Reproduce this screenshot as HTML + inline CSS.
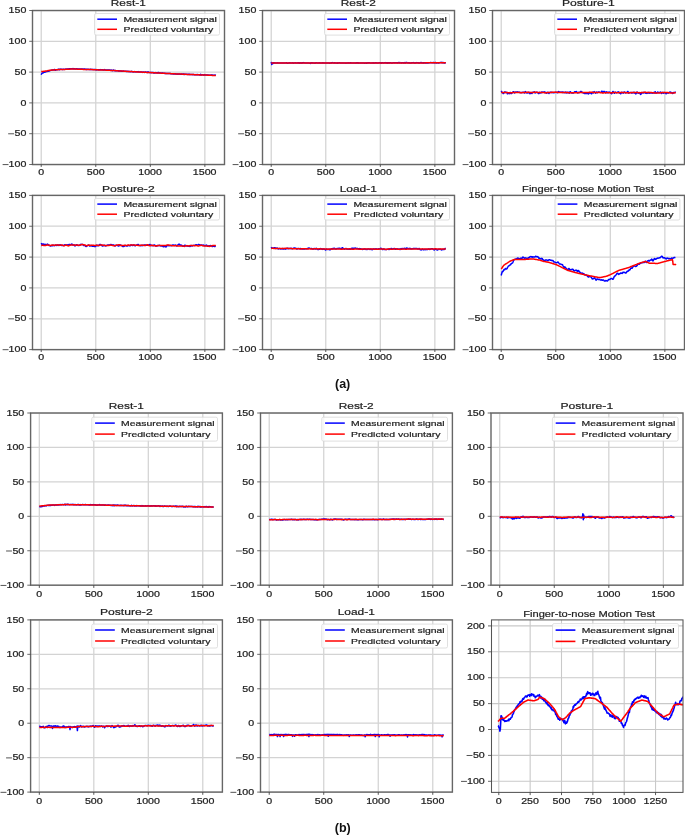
<!DOCTYPE html>
<html><head><meta charset="utf-8"><style>
html,body{margin:0;padding:0;background:#fff;}
svg{display:block;}
text{font-family:"Liberation Sans",sans-serif;}
svg{will-change:transform;}
</style></head><body>
<svg width="685" height="835" viewBox="0 0 685 835">
<rect width="685" height="835" fill="#fff"/>
<line x1="41.23" y1="10.50" x2="41.23" y2="164.50" stroke="#d3d3d3" stroke-width="1.25"/>
<line x1="95.77" y1="10.50" x2="95.77" y2="164.50" stroke="#d3d3d3" stroke-width="1.25"/>
<line x1="150.32" y1="10.50" x2="150.32" y2="164.50" stroke="#d3d3d3" stroke-width="1.25"/>
<line x1="204.86" y1="10.50" x2="204.86" y2="164.50" stroke="#d3d3d3" stroke-width="1.25"/>
<line x1="32.50" y1="164.50" x2="224.50" y2="164.50" stroke="#d3d3d3" stroke-width="1.25"/>
<line x1="32.50" y1="133.70" x2="224.50" y2="133.70" stroke="#d3d3d3" stroke-width="1.25"/>
<line x1="32.50" y1="102.90" x2="224.50" y2="102.90" stroke="#d3d3d3" stroke-width="1.25"/>
<line x1="32.50" y1="72.10" x2="224.50" y2="72.10" stroke="#d3d3d3" stroke-width="1.25"/>
<line x1="32.50" y1="41.30" x2="224.50" y2="41.30" stroke="#d3d3d3" stroke-width="1.25"/>
<line x1="32.50" y1="10.50" x2="224.50" y2="10.50" stroke="#d3d3d3" stroke-width="1.25"/>
<clipPath id="c1"><rect x="32.50" y="10.50" width="192.00" height="154.00"/></clipPath>
<polyline points="41.2,74.8 41.8,73.5 42.4,72.9 43.0,73.0 43.6,72.4 44.1,72.3 44.7,72.3 45.3,71.9 45.9,71.8 46.5,71.6 47.1,71.5 47.6,71.2 48.2,71.3 48.8,71.0 49.4,70.9 50.0,70.5 50.6,70.4 51.2,70.3 51.7,70.2 52.3,70.0 52.9,69.9 53.5,69.9 54.1,69.6 54.7,69.6 55.2,70.2 55.8,70.0 56.4,69.7 57.0,69.7 57.6,69.6 58.2,69.6 58.7,69.2 59.3,69.7 59.9,69.5 60.5,69.1 61.1,69.3 61.7,69.3 62.2,69.4 62.8,69.6 63.4,69.2 64.0,69.2 64.6,69.4 65.2,69.3 65.7,69.1 66.3,69.2 66.9,69.1 67.5,69.0 68.1,69.0 68.7,69.0 69.2,68.8 69.8,68.8 70.4,68.8 71.0,68.9 71.6,68.7 72.2,68.8 72.8,68.6 73.3,68.9 73.9,68.6 74.5,68.8 75.1,69.0 75.7,68.9 76.3,68.8 76.8,68.8 77.4,69.0 78.0,69.1 78.6,68.9 79.2,69.0 79.8,69.0 80.3,68.9 80.9,69.3 81.5,69.0 82.1,68.9 82.7,69.2 83.3,69.3 83.8,69.0 84.4,69.1 85.0,69.1 85.6,69.3 86.2,69.5 86.8,69.3 87.3,69.4 87.9,69.2 88.5,69.3 89.1,69.6 89.7,69.6 90.3,69.3 90.8,69.3 91.4,69.6 92.0,69.5 92.6,69.4 93.2,69.5 93.8,69.4 94.3,69.5 94.9,69.6 95.5,69.7 96.1,69.5 96.7,70.0 97.3,69.7 97.9,69.7 98.4,69.9 99.0,69.7 99.6,69.9 100.2,69.6 100.8,69.8 101.4,69.7 101.9,69.7 102.5,69.8 103.1,70.0 103.7,70.1 104.3,69.6 104.9,70.0 105.4,70.1 106.0,70.0 106.6,70.0 107.2,69.9 107.8,70.0 108.4,70.0 108.9,70.2 109.5,70.0 110.1,70.3 110.7,70.1 111.3,70.0 111.9,70.5 112.4,70.7 113.0,70.3 113.6,70.0 114.2,70.6 114.8,70.7 115.4,70.5 115.9,70.8 116.5,70.7 117.1,70.8 117.7,70.7 118.3,70.9 118.9,70.8 119.5,70.9 120.0,71.1 120.6,71.0 121.2,71.2 121.8,71.1 122.4,71.3 123.0,71.3 123.5,71.0 124.1,71.2 124.7,71.3 125.3,71.2 125.9,71.4 126.5,71.4 127.0,71.3 127.6,71.3 128.2,71.6 128.8,71.3 129.4,71.6 130.0,71.7 130.5,71.7 131.1,71.6 131.7,71.3 132.3,71.8 132.9,71.6 133.5,72.0 134.0,71.7 134.6,71.6 135.2,71.8 135.8,71.9 136.4,71.8 137.0,71.7 137.5,71.8 138.1,71.6 138.7,71.9 139.3,72.0 139.9,72.0 140.5,72.0 141.1,72.0 141.6,72.1 142.2,72.1 142.8,72.4 143.4,72.0 144.0,72.3 144.6,72.4 145.1,72.1 145.7,72.0 146.3,72.2 146.9,72.3 147.5,72.5 148.1,71.9 148.6,72.3 149.2,72.6 149.8,72.6 150.4,72.5 151.0,72.7 151.6,72.5 152.1,72.6 152.7,72.4 153.3,72.5 153.9,73.1 154.5,72.7 155.1,73.0 155.6,72.6 156.2,72.8 156.8,72.8 157.4,73.0 158.0,72.6 158.6,72.6 159.1,73.1 159.7,72.9 160.3,73.1 160.9,73.1 161.5,73.3 162.1,72.8 162.7,73.3 163.2,73.2 163.8,73.2 164.4,73.4 165.0,73.3 165.6,73.4 166.2,73.4 166.7,73.6 167.3,73.5 167.9,73.5 168.5,73.5 169.1,73.5 169.7,73.6 170.2,73.5 170.8,73.7 171.4,73.7 172.0,73.8 172.6,73.8 173.2,74.0 173.7,73.7 174.3,74.0 174.9,74.0 175.5,73.8 176.1,73.9 176.7,74.0 177.2,74.3 177.8,73.9 178.4,74.0 179.0,74.3 179.6,73.9 180.2,74.2 180.7,74.3 181.3,74.1 181.9,74.2 182.5,74.1 183.1,74.4 183.7,73.9 184.2,74.3 184.8,74.5 185.4,74.2 186.0,74.3 186.6,74.2 187.2,74.4 187.8,74.3 188.3,74.3 188.9,74.5 189.5,74.3 190.1,74.5 190.7,74.6 191.3,74.4 191.8,74.4 192.4,74.5 193.0,74.7 193.6,74.4 194.2,74.8 194.8,74.7 195.3,74.6 195.9,74.8 196.5,74.6 197.1,74.7 197.7,74.5 198.3,74.8 198.8,74.8 199.4,74.7 200.0,75.1 200.6,74.3 201.2,74.9 201.8,74.9 202.3,74.7 202.9,74.9 203.5,75.2 204.1,74.8 204.7,74.8 205.3,75.0 205.8,75.0 206.4,74.9 207.0,75.1 207.6,75.0 208.2,75.0 208.8,75.2 209.4,75.3 209.9,75.1 210.5,75.3 211.1,75.0 211.7,75.1 212.3,75.1 212.9,75.2 213.4,75.2 214.0,75.4 214.6,75.2 215.2,75.0 215.8,75.4" fill="none" stroke="#0000ff" stroke-width="1.50" stroke-linejoin="round" stroke-linecap="butt" clip-path="url(#c1)"/>
<polyline points="41.2,71.6 42.1,71.5 43.0,71.4 43.9,71.3 44.7,71.2 45.6,71.0 46.5,70.9 47.4,70.8 48.2,70.6 49.1,70.5 50.0,70.3 50.9,70.2 51.8,70.1 52.6,70.0 53.5,69.9 54.4,69.9 55.3,69.8 56.1,69.8 57.0,69.7 57.9,69.7 58.8,69.6 59.6,69.6 60.5,69.6 61.4,69.5 62.3,69.5 63.2,69.5 64.0,69.4 64.9,69.4 65.8,69.3 66.7,69.3 67.5,69.3 68.4,69.2 69.3,69.2 70.2,69.1 71.0,69.1 71.9,69.1 72.8,69.1 73.7,69.1 74.6,69.1 75.4,69.1 76.3,69.1 77.2,69.2 78.1,69.2 78.9,69.2 79.8,69.2 80.7,69.3 81.6,69.3 82.5,69.3 83.3,69.4 84.2,69.4 85.1,69.4 86.0,69.4 86.8,69.5 87.7,69.5 88.6,69.5 89.5,69.6 90.3,69.6 91.2,69.6 92.1,69.6 93.0,69.7 93.9,69.7 94.7,69.7 95.6,69.8 96.5,69.8 97.4,69.8 98.2,69.9 99.1,69.9 100.0,69.9 100.9,70.0 101.7,70.0 102.6,70.0 103.5,70.1 104.4,70.1 105.3,70.1 106.1,70.2 107.0,70.2 107.9,70.2 108.8,70.3 109.6,70.3 110.5,70.4 111.4,70.4 112.3,70.5 113.2,70.5 114.0,70.6 114.9,70.6 115.8,70.7 116.7,70.8 117.5,70.8 118.4,70.9 119.3,70.9 120.2,71.0 121.0,71.0 121.9,71.1 122.8,71.1 123.7,71.2 124.6,71.2 125.4,71.3 126.3,71.3 127.2,71.4 128.1,71.4 128.9,71.5 129.8,71.5 130.7,71.6 131.6,71.6 132.4,71.7 133.3,71.7 134.2,71.8 135.1,71.8 136.0,71.8 136.8,71.9 137.7,71.9 138.6,72.0 139.5,72.0 140.3,72.1 141.2,72.1 142.1,72.2 143.0,72.2 143.8,72.3 144.7,72.3 145.6,72.3 146.5,72.4 147.4,72.4 148.2,72.5 149.1,72.5 150.0,72.6 150.9,72.6 151.7,72.7 152.6,72.7 153.5,72.8 154.4,72.8 155.3,72.8 156.1,72.9 157.0,72.9 157.9,73.0 158.8,73.0 159.6,73.1 160.5,73.1 161.4,73.2 162.3,73.2 163.1,73.3 164.0,73.3 164.9,73.3 165.8,73.4 166.7,73.4 167.5,73.5 168.4,73.5 169.3,73.6 170.2,73.6 171.0,73.7 171.9,73.7 172.8,73.8 173.7,73.8 174.5,73.8 175.4,73.9 176.3,73.9 177.2,74.0 178.1,74.0 178.9,74.0 179.8,74.1 180.7,74.1 181.6,74.1 182.4,74.2 183.3,74.2 184.2,74.2 185.1,74.3 186.0,74.3 186.8,74.4 187.7,74.4 188.6,74.4 189.5,74.5 190.3,74.5 191.2,74.5 192.1,74.6 193.0,74.6 193.8,74.6 194.7,74.7 195.6,74.7 196.5,74.7 197.4,74.8 198.2,74.8 199.1,74.8 200.0,74.9 200.9,74.9 201.7,74.9 202.6,75.0 203.5,75.0 204.4,75.0 205.2,75.1 206.1,75.1 207.0,75.1 207.9,75.2 208.8,75.2 209.6,75.2 210.5,75.3 211.4,75.3 212.3,75.4 213.1,75.4 214.0,75.4 214.9,75.4 215.8,75.4" fill="none" stroke="#ff0000" stroke-width="1.50" stroke-linejoin="round" stroke-linecap="butt" clip-path="url(#c1)"/>
<rect x="94.50" y="13.50" width="125.00" height="21.60" rx="1.6" fill="#fff" fill-opacity="0.8" stroke="#d8d8d8" stroke-width="0.8"/>
<line x1="97.30" y1="19.20" x2="117.00" y2="19.20" stroke="#0000ff" stroke-width="1.50"/>
<line x1="97.30" y1="29.30" x2="117.00" y2="29.30" stroke="#ff0000" stroke-width="1.50"/>
<text transform="translate(123.47 21.70) scale(1.4826 1)" font-size="7.00" font-weight="normal" fill="#222" stroke="#222" stroke-width="0.20">Measurement signal</text>
<text transform="translate(123.46 31.70) scale(1.4993 1)" font-size="7.00" font-weight="normal" fill="#222" stroke="#222" stroke-width="0.20">Predicted voluntary</text>
<rect x="32.50" y="10.50" width="192.00" height="154.00" fill="none" stroke="#666" stroke-width="1.40"/>
<line x1="41.23" y1="164.50" x2="41.23" y2="166.90" stroke="#444" stroke-width="0.90"/>
<text transform="translate(38.27 174.60) scale(1.3000 1)" font-size="8.20" font-weight="normal" fill="#222" stroke="#222" stroke-width="0.20">0</text>
<line x1="95.77" y1="164.50" x2="95.77" y2="166.90" stroke="#444" stroke-width="0.90"/>
<text transform="translate(86.87 174.60) scale(1.3000 1)" font-size="8.20" font-weight="normal" fill="#222" stroke="#222" stroke-width="0.20">500</text>
<line x1="150.32" y1="164.50" x2="150.32" y2="166.90" stroke="#444" stroke-width="0.90"/>
<text transform="translate(138.25 174.60) scale(1.3000 1)" font-size="8.20" font-weight="normal" fill="#222" stroke="#222" stroke-width="0.20">1000</text>
<line x1="204.86" y1="164.50" x2="204.86" y2="166.90" stroke="#444" stroke-width="0.90"/>
<text transform="translate(192.79 174.60) scale(1.3000 1)" font-size="8.20" font-weight="normal" fill="#222" stroke="#222" stroke-width="0.20">1500</text>
<line x1="29.20" y1="164.50" x2="32.50" y2="164.50" stroke="#444" stroke-width="0.80"/>
<text transform="translate(8.62 167.15) scale(1.3000 1)" font-size="8.20" font-weight="normal" fill="#222" stroke="#222" stroke-width="0.20">100</text>
<rect x="2.62" y="164.08" width="5.90" height="1.00" fill="#555"/>
<line x1="29.20" y1="133.70" x2="32.50" y2="133.70" stroke="#444" stroke-width="0.80"/>
<text transform="translate(14.54 136.35) scale(1.3000 1)" font-size="8.20" font-weight="normal" fill="#222" stroke="#222" stroke-width="0.20">50</text>
<rect x="8.17" y="133.28" width="5.90" height="1.00" fill="#555"/>
<line x1="29.20" y1="102.90" x2="32.50" y2="102.90" stroke="#444" stroke-width="0.80"/>
<text transform="translate(20.46 105.55) scale(1.3000 1)" font-size="8.20" font-weight="normal" fill="#222" stroke="#222" stroke-width="0.20">0</text>
<line x1="29.20" y1="72.10" x2="32.50" y2="72.10" stroke="#444" stroke-width="0.80"/>
<text transform="translate(14.54 74.75) scale(1.3000 1)" font-size="8.20" font-weight="normal" fill="#222" stroke="#222" stroke-width="0.20">50</text>
<line x1="29.20" y1="41.30" x2="32.50" y2="41.30" stroke="#444" stroke-width="0.80"/>
<text transform="translate(8.62 43.95) scale(1.3000 1)" font-size="8.20" font-weight="normal" fill="#222" stroke="#222" stroke-width="0.20">100</text>
<line x1="29.20" y1="10.50" x2="32.50" y2="10.50" stroke="#444" stroke-width="0.80"/>
<text transform="translate(8.62 13.15) scale(1.3000 1)" font-size="8.20" font-weight="normal" fill="#222" stroke="#222" stroke-width="0.20">150</text>
<text transform="translate(110.80 5.80) scale(1.2774 1)" font-size="9.30" font-weight="normal" fill="#222" stroke="#222" stroke-width="0.20">Rest-1</text>
<line x1="271.23" y1="10.50" x2="271.23" y2="164.50" stroke="#d3d3d3" stroke-width="1.25"/>
<line x1="325.77" y1="10.50" x2="325.77" y2="164.50" stroke="#d3d3d3" stroke-width="1.25"/>
<line x1="380.32" y1="10.50" x2="380.32" y2="164.50" stroke="#d3d3d3" stroke-width="1.25"/>
<line x1="434.86" y1="10.50" x2="434.86" y2="164.50" stroke="#d3d3d3" stroke-width="1.25"/>
<line x1="262.50" y1="164.50" x2="454.50" y2="164.50" stroke="#d3d3d3" stroke-width="1.25"/>
<line x1="262.50" y1="133.70" x2="454.50" y2="133.70" stroke="#d3d3d3" stroke-width="1.25"/>
<line x1="262.50" y1="102.90" x2="454.50" y2="102.90" stroke="#d3d3d3" stroke-width="1.25"/>
<line x1="262.50" y1="72.10" x2="454.50" y2="72.10" stroke="#d3d3d3" stroke-width="1.25"/>
<line x1="262.50" y1="41.30" x2="454.50" y2="41.30" stroke="#d3d3d3" stroke-width="1.25"/>
<line x1="262.50" y1="10.50" x2="454.50" y2="10.50" stroke="#d3d3d3" stroke-width="1.25"/>
<clipPath id="c2"><rect x="262.50" y="10.50" width="192.00" height="154.00"/></clipPath>
<polyline points="271.2,61.9 271.8,64.6 272.4,63.0 273.0,63.4 273.6,62.7 274.1,62.8 274.7,63.0 275.3,62.9 275.9,62.9 276.5,63.1 277.1,62.8 277.6,63.0 278.2,63.0 278.8,63.1 279.4,62.9 280.0,63.0 280.6,62.9 281.2,63.1 281.7,63.0 282.3,63.1 282.9,62.9 283.5,63.0 284.1,62.9 284.7,62.9 285.2,63.1 285.8,62.9 286.4,62.7 287.0,63.2 287.6,63.2 288.2,63.2 288.7,62.9 289.3,63.0 289.9,62.8 290.5,62.9 291.1,63.0 291.7,62.9 292.2,63.0 292.8,62.8 293.4,63.2 294.0,63.0 294.6,62.9 295.2,62.7 295.7,63.1 296.3,63.1 296.9,63.1 297.5,62.8 298.1,63.0 298.7,62.8 299.2,63.3 299.8,62.8 300.4,62.8 301.0,63.2 301.6,63.0 302.2,62.8 302.8,63.0 303.3,62.8 303.9,62.6 304.5,62.9 305.1,63.0 305.7,63.1 306.3,62.9 306.8,63.0 307.4,63.0 308.0,63.0 308.6,62.9 309.2,63.1 309.8,63.2 310.3,63.4 310.9,62.8 311.5,63.0 312.1,62.8 312.7,63.0 313.3,63.1 313.8,62.9 314.4,63.0 315.0,63.2 315.6,63.1 316.2,62.7 316.8,62.9 317.3,62.9 317.9,63.0 318.5,63.1 319.1,62.8 319.7,63.0 320.3,63.1 320.8,63.0 321.4,63.1 322.0,63.0 322.6,62.8 323.2,63.1 323.8,62.8 324.3,63.1 324.9,63.0 325.5,63.1 326.1,63.0 326.7,63.0 327.3,63.1 327.9,63.1 328.4,63.1 329.0,63.1 329.6,63.2 330.2,63.0 330.8,62.9 331.4,62.8 331.9,62.9 332.5,62.6 333.1,62.9 333.7,63.1 334.3,62.7 334.9,63.1 335.4,62.8 336.0,63.1 336.6,62.9 337.2,63.3 337.8,62.8 338.4,63.0 338.9,63.1 339.5,62.7 340.1,62.9 340.7,63.0 341.3,63.1 341.9,63.0 342.4,63.0 343.0,62.9 343.6,62.9 344.2,63.1 344.8,63.1 345.4,63.1 345.9,63.2 346.5,63.1 347.1,63.0 347.7,62.9 348.3,62.8 348.9,63.1 349.5,62.9 350.0,63.1 350.6,62.7 351.2,63.0 351.8,62.9 352.4,63.1 353.0,63.1 353.5,63.0 354.1,63.0 354.7,62.9 355.3,63.2 355.9,62.9 356.5,63.1 357.0,62.7 357.6,63.0 358.2,62.8 358.8,63.2 359.4,62.9 360.0,63.1 360.5,63.1 361.1,63.0 361.7,63.0 362.3,62.9 362.9,62.9 363.5,62.9 364.0,63.0 364.6,63.2 365.2,63.1 365.8,63.0 366.4,63.3 367.0,62.8 367.5,63.0 368.1,63.0 368.7,62.8 369.3,62.8 369.9,62.9 370.5,63.1 371.1,62.9 371.6,62.9 372.2,63.1 372.8,62.8 373.4,62.8 374.0,63.2 374.6,62.9 375.1,63.1 375.7,62.7 376.3,62.8 376.9,63.1 377.5,63.0 378.1,62.9 378.6,62.9 379.2,62.7 379.8,62.8 380.4,62.9 381.0,62.8 381.6,63.2 382.1,62.8 382.7,62.8 383.3,62.9 383.9,63.0 384.5,62.8 385.1,62.6 385.6,62.8 386.2,63.1 386.8,62.7 387.4,63.2 388.0,62.8 388.6,63.0 389.1,62.7 389.7,63.0 390.3,62.7 390.9,62.8 391.5,63.1 392.1,63.2 392.7,62.9 393.2,62.7 393.8,62.8 394.4,62.8 395.0,62.9 395.6,62.7 396.2,62.8 396.7,62.8 397.3,63.0 397.9,62.7 398.5,62.6 399.1,63.0 399.7,62.5 400.2,62.7 400.8,62.9 401.4,63.1 402.0,62.7 402.6,62.7 403.2,62.9 403.7,63.1 404.3,62.6 404.9,62.9 405.5,62.9 406.1,62.4 406.7,62.5 407.2,62.7 407.8,62.9 408.4,62.7 409.0,63.1 409.6,62.8 410.2,62.9 410.7,63.0 411.3,63.0 411.9,62.7 412.5,62.8 413.1,62.8 413.7,62.6 414.2,62.9 414.8,63.0 415.4,63.0 416.0,62.8 416.6,62.6 417.2,62.8 417.8,62.7 418.3,62.9 418.9,62.8 419.5,62.9 420.1,62.9 420.7,62.5 421.3,62.6 421.8,62.9 422.4,62.9 423.0,62.7 423.6,63.0 424.2,62.7 424.8,62.9 425.3,62.8 425.9,62.9 426.5,62.8 427.1,62.9 427.7,63.0 428.3,62.9 428.8,62.8 429.4,62.8 430.0,62.7 430.6,62.5 431.2,62.6 431.8,62.8 432.3,62.6 432.9,62.8 433.5,62.5 434.1,62.6 434.7,62.9 435.3,62.6 435.8,62.6 436.4,63.1 437.0,62.8 437.6,62.8 438.2,63.0 438.8,62.9 439.4,62.8 439.9,62.6 440.5,62.6 441.1,62.3 441.7,62.7 442.3,62.5 442.9,62.7 443.4,62.6 444.0,62.9 444.6,63.0 445.2,62.8 445.8,62.6" fill="none" stroke="#0000ff" stroke-width="1.50" stroke-linejoin="round" stroke-linecap="butt" clip-path="url(#c2)"/>
<polyline points="271.2,63.1 273.0,63.1 274.8,63.1 276.5,63.1 278.3,63.1 280.0,63.1 281.8,63.1 283.6,63.1 285.3,63.1 287.1,63.1 288.9,63.1 290.6,63.1 292.4,63.1 294.1,63.1 295.9,63.1 297.7,63.1 299.4,63.1 301.2,63.1 303.0,63.1 304.7,63.1 306.5,63.1 308.3,63.1 310.0,63.1 311.8,63.1 313.5,63.1 315.3,63.1 317.1,63.1 318.8,63.1 320.6,63.1 322.4,63.1 324.1,63.1 325.9,63.1 327.6,63.1 329.4,63.1 331.2,63.1 332.9,63.1 334.7,63.1 336.5,63.1 338.2,63.1 340.0,63.1 341.8,63.1 343.5,63.1 345.3,63.1 347.0,63.1 348.8,63.1 350.6,63.1 352.3,63.1 354.1,63.1 355.9,63.1 357.6,63.1 359.4,63.1 361.1,63.1 362.9,63.1 364.7,63.1 366.4,63.1 368.2,63.1 370.0,63.1 371.7,63.1 373.5,63.0 375.2,63.0 377.0,63.0 378.8,63.0 380.5,63.0 382.3,63.0 384.1,63.0 385.8,63.0 387.6,63.0 389.4,63.0 391.1,63.0 392.9,63.0 394.6,63.0 396.4,63.0 398.2,63.0 399.9,63.0 401.7,62.9 403.5,62.9 405.2,62.9 407.0,62.9 408.7,62.9 410.5,62.9 412.3,62.9 414.0,62.9 415.8,62.9 417.6,62.9 419.3,62.9 421.1,62.9 422.9,62.9 424.6,62.9 426.4,62.8 428.1,62.8 429.9,62.8 431.7,62.8 433.4,62.8 435.2,62.8 437.0,62.8 438.7,62.8 440.5,62.8 442.2,62.8 444.0,62.7 445.8,62.7" fill="none" stroke="#ff0000" stroke-width="1.50" stroke-linejoin="round" stroke-linecap="butt" clip-path="url(#c2)"/>
<rect x="324.50" y="13.50" width="125.00" height="21.60" rx="1.6" fill="#fff" fill-opacity="0.8" stroke="#d8d8d8" stroke-width="0.8"/>
<line x1="327.30" y1="19.20" x2="347.00" y2="19.20" stroke="#0000ff" stroke-width="1.50"/>
<line x1="327.30" y1="29.30" x2="347.00" y2="29.30" stroke="#ff0000" stroke-width="1.50"/>
<text transform="translate(353.47 21.70) scale(1.4826 1)" font-size="7.00" font-weight="normal" fill="#222" stroke="#222" stroke-width="0.20">Measurement signal</text>
<text transform="translate(353.46 31.70) scale(1.4993 1)" font-size="7.00" font-weight="normal" fill="#222" stroke="#222" stroke-width="0.20">Predicted voluntary</text>
<rect x="262.50" y="10.50" width="192.00" height="154.00" fill="none" stroke="#666" stroke-width="1.40"/>
<line x1="271.23" y1="164.50" x2="271.23" y2="166.90" stroke="#444" stroke-width="0.90"/>
<text transform="translate(268.27 174.60) scale(1.3000 1)" font-size="8.20" font-weight="normal" fill="#222" stroke="#222" stroke-width="0.20">0</text>
<line x1="325.77" y1="164.50" x2="325.77" y2="166.90" stroke="#444" stroke-width="0.90"/>
<text transform="translate(316.87 174.60) scale(1.3000 1)" font-size="8.20" font-weight="normal" fill="#222" stroke="#222" stroke-width="0.20">500</text>
<line x1="380.32" y1="164.50" x2="380.32" y2="166.90" stroke="#444" stroke-width="0.90"/>
<text transform="translate(368.25 174.60) scale(1.3000 1)" font-size="8.20" font-weight="normal" fill="#222" stroke="#222" stroke-width="0.20">1000</text>
<line x1="434.86" y1="164.50" x2="434.86" y2="166.90" stroke="#444" stroke-width="0.90"/>
<text transform="translate(422.79 174.60) scale(1.3000 1)" font-size="8.20" font-weight="normal" fill="#222" stroke="#222" stroke-width="0.20">1500</text>
<line x1="259.20" y1="164.50" x2="262.50" y2="164.50" stroke="#444" stroke-width="0.80"/>
<text transform="translate(238.62 167.15) scale(1.3000 1)" font-size="8.20" font-weight="normal" fill="#222" stroke="#222" stroke-width="0.20">100</text>
<rect x="232.62" y="164.08" width="5.90" height="1.00" fill="#555"/>
<line x1="259.20" y1="133.70" x2="262.50" y2="133.70" stroke="#444" stroke-width="0.80"/>
<text transform="translate(244.54 136.35) scale(1.3000 1)" font-size="8.20" font-weight="normal" fill="#222" stroke="#222" stroke-width="0.20">50</text>
<rect x="238.17" y="133.28" width="5.90" height="1.00" fill="#555"/>
<line x1="259.20" y1="102.90" x2="262.50" y2="102.90" stroke="#444" stroke-width="0.80"/>
<text transform="translate(250.46 105.55) scale(1.3000 1)" font-size="8.20" font-weight="normal" fill="#222" stroke="#222" stroke-width="0.20">0</text>
<line x1="259.20" y1="72.10" x2="262.50" y2="72.10" stroke="#444" stroke-width="0.80"/>
<text transform="translate(244.54 74.75) scale(1.3000 1)" font-size="8.20" font-weight="normal" fill="#222" stroke="#222" stroke-width="0.20">50</text>
<line x1="259.20" y1="41.30" x2="262.50" y2="41.30" stroke="#444" stroke-width="0.80"/>
<text transform="translate(238.62 43.95) scale(1.3000 1)" font-size="8.20" font-weight="normal" fill="#222" stroke="#222" stroke-width="0.20">100</text>
<line x1="259.20" y1="10.50" x2="262.50" y2="10.50" stroke="#444" stroke-width="0.80"/>
<text transform="translate(238.62 13.15) scale(1.3000 1)" font-size="8.20" font-weight="normal" fill="#222" stroke="#222" stroke-width="0.20">150</text>
<text transform="translate(340.75 5.80) scale(1.2812 1)" font-size="9.30" font-weight="normal" fill="#222" stroke="#222" stroke-width="0.20">Rest-2</text>
<line x1="501.23" y1="10.50" x2="501.23" y2="164.50" stroke="#d3d3d3" stroke-width="1.25"/>
<line x1="555.77" y1="10.50" x2="555.77" y2="164.50" stroke="#d3d3d3" stroke-width="1.25"/>
<line x1="610.32" y1="10.50" x2="610.32" y2="164.50" stroke="#d3d3d3" stroke-width="1.25"/>
<line x1="664.86" y1="10.50" x2="664.86" y2="164.50" stroke="#d3d3d3" stroke-width="1.25"/>
<line x1="492.50" y1="164.50" x2="684.50" y2="164.50" stroke="#d3d3d3" stroke-width="1.25"/>
<line x1="492.50" y1="133.70" x2="684.50" y2="133.70" stroke="#d3d3d3" stroke-width="1.25"/>
<line x1="492.50" y1="102.90" x2="684.50" y2="102.90" stroke="#d3d3d3" stroke-width="1.25"/>
<line x1="492.50" y1="72.10" x2="684.50" y2="72.10" stroke="#d3d3d3" stroke-width="1.25"/>
<line x1="492.50" y1="41.30" x2="684.50" y2="41.30" stroke="#d3d3d3" stroke-width="1.25"/>
<line x1="492.50" y1="10.50" x2="684.50" y2="10.50" stroke="#d3d3d3" stroke-width="1.25"/>
<clipPath id="c3"><rect x="492.50" y="10.50" width="192.00" height="154.00"/></clipPath>
<polyline points="501.2,90.9 501.6,91.5 502.0,92.4 502.4,92.7 502.8,92.9 503.2,93.5 503.6,93.4 503.9,92.9 504.3,92.6 504.7,91.9 505.1,91.8 505.5,92.4 505.9,92.6 506.3,92.6 506.7,92.3 507.1,92.8 507.4,93.8 507.8,93.8 508.2,93.4 508.6,92.9 509.0,93.0 509.4,93.7 509.8,93.1 510.2,92.3 510.6,93.0 510.9,93.5 511.3,93.5 511.7,93.4 512.1,92.9 512.5,92.5 512.9,92.3 513.3,91.8 513.7,91.8 514.1,92.3 514.4,92.8 514.8,92.9 515.2,92.3 515.6,92.0 516.0,92.1 516.4,92.3 516.8,92.1 517.2,91.8 517.6,92.0 517.9,92.2 518.3,92.3 518.7,92.2 519.1,92.1 519.5,92.4 519.9,92.7 520.3,92.7 520.7,92.6 521.1,92.5 521.4,92.7 521.8,92.5 522.2,92.3 522.6,92.6 523.0,92.6 523.4,92.3 523.8,92.3 524.2,92.7 524.6,93.0 524.9,92.5 525.3,91.6 525.7,91.9 526.1,92.3 526.5,92.6 526.9,93.0 527.3,93.1 527.7,92.6 528.1,92.7 528.4,92.8 528.8,92.2 529.2,92.4 529.6,93.2 530.0,93.7 530.4,93.4 530.8,92.6 531.2,92.6 531.5,93.2 531.9,93.5 532.3,92.9 532.7,92.3 533.1,92.3 533.5,92.3 533.9,92.0 534.3,91.8 534.7,92.2 535.0,92.9 535.4,92.9 535.8,92.4 536.2,92.4 536.6,92.3 537.0,92.2 537.4,92.3 537.8,92.6 538.2,93.1 538.5,93.5 538.9,93.5 539.3,93.0 539.7,92.3 540.1,92.4 540.5,92.9 540.9,93.1 541.3,92.6 541.7,91.9 542.0,91.9 542.4,92.3 542.8,92.4 543.2,92.3 543.6,92.2 544.0,92.0 544.4,91.8 544.8,92.1 545.2,92.8 545.5,92.8 545.9,92.4 546.3,92.8 546.7,93.1 547.1,92.7 547.5,92.5 547.9,92.3 548.3,92.4 548.7,93.1 549.0,93.4 549.4,92.9 549.8,92.4 550.2,92.3 550.6,92.4 551.0,92.2 551.4,92.3 551.8,92.6 552.2,92.7 552.5,92.5 552.9,92.5 553.3,92.6 553.7,92.8 554.1,92.7 554.5,92.6 554.9,92.5 555.3,92.3 555.7,92.3 556.0,92.3 556.4,92.4 556.8,92.6 557.2,92.6 557.6,92.7 558.0,92.2 558.4,91.6 558.8,91.7 559.1,92.0 559.5,92.0 559.9,92.1 560.3,92.3 560.7,92.2 561.1,92.1 561.5,92.2 561.9,92.4 562.3,92.4 562.6,92.1 563.0,92.0 563.4,92.6 563.8,92.6 564.2,92.3 564.6,92.6 565.0,92.8 565.4,92.5 565.8,92.0 566.1,92.1 566.5,92.8 566.9,92.9 567.3,92.5 567.7,92.3 568.1,92.2 568.5,92.4 568.9,92.8 569.3,93.1 569.6,92.6 570.0,91.8 570.4,91.7 570.8,92.3 571.2,92.9 571.6,92.8 572.0,92.6 572.4,93.1 572.8,93.1 573.1,92.9 573.5,93.0 573.9,92.6 574.3,92.1 574.7,91.7 575.1,91.8 575.5,92.0 575.9,91.7 576.3,91.6 576.6,91.9 577.0,92.1 577.4,92.6 577.8,92.9 578.2,92.5 578.6,92.3 579.0,92.6 579.4,92.6 579.8,92.3 580.1,92.2 580.5,91.9 580.9,91.4 581.3,91.7 581.7,92.3 582.1,92.4 582.5,92.3 582.9,92.6 583.3,93.1 583.6,93.1 584.0,93.1 584.4,93.4 584.8,93.5 585.2,93.5 585.6,93.5 586.0,93.5 586.4,93.5 586.8,93.5 587.1,93.3 587.5,93.2 587.9,93.4 588.3,94.0 588.7,93.7 589.1,92.6 589.5,92.5 589.9,93.0 590.2,92.9 590.6,92.9 591.0,93.3 591.4,93.8 591.8,93.6 592.2,92.7 592.6,92.2 593.0,92.4 593.4,92.9 593.7,92.3 594.1,91.6 594.5,92.0 594.9,92.3 595.3,92.8 595.7,93.1 596.1,92.5 596.5,92.1 596.9,92.5 597.2,92.8 597.6,92.6 598.0,92.1 598.4,91.9 598.8,92.0 599.2,92.1 599.6,92.2 600.0,92.5 600.4,92.5 600.7,92.3 601.1,92.1 601.5,91.7 601.9,91.1 602.3,91.7 602.7,92.4 603.1,92.2 603.5,91.7 603.9,91.4 604.2,91.5 604.6,91.6 605.0,91.8 605.4,92.5 605.8,92.9 606.2,92.1 606.6,91.8 607.0,92.1 607.4,92.3 607.7,92.8 608.1,92.8 608.5,92.3 608.9,92.0 609.3,92.2 609.7,92.3 610.1,92.3 610.5,92.9 610.9,93.2 611.2,93.3 611.6,93.7 612.0,93.3 612.4,92.4 612.8,91.5 613.2,91.6 613.6,92.1 614.0,92.8 614.4,93.3 614.7,92.6 615.1,92.1 615.5,92.4 615.9,92.5 616.3,92.8 616.7,92.7 617.1,92.4 617.5,92.3 617.9,92.0 618.2,91.8 618.6,92.0 619.0,92.5 619.4,92.9 619.8,93.1 620.2,93.4 620.6,93.8 621.0,93.5 621.3,92.7 621.7,92.2 622.1,92.5 622.5,92.7 622.9,93.0 623.3,93.2 623.7,92.6 624.1,92.0 624.5,92.0 624.8,92.3 625.2,92.8 625.6,92.9 626.0,92.4 626.4,92.4 626.8,92.7 627.2,92.3 627.6,91.5 628.0,91.4 628.3,92.4 628.7,93.2 629.1,93.0 629.5,92.7 629.9,92.6 630.3,92.5 630.7,92.6 631.1,92.6 631.5,92.7 631.8,93.1 632.2,92.8 632.6,92.5 633.0,92.8 633.4,92.8 633.8,92.2 634.2,92.3 634.6,93.1 635.0,93.0 635.3,93.3 635.7,93.9 636.1,93.6 636.5,92.9 636.9,92.0 637.3,92.2 637.7,93.0 638.1,93.1 638.5,93.2 638.8,93.0 639.2,92.6 639.6,92.7 640.0,93.4 640.4,94.3 640.8,94.4 641.2,93.8 641.6,92.9 642.0,92.5 642.3,92.6 642.7,92.9 643.1,93.0 643.5,92.5 643.9,92.4 644.3,92.8 644.7,92.6 645.1,92.4 645.5,93.1 645.8,93.2 646.2,92.9 646.6,93.1 647.0,93.4 647.4,93.2 647.8,92.8 648.2,92.4 648.6,92.5 648.9,93.3 649.3,93.2 649.7,92.5 650.1,92.7 650.5,93.1 650.9,93.0 651.3,92.9 651.7,92.9 652.1,92.9 652.4,92.9 652.8,93.2 653.2,93.1 653.6,92.4 654.0,92.4 654.4,92.9 654.8,92.2 655.2,91.7 655.6,92.6 655.9,93.1 656.3,92.9 656.7,93.1 657.1,92.6 657.5,92.1 657.9,92.2 658.3,92.5 658.7,92.6 659.1,92.6 659.4,92.6 659.8,92.7 660.2,92.5 660.6,92.0 661.0,92.7 661.4,93.5 661.8,93.1 662.2,92.4 662.6,92.4 662.9,92.9 663.3,93.2 663.7,92.8 664.1,92.4 664.5,92.6 664.9,92.9 665.3,92.8 665.7,93.3 666.1,93.8 666.4,93.5 666.8,93.1 667.2,93.0 667.6,92.8 668.0,92.9 668.4,93.0 668.8,92.9 669.2,92.5 669.6,92.2 669.9,92.0 670.3,92.1 670.7,92.4 671.1,92.4 671.5,92.7 671.9,92.8 672.3,93.0 672.7,93.4 673.1,93.1 673.4,92.6 673.8,92.4 674.2,92.6 674.6,92.7 675.0,92.4 675.4,92.2 675.8,92.3" fill="none" stroke="#0000ff" stroke-width="1.50" stroke-linejoin="round" stroke-linecap="butt" clip-path="url(#c3)"/>
<polyline points="501.2,92.6 501.6,92.6 502.0,92.6 502.4,92.5 502.8,92.5 503.2,92.5 503.6,92.4 503.9,92.4 504.3,92.4 504.7,92.4 505.1,92.4 505.5,92.4 505.9,92.5 506.3,92.5 506.7,92.6 507.1,92.6 507.4,92.6 507.8,92.7 508.2,92.7 508.6,92.7 509.0,92.7 509.4,92.7 509.8,92.7 510.2,92.7 510.6,92.7 510.9,92.7 511.3,92.7 511.7,92.7 512.1,92.7 512.5,92.6 512.9,92.6 513.3,92.6 513.7,92.6 514.1,92.6 514.4,92.5 514.8,92.5 515.2,92.5 515.6,92.5 516.0,92.4 516.4,92.4 516.8,92.4 517.2,92.4 517.6,92.4 517.9,92.4 518.3,92.5 518.7,92.5 519.1,92.5 519.5,92.6 519.9,92.6 520.3,92.6 520.7,92.7 521.1,92.7 521.4,92.7 521.8,92.7 522.2,92.6 522.6,92.6 523.0,92.6 523.4,92.6 523.8,92.5 524.2,92.5 524.6,92.5 524.9,92.5 525.3,92.4 525.7,92.4 526.1,92.4 526.5,92.4 526.9,92.3 527.3,92.3 527.7,92.3 528.1,92.3 528.4,92.3 528.8,92.4 529.2,92.4 529.6,92.5 530.0,92.5 530.4,92.6 530.8,92.6 531.2,92.6 531.5,92.6 531.9,92.6 532.3,92.6 532.7,92.5 533.1,92.5 533.5,92.4 533.9,92.4 534.3,92.3 534.7,92.3 535.0,92.3 535.4,92.3 535.8,92.3 536.2,92.3 536.6,92.3 537.0,92.4 537.4,92.4 537.8,92.4 538.2,92.5 538.5,92.5 538.9,92.5 539.3,92.5 539.7,92.5 540.1,92.5 540.5,92.5 540.9,92.5 541.3,92.6 541.7,92.6 542.0,92.6 542.4,92.6 542.8,92.6 543.2,92.6 543.6,92.6 544.0,92.6 544.4,92.7 544.8,92.7 545.2,92.7 545.5,92.7 545.9,92.7 546.3,92.7 546.7,92.7 547.1,92.7 547.5,92.6 547.9,92.6 548.3,92.6 548.7,92.5 549.0,92.5 549.4,92.5 549.8,92.4 550.2,92.4 550.6,92.4 551.0,92.4 551.4,92.4 551.8,92.3 552.2,92.3 552.5,92.3 552.9,92.3 553.3,92.3 553.7,92.2 554.1,92.2 554.5,92.2 554.9,92.2 555.3,92.2 555.7,92.2 556.0,92.3 556.4,92.3 556.8,92.3 557.2,92.3 557.6,92.3 558.0,92.4 558.4,92.4 558.8,92.5 559.1,92.5 559.5,92.5 559.9,92.6 560.3,92.6 560.7,92.6 561.1,92.6 561.5,92.6 561.9,92.6 562.3,92.5 562.6,92.5 563.0,92.5 563.4,92.5 563.8,92.5 564.2,92.5 564.6,92.5 565.0,92.6 565.4,92.6 565.8,92.6 566.1,92.6 566.5,92.6 566.9,92.6 567.3,92.6 567.7,92.6 568.1,92.7 568.5,92.7 568.9,92.7 569.3,92.7 569.6,92.8 570.0,92.8 570.4,92.8 570.8,92.8 571.2,92.8 571.6,92.8 572.0,92.8 572.4,92.8 572.8,92.8 573.1,92.8 573.5,92.8 573.9,92.8 574.3,92.8 574.7,92.8 575.1,92.8 575.5,92.8 575.9,92.8 576.3,92.8 576.6,92.8 577.0,92.8 577.4,92.7 577.8,92.7 578.2,92.7 578.6,92.7 579.0,92.7 579.4,92.6 579.8,92.6 580.1,92.6 580.5,92.6 580.9,92.5 581.3,92.5 581.7,92.5 582.1,92.4 582.5,92.4 582.9,92.4 583.3,92.4 583.6,92.4 584.0,92.4 584.4,92.4 584.8,92.4 585.2,92.4 585.6,92.5 586.0,92.5 586.4,92.5 586.8,92.5 587.1,92.5 587.5,92.5 587.9,92.5 588.3,92.4 588.7,92.4 589.1,92.4 589.5,92.3 589.9,92.3 590.2,92.3 590.6,92.3 591.0,92.3 591.4,92.3 591.8,92.3 592.2,92.3 592.6,92.4 593.0,92.4 593.4,92.4 593.7,92.4 594.1,92.4 594.5,92.5 594.9,92.5 595.3,92.5 595.7,92.5 596.1,92.5 596.5,92.6 596.9,92.6 597.2,92.6 597.6,92.6 598.0,92.6 598.4,92.6 598.8,92.6 599.2,92.6 599.6,92.6 600.0,92.6 600.4,92.6 600.7,92.7 601.1,92.7 601.5,92.8 601.9,92.8 602.3,92.9 602.7,92.9 603.1,92.9 603.5,92.9 603.9,92.9 604.2,92.8 604.6,92.8 605.0,92.8 605.4,92.7 605.8,92.7 606.2,92.7 606.6,92.7 607.0,92.6 607.4,92.6 607.7,92.6 608.1,92.7 608.5,92.7 608.9,92.7 609.3,92.8 609.7,92.8 610.1,92.8 610.5,92.8 610.9,92.9 611.2,92.8 611.6,92.8 612.0,92.8 612.4,92.7 612.8,92.7 613.2,92.6 613.6,92.6 614.0,92.6 614.4,92.6 614.7,92.6 615.1,92.6 615.5,92.6 615.9,92.6 616.3,92.7 616.7,92.7 617.1,92.7 617.5,92.7 617.9,92.7 618.2,92.7 618.6,92.7 619.0,92.7 619.4,92.6 619.8,92.6 620.2,92.6 620.6,92.5 621.0,92.5 621.3,92.5 621.7,92.5 622.1,92.5 622.5,92.5 622.9,92.5 623.3,92.5 623.7,92.5 624.1,92.5 624.5,92.6 624.8,92.6 625.2,92.6 625.6,92.7 626.0,92.7 626.4,92.8 626.8,92.8 627.2,92.8 627.6,92.8 628.0,92.9 628.3,92.9 628.7,92.8 629.1,92.8 629.5,92.8 629.9,92.7 630.3,92.7 630.7,92.7 631.1,92.6 631.5,92.6 631.8,92.6 632.2,92.6 632.6,92.5 633.0,92.5 633.4,92.5 633.8,92.5 634.2,92.5 634.6,92.5 635.0,92.5 635.3,92.5 635.7,92.5 636.1,92.5 636.5,92.5 636.9,92.6 637.3,92.6 637.7,92.6 638.1,92.6 638.5,92.7 638.8,92.7 639.2,92.7 639.6,92.7 640.0,92.7 640.4,92.7 640.8,92.7 641.2,92.6 641.6,92.6 642.0,92.5 642.3,92.5 642.7,92.4 643.1,92.4 643.5,92.4 643.9,92.3 644.3,92.3 644.7,92.3 645.1,92.3 645.5,92.3 645.8,92.4 646.2,92.4 646.6,92.4 647.0,92.4 647.4,92.5 647.8,92.5 648.2,92.5 648.6,92.5 648.9,92.5 649.3,92.5 649.7,92.5 650.1,92.5 650.5,92.5 650.9,92.5 651.3,92.6 651.7,92.6 652.1,92.6 652.4,92.7 652.8,92.7 653.2,92.7 653.6,92.8 654.0,92.8 654.4,92.9 654.8,92.9 655.2,92.9 655.6,92.9 655.9,92.9 656.3,92.9 656.7,92.9 657.1,92.9 657.5,92.9 657.9,92.9 658.3,92.9 658.7,92.9 659.1,92.9 659.4,92.9 659.8,92.8 660.2,92.8 660.6,92.7 661.0,92.7 661.4,92.7 661.8,92.6 662.2,92.6 662.6,92.6 662.9,92.6 663.3,92.5 663.7,92.5 664.1,92.5 664.5,92.5 664.9,92.5 665.3,92.5 665.7,92.5 666.1,92.5 666.4,92.5 666.8,92.5 667.2,92.6 667.6,92.6 668.0,92.6 668.4,92.7 668.8,92.7 669.2,92.8 669.6,92.8 669.9,92.8 670.3,92.9 670.7,92.9 671.1,92.9 671.5,92.9 671.9,92.9 672.3,92.9 672.7,92.9 673.1,92.9 673.4,92.9 673.8,92.9 674.2,92.8 674.6,92.8 675.0,92.7 675.4,92.7 675.8,92.6" fill="none" stroke="#ff0000" stroke-width="1.50" stroke-linejoin="round" stroke-linecap="butt" clip-path="url(#c3)"/>
<rect x="554.50" y="13.50" width="125.00" height="21.60" rx="1.6" fill="#fff" fill-opacity="0.8" stroke="#d8d8d8" stroke-width="0.8"/>
<line x1="557.30" y1="19.20" x2="577.00" y2="19.20" stroke="#0000ff" stroke-width="1.50"/>
<line x1="557.30" y1="29.30" x2="577.00" y2="29.30" stroke="#ff0000" stroke-width="1.50"/>
<text transform="translate(583.47 21.70) scale(1.4826 1)" font-size="7.00" font-weight="normal" fill="#222" stroke="#222" stroke-width="0.20">Measurement signal</text>
<text transform="translate(583.46 31.70) scale(1.4993 1)" font-size="7.00" font-weight="normal" fill="#222" stroke="#222" stroke-width="0.20">Predicted voluntary</text>
<rect x="492.50" y="10.50" width="192.00" height="154.00" fill="none" stroke="#666" stroke-width="1.40"/>
<line x1="501.23" y1="164.50" x2="501.23" y2="166.90" stroke="#444" stroke-width="0.90"/>
<text transform="translate(498.27 174.60) scale(1.3000 1)" font-size="8.20" font-weight="normal" fill="#222" stroke="#222" stroke-width="0.20">0</text>
<line x1="555.77" y1="164.50" x2="555.77" y2="166.90" stroke="#444" stroke-width="0.90"/>
<text transform="translate(546.87 174.60) scale(1.3000 1)" font-size="8.20" font-weight="normal" fill="#222" stroke="#222" stroke-width="0.20">500</text>
<line x1="610.32" y1="164.50" x2="610.32" y2="166.90" stroke="#444" stroke-width="0.90"/>
<text transform="translate(598.25 174.60) scale(1.3000 1)" font-size="8.20" font-weight="normal" fill="#222" stroke="#222" stroke-width="0.20">1000</text>
<line x1="664.86" y1="164.50" x2="664.86" y2="166.90" stroke="#444" stroke-width="0.90"/>
<text transform="translate(652.79 174.60) scale(1.3000 1)" font-size="8.20" font-weight="normal" fill="#222" stroke="#222" stroke-width="0.20">1500</text>
<line x1="489.20" y1="164.50" x2="492.50" y2="164.50" stroke="#444" stroke-width="0.80"/>
<text transform="translate(468.62 167.15) scale(1.3000 1)" font-size="8.20" font-weight="normal" fill="#222" stroke="#222" stroke-width="0.20">100</text>
<rect x="462.62" y="164.08" width="5.90" height="1.00" fill="#555"/>
<line x1="489.20" y1="133.70" x2="492.50" y2="133.70" stroke="#444" stroke-width="0.80"/>
<text transform="translate(474.54 136.35) scale(1.3000 1)" font-size="8.20" font-weight="normal" fill="#222" stroke="#222" stroke-width="0.20">50</text>
<rect x="468.17" y="133.28" width="5.90" height="1.00" fill="#555"/>
<line x1="489.20" y1="102.90" x2="492.50" y2="102.90" stroke="#444" stroke-width="0.80"/>
<text transform="translate(480.46 105.55) scale(1.3000 1)" font-size="8.20" font-weight="normal" fill="#222" stroke="#222" stroke-width="0.20">0</text>
<line x1="489.20" y1="72.10" x2="492.50" y2="72.10" stroke="#444" stroke-width="0.80"/>
<text transform="translate(474.54 74.75) scale(1.3000 1)" font-size="8.20" font-weight="normal" fill="#222" stroke="#222" stroke-width="0.20">50</text>
<line x1="489.20" y1="41.30" x2="492.50" y2="41.30" stroke="#444" stroke-width="0.80"/>
<text transform="translate(468.62 43.95) scale(1.3000 1)" font-size="8.20" font-weight="normal" fill="#222" stroke="#222" stroke-width="0.20">100</text>
<line x1="489.20" y1="10.50" x2="492.50" y2="10.50" stroke="#444" stroke-width="0.80"/>
<text transform="translate(468.62 13.15) scale(1.3000 1)" font-size="8.20" font-weight="normal" fill="#222" stroke="#222" stroke-width="0.20">150</text>
<text transform="translate(561.88 5.80) scale(1.3102 1)" font-size="9.30" font-weight="normal" fill="#222" stroke="#222" stroke-width="0.20">Posture-1</text>
<line x1="41.23" y1="195.40" x2="41.23" y2="349.60" stroke="#d3d3d3" stroke-width="1.25"/>
<line x1="95.77" y1="195.40" x2="95.77" y2="349.60" stroke="#d3d3d3" stroke-width="1.25"/>
<line x1="150.32" y1="195.40" x2="150.32" y2="349.60" stroke="#d3d3d3" stroke-width="1.25"/>
<line x1="204.86" y1="195.40" x2="204.86" y2="349.60" stroke="#d3d3d3" stroke-width="1.25"/>
<line x1="32.50" y1="349.60" x2="224.50" y2="349.60" stroke="#d3d3d3" stroke-width="1.25"/>
<line x1="32.50" y1="318.76" x2="224.50" y2="318.76" stroke="#d3d3d3" stroke-width="1.25"/>
<line x1="32.50" y1="287.92" x2="224.50" y2="287.92" stroke="#d3d3d3" stroke-width="1.25"/>
<line x1="32.50" y1="257.08" x2="224.50" y2="257.08" stroke="#d3d3d3" stroke-width="1.25"/>
<line x1="32.50" y1="226.24" x2="224.50" y2="226.24" stroke="#d3d3d3" stroke-width="1.25"/>
<line x1="32.50" y1="195.40" x2="224.50" y2="195.40" stroke="#d3d3d3" stroke-width="1.25"/>
<clipPath id="c4"><rect x="32.50" y="195.40" width="192.00" height="154.20"/></clipPath>
<polyline points="41.2,243.2 41.6,243.8 42.0,244.7 42.4,244.4 42.8,244.1 43.2,244.0 43.6,244.2 43.9,244.6 44.3,244.6 44.7,244.4 45.1,244.3 45.5,244.5 45.9,244.7 46.3,244.8 46.7,244.5 47.1,244.3 47.4,244.1 47.8,244.3 48.2,244.6 48.6,245.1 49.0,245.4 49.4,245.5 49.8,245.6 50.2,245.9 50.6,246.0 50.9,245.9 51.3,245.6 51.7,245.6 52.1,245.8 52.5,245.7 52.9,245.4 53.3,245.2 53.7,245.4 54.1,245.7 54.4,245.7 54.8,245.5 55.2,245.3 55.6,245.0 56.0,245.0 56.4,245.3 56.8,245.5 57.2,245.3 57.6,244.9 57.9,244.9 58.3,245.2 58.7,245.5 59.1,245.5 59.5,245.2 59.9,244.8 60.3,244.8 60.7,245.1 61.1,245.3 61.4,245.4 61.8,245.4 62.2,245.4 62.6,245.5 63.0,245.5 63.4,245.5 63.8,245.4 64.2,245.1 64.6,244.9 64.9,244.8 65.3,244.8 65.7,245.0 66.1,245.2 66.5,245.1 66.9,244.9 67.3,244.8 67.7,245.0 68.1,245.0 68.4,244.8 68.8,244.6 69.2,244.4 69.6,244.5 70.0,244.7 70.4,244.8 70.8,244.7 71.2,244.5 71.5,244.2 71.9,244.1 72.3,244.3 72.7,244.8 73.1,245.0 73.5,244.9 73.9,244.9 74.3,245.2 74.7,245.8 75.0,245.9 75.4,245.5 75.8,245.1 76.2,244.9 76.6,244.8 77.0,244.9 77.4,245.2 77.8,245.4 78.2,245.4 78.5,245.5 78.9,245.6 79.3,245.4 79.7,245.1 80.1,244.8 80.5,244.5 80.9,244.3 81.3,244.4 81.7,244.5 82.0,244.4 82.4,244.4 82.8,244.5 83.2,245.0 83.6,245.4 84.0,245.5 84.4,245.4 84.8,245.4 85.2,245.7 85.5,246.2 85.9,246.5 86.3,246.4 86.7,246.1 87.1,245.7 87.5,245.5 87.9,245.4 88.3,245.3 88.7,245.1 89.0,245.3 89.4,245.7 89.8,246.1 90.2,245.9 90.6,245.5 91.0,245.4 91.4,245.6 91.8,246.0 92.2,246.3 92.5,246.3 92.9,246.2 93.3,246.1 93.7,246.2 94.1,246.5 94.5,246.5 94.9,246.6 95.3,246.6 95.7,246.3 96.0,245.7 96.4,245.2 96.8,245.2 97.2,245.6 97.6,245.7 98.0,245.6 98.4,245.7 98.8,245.5 99.1,245.1 99.5,244.6 99.9,244.4 100.3,244.5 100.7,244.7 101.1,245.0 101.5,245.3 101.9,245.7 102.3,246.0 102.6,246.1 103.0,246.0 103.4,245.7 103.8,245.4 104.2,245.2 104.6,245.3 105.0,245.6 105.4,245.8 105.8,245.9 106.1,245.8 106.5,245.6 106.9,245.4 107.3,245.3 107.7,245.1 108.1,245.0 108.5,244.9 108.9,244.9 109.3,244.9 109.6,245.0 110.0,244.9 110.4,244.7 110.8,244.5 111.2,244.6 111.6,244.8 112.0,244.9 112.4,245.1 112.8,245.0 113.1,244.9 113.5,244.9 113.9,245.1 114.3,245.5 114.7,245.8 115.1,245.9 115.5,245.8 115.9,245.4 116.3,245.2 116.6,245.2 117.0,245.3 117.4,245.5 117.8,245.7 118.2,245.9 118.6,245.9 119.0,245.8 119.4,245.6 119.8,245.2 120.1,244.9 120.5,245.0 120.9,245.3 121.3,245.4 121.7,245.5 122.1,245.9 122.5,246.4 122.9,246.6 123.3,246.5 123.6,246.4 124.0,246.4 124.4,246.2 124.8,245.9 125.2,245.5 125.6,245.4 126.0,245.6 126.4,245.8 126.8,246.0 127.1,246.0 127.5,245.9 127.9,245.6 128.3,245.4 128.7,245.5 129.1,245.6 129.5,245.7 129.9,245.8 130.2,245.8 130.6,245.4 131.0,245.0 131.4,244.9 131.8,245.2 132.2,245.5 132.6,245.6 133.0,245.3 133.4,245.0 133.7,244.9 134.1,245.1 134.5,245.5 134.9,245.7 135.3,245.8 135.7,245.5 136.1,245.2 136.5,245.1 136.9,245.1 137.2,245.0 137.6,244.6 138.0,244.4 138.4,244.7 138.8,245.1 139.2,245.3 139.6,245.5 140.0,245.5 140.4,245.6 140.7,245.7 141.1,245.7 141.5,245.4 141.9,245.2 142.3,245.5 142.7,245.7 143.1,245.5 143.5,245.3 143.9,245.2 144.2,245.1 144.6,244.9 145.0,244.9 145.4,245.0 145.8,245.2 146.2,245.3 146.6,245.2 147.0,245.2 147.4,245.3 147.7,245.2 148.1,245.0 148.5,245.0 148.9,245.1 149.3,244.9 149.7,244.5 150.1,244.6 150.5,245.1 150.9,245.5 151.2,245.5 151.6,245.3 152.0,245.3 152.4,245.5 152.8,245.7 153.2,245.7 153.6,245.5 154.0,245.1 154.4,244.9 154.7,245.1 155.1,245.5 155.5,245.8 155.9,246.1 156.3,246.1 156.7,245.9 157.1,245.6 157.5,245.6 157.9,245.7 158.2,245.6 158.6,245.5 159.0,245.4 159.4,245.3 159.8,245.4 160.2,245.6 160.6,245.9 161.0,246.1 161.3,246.0 161.7,245.9 162.1,245.9 162.5,246.2 162.9,246.5 163.3,246.7 163.7,246.7 164.1,246.6 164.5,246.5 164.8,246.4 165.2,246.5 165.6,246.8 166.0,246.9 166.4,246.5 166.8,246.0 167.2,245.6 167.6,245.5 168.0,245.5 168.3,245.6 168.7,245.7 169.1,245.8 169.5,245.7 169.9,245.5 170.3,245.4 170.7,245.5 171.1,245.7 171.5,245.7 171.8,245.5 172.2,245.3 172.6,245.0 173.0,244.9 173.4,245.0 173.8,245.3 174.2,245.4 174.6,245.3 175.0,245.1 175.3,245.0 175.7,245.3 176.1,245.7 176.5,246.0 176.9,245.9 177.3,245.4 177.7,245.0 178.1,244.8 178.5,244.6 178.8,244.2 179.2,244.1 179.6,244.6 180.0,245.1 180.4,245.2 180.8,245.0 181.2,245.1 181.6,245.3 182.0,245.5 182.3,245.8 182.7,246.1 183.1,246.3 183.5,246.2 183.9,246.0 184.3,245.6 184.7,245.3 185.1,245.2 185.5,245.5 185.8,245.9 186.2,246.1 186.6,245.9 187.0,245.6 187.4,245.8 187.8,246.1 188.2,246.3 188.6,246.1 188.9,246.0 189.3,246.2 189.7,246.4 190.1,246.4 190.5,246.1 190.9,245.7 191.3,245.5 191.7,245.7 192.1,245.9 192.4,245.9 192.8,245.7 193.2,245.5 193.6,245.4 194.0,245.5 194.4,245.6 194.8,245.4 195.2,245.2 195.6,245.0 195.9,244.8 196.3,244.7 196.7,245.0 197.1,245.3 197.5,245.1 197.9,244.8 198.3,244.6 198.7,244.6 199.1,244.6 199.4,244.7 199.8,245.0 200.2,245.2 200.6,245.2 201.0,245.0 201.4,245.1 201.8,245.4 202.2,245.6 202.6,245.3 202.9,245.0 203.3,245.1 203.7,245.3 204.1,245.4 204.5,245.4 204.9,245.5 205.3,245.6 205.7,245.5 206.1,245.3 206.4,245.1 206.8,245.3 207.2,245.8 207.6,246.2 208.0,246.2 208.4,246.0 208.8,245.8 209.2,245.9 209.6,245.9 209.9,245.8 210.3,245.7 210.7,245.6 211.1,245.7 211.5,245.9 211.9,246.3 212.3,246.5 212.7,246.4 213.1,246.1 213.4,246.0 213.8,246.1 214.2,246.3 214.6,246.5 215.0,246.4 215.4,246.3 215.8,246.3" fill="none" stroke="#0000ff" stroke-width="1.50" stroke-linejoin="round" stroke-linecap="butt" clip-path="url(#c4)"/>
<polyline points="41.2,245.4 41.6,245.4 42.0,245.3 42.4,245.3 42.8,245.3 43.2,245.3 43.6,245.4 43.9,245.5 44.3,245.5 44.7,245.6 45.1,245.5 45.5,245.5 45.9,245.4 46.3,245.2 46.7,245.1 47.1,245.0 47.4,245.1 47.8,245.1 48.2,245.2 48.6,245.2 49.0,245.2 49.4,245.3 49.8,245.3 50.2,245.4 50.6,245.4 50.9,245.4 51.3,245.3 51.7,245.2 52.1,245.1 52.5,245.1 52.9,245.1 53.3,245.2 53.7,245.3 54.1,245.3 54.4,245.3 54.8,245.3 55.2,245.2 55.6,245.1 56.0,245.1 56.4,245.0 56.8,244.9 57.2,244.9 57.6,244.9 57.9,244.9 58.3,245.0 58.7,245.1 59.1,245.2 59.5,245.2 59.9,245.3 60.3,245.2 60.7,245.2 61.1,245.1 61.4,245.1 61.8,245.1 62.2,245.1 62.6,245.2 63.0,245.4 63.4,245.6 63.8,245.8 64.2,245.8 64.6,245.7 64.9,245.5 65.3,245.2 65.7,245.1 66.1,245.0 66.5,245.1 66.9,245.3 67.3,245.5 67.7,245.7 68.1,245.8 68.4,245.9 68.8,245.8 69.2,245.6 69.6,245.4 70.0,245.2 70.4,245.1 70.8,245.0 71.2,245.0 71.5,245.0 71.9,245.0 72.3,245.0 72.7,245.0 73.1,245.0 73.5,245.0 73.9,245.0 74.3,245.0 74.7,245.1 75.0,245.2 75.4,245.2 75.8,245.2 76.2,245.2 76.6,245.1 77.0,245.1 77.4,245.1 77.8,245.1 78.2,245.2 78.5,245.2 78.9,245.3 79.3,245.3 79.7,245.3 80.1,245.2 80.5,245.0 80.9,244.8 81.3,244.7 81.7,244.6 82.0,244.5 82.4,244.6 82.8,244.6 83.2,244.7 83.6,244.8 84.0,244.8 84.4,244.9 84.8,245.0 85.2,245.1 85.5,245.3 85.9,245.5 86.3,245.7 86.7,245.7 87.1,245.7 87.5,245.5 87.9,245.3 88.3,245.2 88.7,245.1 89.0,245.1 89.4,245.2 89.8,245.3 90.2,245.4 90.6,245.4 91.0,245.3 91.4,245.3 91.8,245.2 92.2,245.2 92.5,245.3 92.9,245.3 93.3,245.3 93.7,245.3 94.1,245.4 94.5,245.4 94.9,245.4 95.3,245.4 95.7,245.4 96.0,245.3 96.4,245.2 96.8,245.2 97.2,245.2 97.6,245.3 98.0,245.4 98.4,245.4 98.8,245.5 99.1,245.4 99.5,245.3 99.9,245.2 100.3,245.1 100.7,245.0 101.1,244.9 101.5,244.9 101.9,244.9 102.3,245.0 102.6,245.1 103.0,245.2 103.4,245.2 103.8,245.3 104.2,245.4 104.6,245.4 105.0,245.4 105.4,245.4 105.8,245.4 106.1,245.4 106.5,245.4 106.9,245.4 107.3,245.5 107.7,245.6 108.1,245.6 108.5,245.6 108.9,245.5 109.3,245.4 109.6,245.3 110.0,245.2 110.4,245.1 110.8,245.1 111.2,245.2 111.6,245.2 112.0,245.3 112.4,245.4 112.8,245.5 113.1,245.6 113.5,245.7 113.9,245.8 114.3,245.8 114.7,245.7 115.1,245.6 115.5,245.5 115.9,245.3 116.3,245.2 116.6,245.1 117.0,245.1 117.4,245.0 117.8,245.0 118.2,244.9 118.6,244.8 119.0,244.8 119.4,244.8 119.8,244.9 120.1,245.1 120.5,245.4 120.9,245.5 121.3,245.6 121.7,245.6 122.1,245.5 122.5,245.5 122.9,245.5 123.3,245.5 123.6,245.5 124.0,245.4 124.4,245.3 124.8,245.3 125.2,245.3 125.6,245.4 126.0,245.5 126.4,245.5 126.8,245.5 127.1,245.4 127.5,245.2 127.9,245.1 128.3,245.1 128.7,245.1 129.1,245.2 129.5,245.2 129.9,245.2 130.2,245.1 130.6,245.0 131.0,245.0 131.4,244.9 131.8,244.9 132.2,245.0 132.6,245.0 133.0,245.1 133.4,245.1 133.7,245.1 134.1,245.1 134.5,245.1 134.9,245.2 135.3,245.3 135.7,245.3 136.1,245.3 136.5,245.2 136.9,245.2 137.2,245.2 137.6,245.3 138.0,245.4 138.4,245.5 138.8,245.6 139.2,245.6 139.6,245.5 140.0,245.4 140.4,245.3 140.7,245.3 141.1,245.3 141.5,245.3 141.9,245.3 142.3,245.3 142.7,245.2 143.1,245.2 143.5,245.2 143.9,245.3 144.2,245.4 144.6,245.5 145.0,245.6 145.4,245.6 145.8,245.4 146.2,245.2 146.6,245.0 147.0,244.8 147.4,244.7 147.7,244.8 148.1,245.0 148.5,245.3 148.9,245.5 149.3,245.6 149.7,245.7 150.1,245.7 150.5,245.6 150.9,245.5 151.2,245.4 151.6,245.3 152.0,245.3 152.4,245.4 152.8,245.4 153.2,245.6 153.6,245.6 154.0,245.7 154.4,245.7 154.7,245.8 155.1,245.8 155.5,245.8 155.9,245.9 156.3,245.9 156.7,245.8 157.1,245.8 157.5,245.7 157.9,245.6 158.2,245.5 158.6,245.4 159.0,245.4 159.4,245.4 159.8,245.5 160.2,245.5 160.6,245.5 161.0,245.5 161.3,245.5 161.7,245.5 162.1,245.5 162.5,245.5 162.9,245.6 163.3,245.6 163.7,245.6 164.1,245.6 164.5,245.6 164.8,245.6 165.2,245.5 165.6,245.4 166.0,245.4 166.4,245.3 166.8,245.2 167.2,245.1 167.6,245.1 168.0,245.0 168.3,245.1 168.7,245.1 169.1,245.2 169.5,245.3 169.9,245.3 170.3,245.4 170.7,245.5 171.1,245.5 171.5,245.6 171.8,245.6 172.2,245.7 172.6,245.7 173.0,245.7 173.4,245.7 173.8,245.7 174.2,245.7 174.6,245.7 175.0,245.7 175.3,245.7 175.7,245.6 176.1,245.6 176.5,245.6 176.9,245.7 177.3,245.9 177.7,245.9 178.1,246.0 178.5,246.0 178.8,245.9 179.2,245.9 179.6,246.0 180.0,246.0 180.4,246.1 180.8,246.1 181.2,246.0 181.6,246.0 182.0,245.9 182.3,245.9 182.7,245.9 183.1,246.0 183.5,246.2 183.9,246.3 184.3,246.4 184.7,246.3 185.1,246.1 185.5,245.9 185.8,245.8 186.2,245.7 186.6,245.7 187.0,245.7 187.4,245.7 187.8,245.8 188.2,245.9 188.6,246.0 188.9,246.0 189.3,245.9 189.7,245.7 190.1,245.6 190.5,245.5 190.9,245.5 191.3,245.6 191.7,245.7 192.1,245.7 192.4,245.6 192.8,245.5 193.2,245.5 193.6,245.5 194.0,245.6 194.4,245.6 194.8,245.7 195.2,245.7 195.6,245.6 195.9,245.6 196.3,245.6 196.7,245.6 197.1,245.7 197.5,245.8 197.9,245.9 198.3,246.0 198.7,245.9 199.1,245.8 199.4,245.7 199.8,245.6 200.2,245.5 200.6,245.4 201.0,245.3 201.4,245.3 201.8,245.3 202.2,245.4 202.6,245.6 202.9,245.7 203.3,245.8 203.7,245.9 204.1,246.0 204.5,246.0 204.9,246.1 205.3,246.1 205.7,246.1 206.1,246.1 206.4,246.1 206.8,246.1 207.2,246.1 207.6,246.1 208.0,246.2 208.4,246.2 208.8,246.3 209.2,246.4 209.6,246.4 209.9,246.3 210.3,246.2 210.7,246.1 211.1,246.0 211.5,245.9 211.9,245.8 212.3,245.7 212.7,245.6 213.1,245.5 213.4,245.4 213.8,245.4 214.2,245.4 214.6,245.5 215.0,245.6 215.4,245.6 215.8,245.7" fill="none" stroke="#ff0000" stroke-width="1.50" stroke-linejoin="round" stroke-linecap="butt" clip-path="url(#c4)"/>
<rect x="94.50" y="198.40" width="125.00" height="21.60" rx="1.6" fill="#fff" fill-opacity="0.8" stroke="#d8d8d8" stroke-width="0.8"/>
<line x1="97.30" y1="204.10" x2="117.00" y2="204.10" stroke="#0000ff" stroke-width="1.50"/>
<line x1="97.30" y1="214.20" x2="117.00" y2="214.20" stroke="#ff0000" stroke-width="1.50"/>
<text transform="translate(123.47 206.60) scale(1.4826 1)" font-size="7.00" font-weight="normal" fill="#222" stroke="#222" stroke-width="0.20">Measurement signal</text>
<text transform="translate(123.46 216.60) scale(1.4993 1)" font-size="7.00" font-weight="normal" fill="#222" stroke="#222" stroke-width="0.20">Predicted voluntary</text>
<rect x="32.50" y="195.40" width="192.00" height="154.20" fill="none" stroke="#666" stroke-width="1.40"/>
<line x1="41.23" y1="349.60" x2="41.23" y2="352.00" stroke="#444" stroke-width="0.90"/>
<text transform="translate(38.27 359.70) scale(1.3000 1)" font-size="8.20" font-weight="normal" fill="#222" stroke="#222" stroke-width="0.20">0</text>
<line x1="95.77" y1="349.60" x2="95.77" y2="352.00" stroke="#444" stroke-width="0.90"/>
<text transform="translate(86.87 359.70) scale(1.3000 1)" font-size="8.20" font-weight="normal" fill="#222" stroke="#222" stroke-width="0.20">500</text>
<line x1="150.32" y1="349.60" x2="150.32" y2="352.00" stroke="#444" stroke-width="0.90"/>
<text transform="translate(138.25 359.70) scale(1.3000 1)" font-size="8.20" font-weight="normal" fill="#222" stroke="#222" stroke-width="0.20">1000</text>
<line x1="204.86" y1="349.60" x2="204.86" y2="352.00" stroke="#444" stroke-width="0.90"/>
<text transform="translate(192.79 359.70) scale(1.3000 1)" font-size="8.20" font-weight="normal" fill="#222" stroke="#222" stroke-width="0.20">1500</text>
<line x1="29.20" y1="349.60" x2="32.50" y2="349.60" stroke="#444" stroke-width="0.80"/>
<text transform="translate(8.62 352.25) scale(1.3000 1)" font-size="8.20" font-weight="normal" fill="#222" stroke="#222" stroke-width="0.20">100</text>
<rect x="2.62" y="349.18" width="5.90" height="1.00" fill="#555"/>
<line x1="29.20" y1="318.76" x2="32.50" y2="318.76" stroke="#444" stroke-width="0.80"/>
<text transform="translate(14.54 321.41) scale(1.3000 1)" font-size="8.20" font-weight="normal" fill="#222" stroke="#222" stroke-width="0.20">50</text>
<rect x="8.17" y="318.34" width="5.90" height="1.00" fill="#555"/>
<line x1="29.20" y1="287.92" x2="32.50" y2="287.92" stroke="#444" stroke-width="0.80"/>
<text transform="translate(20.46 290.57) scale(1.3000 1)" font-size="8.20" font-weight="normal" fill="#222" stroke="#222" stroke-width="0.20">0</text>
<line x1="29.20" y1="257.08" x2="32.50" y2="257.08" stroke="#444" stroke-width="0.80"/>
<text transform="translate(14.54 259.73) scale(1.3000 1)" font-size="8.20" font-weight="normal" fill="#222" stroke="#222" stroke-width="0.20">50</text>
<line x1="29.20" y1="226.24" x2="32.50" y2="226.24" stroke="#444" stroke-width="0.80"/>
<text transform="translate(8.62 228.89) scale(1.3000 1)" font-size="8.20" font-weight="normal" fill="#222" stroke="#222" stroke-width="0.20">100</text>
<line x1="29.20" y1="195.40" x2="32.50" y2="195.40" stroke="#444" stroke-width="0.80"/>
<text transform="translate(8.62 198.05) scale(1.3000 1)" font-size="8.20" font-weight="normal" fill="#222" stroke="#222" stroke-width="0.20">150</text>
<text transform="translate(101.88 191.60) scale(1.3102 1)" font-size="9.30" font-weight="normal" fill="#222" stroke="#222" stroke-width="0.20">Posture-2</text>
<line x1="271.23" y1="195.40" x2="271.23" y2="349.60" stroke="#d3d3d3" stroke-width="1.25"/>
<line x1="325.77" y1="195.40" x2="325.77" y2="349.60" stroke="#d3d3d3" stroke-width="1.25"/>
<line x1="380.32" y1="195.40" x2="380.32" y2="349.60" stroke="#d3d3d3" stroke-width="1.25"/>
<line x1="434.86" y1="195.40" x2="434.86" y2="349.60" stroke="#d3d3d3" stroke-width="1.25"/>
<line x1="262.50" y1="349.60" x2="454.50" y2="349.60" stroke="#d3d3d3" stroke-width="1.25"/>
<line x1="262.50" y1="318.76" x2="454.50" y2="318.76" stroke="#d3d3d3" stroke-width="1.25"/>
<line x1="262.50" y1="287.92" x2="454.50" y2="287.92" stroke="#d3d3d3" stroke-width="1.25"/>
<line x1="262.50" y1="257.08" x2="454.50" y2="257.08" stroke="#d3d3d3" stroke-width="1.25"/>
<line x1="262.50" y1="226.24" x2="454.50" y2="226.24" stroke="#d3d3d3" stroke-width="1.25"/>
<line x1="262.50" y1="195.40" x2="454.50" y2="195.40" stroke="#d3d3d3" stroke-width="1.25"/>
<clipPath id="c5"><rect x="262.50" y="195.40" width="192.00" height="154.20"/></clipPath>
<polyline points="271.2,247.2 271.6,247.8 272.0,248.3 272.4,248.1 272.8,248.3 273.2,248.2 273.6,247.9 273.9,247.9 274.3,247.9 274.7,247.7 275.1,247.8 275.5,248.3 275.9,248.6 276.3,248.4 276.7,248.2 277.1,248.0 277.4,248.1 277.8,248.6 278.2,248.9 278.6,248.8 279.0,248.5 279.4,248.5 279.8,248.7 280.2,248.9 280.6,248.9 280.9,248.7 281.3,248.7 281.7,248.9 282.1,248.9 282.5,248.5 282.9,248.5 283.3,248.9 283.7,248.9 284.1,248.5 284.4,248.5 284.8,248.8 285.2,249.0 285.6,249.2 286.0,249.0 286.4,248.7 286.8,248.5 287.2,248.3 287.6,248.2 287.9,248.5 288.3,248.7 288.7,248.6 289.1,248.6 289.5,248.6 289.9,248.6 290.3,248.5 290.7,248.3 291.1,248.3 291.4,248.5 291.8,248.7 292.2,248.8 292.6,248.6 293.0,248.4 293.4,248.3 293.8,248.1 294.2,247.9 294.6,247.9 294.9,248.2 295.3,248.3 295.7,248.3 296.1,248.4 296.5,248.8 296.9,249.0 297.3,248.8 297.7,248.6 298.1,248.5 298.4,248.4 298.8,248.4 299.2,248.6 299.6,248.8 300.0,248.7 300.4,248.6 300.8,248.7 301.2,248.8 301.5,248.8 301.9,249.0 302.3,249.1 302.7,249.1 303.1,248.9 303.5,248.9 303.9,248.8 304.3,249.0 304.7,249.1 305.0,248.9 305.4,248.7 305.8,248.7 306.2,248.9 306.6,248.8 307.0,248.6 307.4,248.4 307.8,248.4 308.2,248.4 308.5,248.1 308.9,247.9 309.3,248.1 309.7,248.4 310.1,248.5 310.5,248.7 310.9,248.8 311.3,248.6 311.7,248.5 312.0,248.7 312.4,248.9 312.8,249.0 313.2,249.1 313.6,248.8 314.0,248.5 314.4,248.6 314.8,248.9 315.2,249.1 315.5,249.0 315.9,248.5 316.3,248.3 316.7,248.7 317.1,249.1 317.5,249.4 317.9,249.6 318.3,249.6 318.7,249.3 319.0,249.1 319.4,249.3 319.8,249.2 320.2,248.8 320.6,248.6 321.0,248.7 321.4,248.9 321.8,249.1 322.2,249.4 322.5,249.3 322.9,249.0 323.3,248.9 323.7,249.3 324.1,249.3 324.5,249.1 324.9,249.3 325.3,249.9 325.7,250.1 326.0,249.7 326.4,249.3 326.8,249.0 327.2,249.2 327.6,249.5 328.0,249.6 328.4,249.4 328.8,249.2 329.1,249.3 329.5,249.7 329.9,249.8 330.3,249.7 330.7,249.3 331.1,249.0 331.5,248.8 331.9,248.7 332.3,248.6 332.6,248.9 333.0,249.0 333.4,248.7 333.8,248.3 334.2,248.2 334.6,248.4 335.0,248.8 335.4,249.0 335.8,249.0 336.1,249.1 336.5,248.9 336.9,248.6 337.3,248.5 337.7,248.4 338.1,248.5 338.5,248.7 338.9,248.5 339.3,248.2 339.6,248.4 340.0,248.7 340.4,248.7 340.8,248.5 341.2,248.5 341.6,248.5 342.0,248.0 342.4,247.7 342.8,247.9 343.1,248.4 343.5,248.7 343.9,249.0 344.3,249.2 344.7,249.2 345.1,248.9 345.5,248.6 345.9,248.4 346.3,248.7 346.6,249.1 347.0,249.1 347.4,248.9 347.8,249.2 348.2,249.3 348.6,249.0 349.0,249.0 349.4,249.2 349.8,249.2 350.1,249.3 350.5,249.2 350.9,248.9 351.3,248.5 351.7,248.3 352.1,248.1 352.5,248.4 352.9,248.8 353.3,248.7 353.6,248.3 354.0,248.2 354.4,248.3 354.8,248.2 355.2,248.1 355.6,248.2 356.0,248.3 356.4,248.5 356.8,248.7 357.1,248.6 357.5,248.4 357.9,248.6 358.3,249.0 358.7,248.9 359.1,248.7 359.5,248.7 359.9,248.6 360.2,248.7 360.6,248.9 361.0,248.9 361.4,249.0 361.8,249.2 362.2,249.4 362.6,249.4 363.0,249.2 363.4,249.2 363.7,249.3 364.1,249.1 364.5,249.0 364.9,249.2 365.3,249.4 365.7,249.2 366.1,249.1 366.5,249.3 366.9,249.6 367.2,249.5 367.6,249.2 368.0,249.1 368.4,249.1 368.8,249.1 369.2,249.1 369.6,249.3 370.0,249.4 370.4,249.3 370.7,249.1 371.1,249.1 371.5,249.4 371.9,249.7 372.3,249.7 372.7,249.4 373.1,249.1 373.5,249.0 373.9,249.0 374.2,249.1 374.6,249.2 375.0,249.0 375.4,248.8 375.8,249.0 376.2,249.2 376.6,249.0 377.0,249.0 377.4,249.1 377.7,249.2 378.1,249.2 378.5,249.1 378.9,248.7 379.3,248.8 379.7,249.0 380.1,248.9 380.5,248.4 380.9,248.2 381.2,248.4 381.6,248.6 382.0,249.1 382.4,249.6 382.8,249.6 383.2,249.2 383.6,249.0 384.0,248.9 384.4,249.1 384.7,249.5 385.1,249.6 385.5,249.5 385.9,249.5 386.3,249.5 386.7,249.3 387.1,249.2 387.5,249.3 387.9,249.2 388.2,249.1 388.6,249.3 389.0,249.5 389.4,249.3 389.8,249.0 390.2,249.0 390.6,248.9 391.0,248.6 391.3,248.4 391.7,248.6 392.1,249.0 392.5,249.1 392.9,249.1 393.3,248.9 393.7,248.7 394.1,248.6 394.5,248.6 394.8,248.9 395.2,249.2 395.6,249.3 396.0,249.2 396.4,249.0 396.8,248.9 397.2,248.8 397.6,249.0 398.0,249.3 398.3,249.3 398.7,249.0 399.1,248.9 399.5,249.1 399.9,249.5 400.3,249.4 400.7,248.8 401.1,248.5 401.5,248.9 401.8,249.1 402.2,248.9 402.6,248.6 403.0,248.5 403.4,248.8 403.8,248.8 404.2,248.4 404.6,248.3 405.0,248.7 405.3,249.0 405.7,248.7 406.1,248.2 406.5,248.1 406.9,248.3 407.3,248.3 407.7,248.3 408.1,248.5 408.5,248.7 408.8,248.8 409.2,248.7 409.6,248.4 410.0,248.3 410.4,248.7 410.8,249.0 411.2,249.0 411.6,248.8 412.0,248.7 412.3,248.7 412.7,248.8 413.1,248.7 413.5,248.4 413.9,248.4 414.3,248.5 414.7,248.6 415.1,248.5 415.5,248.5 415.8,248.6 416.2,248.5 416.6,248.4 417.0,248.5 417.4,248.8 417.8,249.0 418.2,249.0 418.6,248.8 418.9,248.6 419.3,248.5 419.7,249.1 420.1,249.6 420.5,249.7 420.9,249.8 421.3,249.9 421.7,249.7 422.1,249.3 422.4,249.1 422.8,249.3 423.2,249.7 423.6,249.8 424.0,249.7 424.4,249.6 424.8,249.4 425.2,249.4 425.6,249.6 425.9,249.7 426.3,249.5 426.7,249.4 427.1,249.5 427.5,249.5 427.9,249.3 428.3,249.1 428.7,249.0 429.1,249.0 429.4,249.3 429.8,249.4 430.2,249.3 430.6,249.1 431.0,248.8 431.4,248.7 431.8,248.7 432.2,248.7 432.6,248.8 432.9,249.0 433.3,249.4 433.7,249.7 434.1,250.0 434.5,249.8 434.9,249.2 435.3,249.0 435.7,249.2 436.1,249.3 436.4,249.3 436.8,249.7 437.2,250.1 437.6,250.0 438.0,249.7 438.4,249.4 438.8,249.3 439.2,249.3 439.6,249.3 439.9,249.4 440.3,249.2 440.7,249.3 441.1,249.6 441.5,249.9 441.9,249.8 442.3,249.5 442.7,249.4 443.1,249.5 443.4,249.4 443.8,249.3 444.2,249.4 444.6,249.3 445.0,248.8 445.4,248.4 445.8,248.4" fill="none" stroke="#0000ff" stroke-width="1.50" stroke-linejoin="round" stroke-linecap="butt" clip-path="url(#c5)"/>
<polyline points="271.2,248.4 271.6,248.4 272.0,248.3 272.4,248.3 272.8,248.3 273.2,248.3 273.6,248.4 273.9,248.4 274.3,248.5 274.7,248.5 275.1,248.5 275.5,248.5 275.9,248.5 276.3,248.5 276.7,248.5 277.1,248.6 277.4,248.6 277.8,248.6 278.2,248.5 278.6,248.5 279.0,248.5 279.4,248.5 279.8,248.5 280.2,248.5 280.6,248.5 280.9,248.6 281.3,248.6 281.7,248.6 282.1,248.6 282.5,248.5 282.9,248.5 283.3,248.5 283.7,248.5 284.1,248.5 284.4,248.5 284.8,248.4 285.2,248.4 285.6,248.3 286.0,248.2 286.4,248.2 286.8,248.2 287.2,248.3 287.6,248.4 287.9,248.4 288.3,248.4 288.7,248.5 289.1,248.5 289.5,248.5 289.9,248.5 290.3,248.5 290.7,248.5 291.1,248.6 291.4,248.6 291.8,248.6 292.2,248.7 292.6,248.7 293.0,248.8 293.4,248.8 293.8,248.8 294.2,248.8 294.6,248.8 294.9,248.8 295.3,248.8 295.7,248.8 296.1,248.8 296.5,248.8 296.9,248.8 297.3,248.8 297.7,248.7 298.1,248.7 298.4,248.7 298.8,248.7 299.2,248.8 299.6,248.8 300.0,248.9 300.4,248.9 300.8,248.9 301.2,248.9 301.5,248.8 301.9,248.8 302.3,248.8 302.7,248.8 303.1,248.8 303.5,248.7 303.9,248.7 304.3,248.7 304.7,248.7 305.0,248.7 305.4,248.7 305.8,248.7 306.2,248.7 306.6,248.8 307.0,248.8 307.4,248.9 307.8,248.9 308.2,248.9 308.5,248.9 308.9,248.8 309.3,248.8 309.7,248.7 310.1,248.8 310.5,248.8 310.9,248.9 311.3,248.9 311.7,249.0 312.0,249.0 312.4,249.0 312.8,249.0 313.2,248.9 313.6,248.9 314.0,248.8 314.4,248.8 314.8,248.7 315.2,248.7 315.5,248.7 315.9,248.7 316.3,248.7 316.7,248.8 317.1,248.8 317.5,248.9 317.9,248.9 318.3,248.9 318.7,248.9 319.0,248.8 319.4,248.8 319.8,248.8 320.2,248.8 320.6,248.9 321.0,248.9 321.4,249.0 321.8,249.0 322.2,249.1 322.5,249.1 322.9,249.1 323.3,249.1 323.7,249.1 324.1,249.1 324.5,249.1 324.9,249.1 325.3,249.1 325.7,249.1 326.0,249.1 326.4,249.1 326.8,249.1 327.2,249.2 327.6,249.2 328.0,249.2 328.4,249.2 328.8,249.1 329.1,249.1 329.5,249.0 329.9,249.0 330.3,249.0 330.7,249.1 331.1,249.1 331.5,249.1 331.9,249.2 332.3,249.1 332.6,249.1 333.0,249.0 333.4,248.9 333.8,248.9 334.2,248.9 334.6,248.9 335.0,248.9 335.4,248.9 335.8,249.0 336.1,249.0 336.5,249.0 336.9,249.0 337.3,249.0 337.7,249.0 338.1,249.0 338.5,249.0 338.9,249.0 339.3,249.0 339.6,249.0 340.0,249.1 340.4,249.1 340.8,249.2 341.2,249.2 341.6,249.2 342.0,249.2 342.4,249.2 342.8,249.1 343.1,249.1 343.5,249.0 343.9,249.0 344.3,249.0 344.7,248.9 345.1,248.8 345.5,248.8 345.9,248.8 346.3,248.8 346.6,248.9 347.0,249.0 347.4,249.0 347.8,249.0 348.2,249.0 348.6,249.0 349.0,248.9 349.4,248.8 349.8,248.8 350.1,248.8 350.5,248.9 350.9,249.0 351.3,249.1 351.7,249.2 352.1,249.2 352.5,249.2 352.9,249.2 353.3,249.2 353.6,249.2 354.0,249.2 354.4,249.1 354.8,249.1 355.2,249.1 355.6,249.1 356.0,249.1 356.4,249.0 356.8,249.0 357.1,249.0 357.5,249.0 357.9,249.0 358.3,249.1 358.7,249.1 359.1,249.1 359.5,249.2 359.9,249.2 360.2,249.2 360.6,249.2 361.0,249.2 361.4,249.2 361.8,249.2 362.2,249.1 362.6,249.0 363.0,249.0 363.4,248.9 363.7,248.9 364.1,248.8 364.5,248.9 364.9,248.9 365.3,249.0 365.7,249.0 366.1,249.0 366.5,249.0 366.9,249.0 367.2,249.1 367.6,249.1 368.0,249.1 368.4,249.1 368.8,249.0 369.2,249.0 369.6,249.0 370.0,249.0 370.4,249.0 370.7,249.0 371.1,249.1 371.5,249.1 371.9,249.1 372.3,249.1 372.7,249.1 373.1,249.1 373.5,249.1 373.9,249.1 374.2,249.2 374.6,249.2 375.0,249.2 375.4,249.2 375.8,249.1 376.2,249.1 376.6,249.2 377.0,249.2 377.4,249.2 377.7,249.2 378.1,249.2 378.5,249.2 378.9,249.1 379.3,249.1 379.7,249.1 380.1,249.1 380.5,249.1 380.9,249.1 381.2,249.1 381.6,249.1 382.0,249.0 382.4,249.0 382.8,248.9 383.2,248.9 383.6,248.9 384.0,249.0 384.4,249.1 384.7,249.2 385.1,249.3 385.5,249.3 385.9,249.4 386.3,249.4 386.7,249.3 387.1,249.3 387.5,249.2 387.9,249.1 388.2,249.0 388.6,248.9 389.0,248.8 389.4,248.8 389.8,248.9 390.2,249.0 390.6,249.1 391.0,249.2 391.3,249.2 391.7,249.2 392.1,249.2 392.5,249.2 392.9,249.2 393.3,249.1 393.7,249.1 394.1,249.0 394.5,248.9 394.8,248.9 395.2,248.8 395.6,248.8 396.0,248.8 396.4,248.9 396.8,249.0 397.2,249.1 397.6,249.2 398.0,249.3 398.3,249.3 398.7,249.3 399.1,249.3 399.5,249.3 399.9,249.3 400.3,249.2 400.7,249.2 401.1,249.2 401.5,249.2 401.8,249.2 402.2,249.1 402.6,249.1 403.0,249.1 403.4,249.1 403.8,249.1 404.2,249.1 404.6,249.1 405.0,249.1 405.3,249.2 405.7,249.3 406.1,249.3 406.5,249.3 406.9,249.2 407.3,249.1 407.7,249.0 408.1,249.0 408.5,249.0 408.8,249.0 409.2,249.1 409.6,249.1 410.0,249.1 410.4,249.0 410.8,249.0 411.2,249.0 411.6,249.0 412.0,249.1 412.3,249.1 412.7,249.1 413.1,249.1 413.5,249.0 413.9,248.9 414.3,248.9 414.7,248.9 415.1,248.9 415.5,248.9 415.8,248.9 416.2,249.0 416.6,249.0 417.0,249.0 417.4,249.1 417.8,249.1 418.2,249.1 418.6,249.1 418.9,249.1 419.3,249.0 419.7,249.0 420.1,249.0 420.5,248.9 420.9,248.9 421.3,248.9 421.7,248.9 422.1,248.9 422.4,248.9 422.8,248.9 423.2,248.9 423.6,248.9 424.0,248.9 424.4,248.9 424.8,248.9 425.2,248.9 425.6,248.9 425.9,248.9 426.3,248.9 426.7,249.0 427.1,249.0 427.5,249.1 427.9,249.1 428.3,249.2 428.7,249.2 429.1,249.1 429.4,249.1 429.8,249.1 430.2,249.1 430.6,249.1 431.0,249.1 431.4,249.1 431.8,249.1 432.2,249.1 432.6,249.0 432.9,249.0 433.3,249.0 433.7,249.0 434.1,248.9 434.5,248.9 434.9,248.8 435.3,248.8 435.7,248.8 436.1,248.9 436.4,248.9 436.8,249.0 437.2,249.0 437.6,249.0 438.0,249.0 438.4,249.0 438.8,249.1 439.2,249.1 439.6,249.1 439.9,249.2 440.3,249.1 440.7,249.1 441.1,249.1 441.5,249.1 441.9,249.0 442.3,249.0 442.7,249.0 443.1,249.0 443.4,248.9 443.8,248.9 444.2,248.9 444.6,248.9 445.0,248.9 445.4,248.9 445.8,248.9" fill="none" stroke="#ff0000" stroke-width="1.50" stroke-linejoin="round" stroke-linecap="butt" clip-path="url(#c5)"/>
<rect x="324.50" y="198.40" width="125.00" height="21.60" rx="1.6" fill="#fff" fill-opacity="0.8" stroke="#d8d8d8" stroke-width="0.8"/>
<line x1="327.30" y1="204.10" x2="347.00" y2="204.10" stroke="#0000ff" stroke-width="1.50"/>
<line x1="327.30" y1="214.20" x2="347.00" y2="214.20" stroke="#ff0000" stroke-width="1.50"/>
<text transform="translate(353.47 206.60) scale(1.4826 1)" font-size="7.00" font-weight="normal" fill="#222" stroke="#222" stroke-width="0.20">Measurement signal</text>
<text transform="translate(353.46 216.60) scale(1.4993 1)" font-size="7.00" font-weight="normal" fill="#222" stroke="#222" stroke-width="0.20">Predicted voluntary</text>
<rect x="262.50" y="195.40" width="192.00" height="154.20" fill="none" stroke="#666" stroke-width="1.40"/>
<line x1="271.23" y1="349.60" x2="271.23" y2="352.00" stroke="#444" stroke-width="0.90"/>
<text transform="translate(268.27 359.70) scale(1.3000 1)" font-size="8.20" font-weight="normal" fill="#222" stroke="#222" stroke-width="0.20">0</text>
<line x1="325.77" y1="349.60" x2="325.77" y2="352.00" stroke="#444" stroke-width="0.90"/>
<text transform="translate(316.87 359.70) scale(1.3000 1)" font-size="8.20" font-weight="normal" fill="#222" stroke="#222" stroke-width="0.20">500</text>
<line x1="380.32" y1="349.60" x2="380.32" y2="352.00" stroke="#444" stroke-width="0.90"/>
<text transform="translate(368.25 359.70) scale(1.3000 1)" font-size="8.20" font-weight="normal" fill="#222" stroke="#222" stroke-width="0.20">1000</text>
<line x1="434.86" y1="349.60" x2="434.86" y2="352.00" stroke="#444" stroke-width="0.90"/>
<text transform="translate(422.79 359.70) scale(1.3000 1)" font-size="8.20" font-weight="normal" fill="#222" stroke="#222" stroke-width="0.20">1500</text>
<line x1="259.20" y1="349.60" x2="262.50" y2="349.60" stroke="#444" stroke-width="0.80"/>
<text transform="translate(238.62 352.25) scale(1.3000 1)" font-size="8.20" font-weight="normal" fill="#222" stroke="#222" stroke-width="0.20">100</text>
<rect x="232.62" y="349.18" width="5.90" height="1.00" fill="#555"/>
<line x1="259.20" y1="318.76" x2="262.50" y2="318.76" stroke="#444" stroke-width="0.80"/>
<text transform="translate(244.54 321.41) scale(1.3000 1)" font-size="8.20" font-weight="normal" fill="#222" stroke="#222" stroke-width="0.20">50</text>
<rect x="238.17" y="318.34" width="5.90" height="1.00" fill="#555"/>
<line x1="259.20" y1="287.92" x2="262.50" y2="287.92" stroke="#444" stroke-width="0.80"/>
<text transform="translate(250.46 290.57) scale(1.3000 1)" font-size="8.20" font-weight="normal" fill="#222" stroke="#222" stroke-width="0.20">0</text>
<line x1="259.20" y1="257.08" x2="262.50" y2="257.08" stroke="#444" stroke-width="0.80"/>
<text transform="translate(244.54 259.73) scale(1.3000 1)" font-size="8.20" font-weight="normal" fill="#222" stroke="#222" stroke-width="0.20">50</text>
<line x1="259.20" y1="226.24" x2="262.50" y2="226.24" stroke="#444" stroke-width="0.80"/>
<text transform="translate(238.62 228.89) scale(1.3000 1)" font-size="8.20" font-weight="normal" fill="#222" stroke="#222" stroke-width="0.20">100</text>
<line x1="259.20" y1="195.40" x2="262.50" y2="195.40" stroke="#444" stroke-width="0.80"/>
<text transform="translate(238.62 198.05) scale(1.3000 1)" font-size="8.20" font-weight="normal" fill="#222" stroke="#222" stroke-width="0.20">150</text>
<text transform="translate(339.69 191.60) scale(1.2838 1)" font-size="9.30" font-weight="normal" fill="#222" stroke="#222" stroke-width="0.20">Load-1</text>
<line x1="501.23" y1="195.40" x2="501.23" y2="349.60" stroke="#d3d3d3" stroke-width="1.25"/>
<line x1="555.77" y1="195.40" x2="555.77" y2="349.60" stroke="#d3d3d3" stroke-width="1.25"/>
<line x1="610.32" y1="195.40" x2="610.32" y2="349.60" stroke="#d3d3d3" stroke-width="1.25"/>
<line x1="664.86" y1="195.40" x2="664.86" y2="349.60" stroke="#d3d3d3" stroke-width="1.25"/>
<line x1="492.50" y1="349.60" x2="684.50" y2="349.60" stroke="#d3d3d3" stroke-width="1.25"/>
<line x1="492.50" y1="318.76" x2="684.50" y2="318.76" stroke="#d3d3d3" stroke-width="1.25"/>
<line x1="492.50" y1="287.92" x2="684.50" y2="287.92" stroke="#d3d3d3" stroke-width="1.25"/>
<line x1="492.50" y1="257.08" x2="684.50" y2="257.08" stroke="#d3d3d3" stroke-width="1.25"/>
<line x1="492.50" y1="226.24" x2="684.50" y2="226.24" stroke="#d3d3d3" stroke-width="1.25"/>
<line x1="492.50" y1="195.40" x2="684.50" y2="195.40" stroke="#d3d3d3" stroke-width="1.25"/>
<clipPath id="c6"><rect x="492.50" y="195.40" width="192.00" height="154.20"/></clipPath>
<polyline points="501.2,275.5 501.6,273.9 501.9,272.7 502.3,271.6 502.6,271.8 503.0,271.5 503.3,270.8 503.7,270.3 504.0,269.6 504.4,269.5 504.7,269.7 505.1,269.2 505.4,268.5 505.8,268.5 506.1,268.8 506.5,268.9 506.8,268.9 507.2,268.3 507.5,267.4 507.9,266.8 508.2,266.3 508.6,266.0 508.9,265.9 509.3,265.5 509.6,265.5 510.0,265.2 510.3,264.7 510.7,264.5 511.0,264.0 511.4,263.5 511.7,263.3 512.1,263.1 512.4,263.1 512.7,262.6 513.1,261.7 513.4,260.8 513.8,260.0 514.1,259.9 514.5,259.5 514.8,259.2 515.2,259.2 515.5,259.0 515.9,259.0 516.2,258.9 516.6,258.7 516.9,258.5 517.3,258.3 517.6,258.1 518.0,258.1 518.3,258.2 518.7,258.5 519.0,259.1 519.4,259.2 519.7,258.9 520.1,258.5 520.4,258.2 520.8,258.2 521.1,258.4 521.5,258.9 521.8,258.8 522.2,258.0 522.5,257.5 522.9,257.1 523.2,257.1 523.6,257.6 523.9,257.8 524.3,258.0 524.6,258.3 525.0,258.1 525.3,257.8 525.7,258.0 526.0,258.0 526.4,258.4 526.7,258.5 527.1,258.2 527.4,258.3 527.8,258.4 528.1,258.3 528.5,257.8 528.8,257.5 529.2,257.5 529.5,257.2 529.9,256.9 530.2,256.8 530.6,256.6 530.9,256.6 531.3,256.7 531.6,256.9 532.0,257.2 532.3,257.2 532.6,256.9 533.0,256.7 533.3,257.0 533.7,257.1 534.0,257.1 534.4,257.1 534.7,257.0 535.1,256.8 535.4,256.4 535.8,256.2 536.1,256.5 536.5,256.6 536.8,256.8 537.2,256.8 537.5,256.6 537.9,256.8 538.2,257.1 538.6,257.9 538.9,258.3 539.3,258.1 539.6,258.4 540.0,258.5 540.3,258.4 540.7,258.9 541.0,259.1 541.4,258.5 541.7,258.3 542.1,258.4 542.4,259.0 542.8,259.6 543.1,259.8 543.5,260.0 543.8,260.4 544.2,260.8 544.5,261.0 544.9,260.8 545.2,260.1 545.6,259.9 545.9,260.0 546.3,260.0 546.6,260.0 547.0,260.0 547.3,260.4 547.7,260.6 548.0,260.5 548.4,260.3 548.7,260.0 549.1,259.7 549.4,259.7 549.8,260.0 550.1,260.1 550.5,260.2 550.8,260.1 551.2,260.2 551.5,260.6 551.9,260.5 552.2,260.4 552.6,260.4 552.9,260.5 553.2,261.0 553.6,261.8 553.9,262.0 554.3,262.1 554.6,262.1 555.0,262.0 555.3,262.3 555.7,262.6 556.0,262.7 556.4,262.8 556.7,262.8 557.1,262.6 557.4,262.2 557.8,262.1 558.1,262.2 558.5,262.3 558.8,263.0 559.2,263.7 559.5,263.9 559.9,264.0 560.2,264.1 560.6,264.0 560.9,264.2 561.3,264.5 561.6,264.5 562.0,264.5 562.3,264.6 562.7,265.0 563.0,265.8 563.4,266.4 563.7,267.1 564.1,267.6 564.4,267.4 564.8,266.9 565.1,267.2 565.5,267.9 565.8,268.1 566.2,268.2 566.5,268.6 566.9,269.1 567.2,269.5 567.6,269.7 567.9,269.4 568.3,269.0 568.6,268.7 569.0,268.5 569.3,269.0 569.7,269.8 570.0,269.9 570.4,269.8 570.7,269.7 571.1,269.5 571.4,269.7 571.8,269.5 572.1,269.3 572.5,269.4 572.8,269.3 573.1,269.4 573.5,270.1 573.8,270.7 574.2,271.0 574.5,270.9 574.9,270.6 575.2,270.4 575.6,270.2 575.9,270.2 576.3,270.2 576.6,270.3 577.0,271.0 577.3,271.6 577.7,271.3 578.0,270.6 578.4,270.5 578.7,270.8 579.1,271.3 579.4,271.9 579.8,272.2 580.1,272.3 580.5,272.6 580.8,272.8 581.2,273.2 581.5,273.3 581.9,273.2 582.2,273.0 582.6,273.4 582.9,273.8 583.3,273.6 583.6,273.7 584.0,273.9 584.3,274.3 584.7,274.9 585.0,275.0 585.4,275.0 585.7,275.1 586.1,275.0 586.4,275.1 586.8,275.5 587.1,275.8 587.5,276.2 587.8,276.7 588.2,276.9 588.5,277.1 588.9,276.8 589.2,276.1 589.6,276.2 589.9,276.4 590.3,276.7 590.6,276.8 591.0,276.9 591.3,277.2 591.7,277.8 592.0,278.6 592.4,279.0 592.7,278.9 593.0,278.8 593.4,278.8 593.7,278.5 594.1,277.9 594.4,277.8 594.8,277.9 595.1,278.6 595.5,279.2 595.8,279.8 596.2,280.1 596.5,279.7 596.9,279.1 597.2,278.9 597.6,279.0 597.9,279.3 598.3,279.5 598.6,279.6 599.0,279.5 599.3,279.3 599.7,279.5 600.0,279.8 600.4,279.9 600.7,280.0 601.1,280.0 601.4,279.8 601.8,279.9 602.1,280.2 602.5,280.2 602.8,279.9 603.2,279.9 603.5,280.0 603.9,280.3 604.2,280.8 604.6,281.0 604.9,280.9 605.3,281.0 605.6,280.7 606.0,280.5 606.3,280.8 606.7,280.8 607.0,281.0 607.4,281.0 607.7,280.7 608.1,280.3 608.4,279.6 608.8,279.4 609.1,279.5 609.5,279.6 609.8,279.5 610.2,279.1 610.5,278.8 610.9,278.8 611.2,278.4 611.6,278.4 611.9,278.6 612.3,278.7 612.6,279.3 613.0,279.3 613.3,278.9 613.6,278.2 614.0,277.1 614.3,276.5 614.7,276.3 615.0,275.9 615.4,275.5 615.7,275.2 616.1,274.7 616.4,274.3 616.8,273.9 617.1,273.4 617.5,273.2 617.8,273.4 618.2,273.8 618.5,274.3 618.9,274.4 619.2,273.9 619.6,273.7 619.9,273.8 620.3,273.4 620.6,273.1 621.0,273.1 621.3,273.1 621.7,273.3 622.0,273.5 622.4,273.1 622.7,272.6 623.1,272.1 623.4,272.2 623.8,272.6 624.1,272.6 624.5,272.5 624.8,272.3 625.2,272.6 625.5,273.0 625.9,273.0 626.2,272.9 626.6,272.4 626.9,271.6 627.3,271.1 627.6,271.2 628.0,271.3 628.3,271.0 628.7,270.6 629.0,270.0 629.4,269.7 629.7,269.9 630.1,269.6 630.4,268.9 630.8,268.4 631.1,268.1 631.5,268.0 631.8,268.1 632.2,268.2 632.5,267.6 632.9,266.8 633.2,266.4 633.5,266.3 633.9,266.1 634.2,265.7 634.6,265.7 634.9,266.2 635.3,266.4 635.6,266.4 636.0,266.5 636.3,266.3 636.7,265.9 637.0,265.6 637.4,265.0 637.7,264.2 638.1,263.9 638.4,263.7 638.8,263.8 639.1,264.3 639.5,264.0 639.8,263.4 640.2,263.5 640.5,263.2 640.9,262.7 641.2,262.7 641.6,262.8 641.9,262.9 642.3,262.6 642.6,262.4 643.0,262.4 643.3,262.3 643.7,262.5 644.0,262.6 644.4,262.3 644.7,261.9 645.1,261.6 645.4,261.3 645.8,261.4 646.1,262.3 646.5,262.5 646.8,261.7 647.2,261.2 647.5,261.1 647.9,261.0 648.2,260.5 648.6,260.4 648.9,260.9 649.3,261.1 649.6,260.8 650.0,260.4 650.3,260.1 650.7,259.9 651.0,260.1 651.4,259.7 651.7,259.1 652.1,259.3 652.4,260.3 652.8,260.9 653.1,260.9 653.4,260.3 653.8,259.7 654.1,259.0 654.5,258.5 654.8,258.7 655.2,259.2 655.5,259.2 655.9,259.2 656.2,258.8 656.6,258.5 656.9,258.5 657.3,258.1 657.6,258.0 658.0,258.3 658.3,258.1 658.7,257.9 659.0,258.1 659.4,257.9 659.7,257.7 660.1,257.7 660.4,257.4 660.8,257.0 661.1,256.6 661.5,256.3 661.8,256.2 662.2,256.4 662.5,257.0 662.9,257.6 663.2,257.9 663.6,257.7 663.9,257.8 664.3,258.0 664.6,257.7 665.0,257.9 665.3,258.3 665.7,258.7 666.0,258.8 666.4,258.9 666.7,258.4 667.1,258.0 667.4,258.3 667.8,258.2 668.1,258.4 668.5,258.7 668.8,258.8 669.2,258.8 669.5,258.6 669.9,258.7 670.2,258.8 670.6,258.8 670.9,258.9 671.3,258.4 671.6,258.1 672.0,258.5 672.3,258.6 672.7,258.4 673.0,258.1 673.4,258.0 673.7,257.9 674.0,257.6 674.4,257.6 674.7,257.5 675.1,257.6 675.4,257.7" fill="none" stroke="#0000ff" stroke-width="1.50" stroke-linejoin="round" stroke-linecap="butt" clip-path="url(#c6)"/>
<polyline points="501.2,269.0 501.6,268.5 501.9,268.0 502.3,267.5 502.6,267.0 503.0,266.5 503.3,265.9 503.7,265.4 504.0,265.1 504.4,264.9 504.7,264.7 505.1,264.4 505.4,264.2 505.8,264.0 506.1,263.7 506.5,263.5 506.8,263.3 507.2,263.0 507.5,262.8 507.9,262.6 508.2,262.3 508.6,262.1 508.9,261.8 509.3,261.6 509.6,261.4 510.0,261.3 510.3,261.1 510.7,261.0 511.0,260.8 511.4,260.7 511.7,260.5 512.1,260.4 512.4,260.2 512.8,260.1 513.1,259.9 513.5,259.8 513.9,259.6 514.2,259.5 514.6,259.5 514.9,259.5 515.3,259.5 515.6,259.5 516.0,259.5 516.3,259.5 516.7,259.5 517.0,259.5 517.4,259.5 517.7,259.5 518.1,259.5 518.4,259.5 518.8,259.5 519.1,259.5 519.5,259.5 519.8,259.5 520.2,259.5 520.5,259.5 520.9,259.5 521.2,259.5 521.6,259.5 521.9,259.5 522.3,259.4 522.6,259.4 523.0,259.4 523.3,259.4 523.7,259.4 524.0,259.4 524.4,259.4 524.7,259.4 525.1,259.4 525.4,259.4 525.8,259.3 526.1,259.3 526.5,259.3 526.8,259.3 527.2,259.3 527.5,259.2 527.9,259.2 528.2,259.2 528.6,259.2 528.9,259.2 529.3,259.1 529.6,259.1 530.0,259.1 530.3,259.1 530.7,259.1 531.0,259.0 531.4,259.0 531.7,259.0 532.1,259.0 532.4,259.0 532.8,258.9 533.1,259.0 533.5,259.0 533.8,259.1 534.2,259.1 534.5,259.2 534.9,259.3 535.2,259.3 535.6,259.4 535.9,259.5 536.3,259.5 536.6,259.6 537.0,259.6 537.3,259.7 537.7,259.8 538.0,259.8 538.4,259.9 538.7,260.0 539.1,260.0 539.4,260.1 539.8,260.1 540.2,260.2 540.5,260.4 540.9,260.5 541.2,260.6 541.6,260.7 541.9,260.8 542.3,261.0 542.6,261.1 543.0,261.2 543.3,261.3 543.7,261.4 544.0,261.4 544.4,261.5 544.7,261.6 545.1,261.6 545.4,261.7 545.8,261.8 546.1,261.8 546.5,261.9 546.8,262.0 547.2,262.0 547.5,262.1 547.9,262.2 548.2,262.2 548.6,262.3 548.9,262.4 549.3,262.5 549.6,262.6 550.0,262.7 550.3,262.8 550.7,262.9 551.0,263.0 551.4,263.1 551.7,263.2 552.1,263.4 552.4,263.5 552.8,263.6 553.1,263.7 553.5,263.8 553.8,263.9 554.2,264.0 554.5,264.1 554.9,264.2 555.2,264.4 555.6,264.5 555.9,264.6 556.3,264.7 556.6,264.8 557.0,265.0 557.3,265.1 557.7,265.3 558.0,265.5 558.4,265.7 558.7,265.8 559.1,266.0 559.4,266.2 559.8,266.4 560.1,266.5 560.5,266.7 560.8,266.9 561.2,267.1 561.5,267.3 561.9,267.4 562.2,267.6 562.6,267.8 562.9,268.0 563.3,268.1 563.6,268.3 564.0,268.5 564.3,268.7 564.7,268.8 565.0,269.0 565.4,269.2 565.7,269.4 566.1,269.6 566.5,269.7 566.8,269.9 567.2,270.1 567.5,270.3 567.9,270.4 568.2,270.5 568.6,270.6 568.9,270.7 569.3,270.8 569.6,270.9 570.0,271.0 570.3,271.1 570.7,271.2 571.0,271.3 571.4,271.4 571.7,271.5 572.1,271.6 572.4,271.7 572.8,271.8 573.1,271.9 573.5,272.0 573.8,272.1 574.2,272.2 574.5,272.3 574.9,272.4 575.2,272.5 575.6,272.6 575.9,272.7 576.3,272.7 576.6,272.8 577.0,272.9 577.3,273.0 577.7,273.1 578.0,273.2 578.4,273.3 578.7,273.4 579.1,273.5 579.4,273.5 579.8,273.6 580.1,273.7 580.5,273.8 580.8,273.9 581.2,273.9 581.5,274.0 581.9,274.1 582.2,274.2 582.6,274.2 582.9,274.3 583.3,274.4 583.6,274.5 584.0,274.5 584.3,274.6 584.7,274.7 585.0,274.8 585.4,274.9 585.7,274.9 586.1,275.0 586.4,275.1 586.8,275.2 587.1,275.2 587.5,275.3 587.8,275.4 588.2,275.5 588.5,275.5 588.9,275.6 589.2,275.7 589.6,275.7 589.9,275.8 590.3,275.9 590.6,275.9 591.0,276.0 591.3,276.1 591.7,276.1 592.0,276.2 592.4,276.3 592.8,276.3 593.1,276.4 593.5,276.5 593.8,276.5 594.2,276.6 594.5,276.7 594.9,276.7 595.2,276.8 595.6,276.9 595.9,276.9 596.3,277.0 596.6,277.1 597.0,277.1 597.3,277.2 597.7,277.2 598.0,277.3 598.4,277.4 598.7,277.4 599.1,277.5 599.4,277.6 599.8,277.6 600.1,277.6 600.5,277.6 600.8,277.5 601.2,277.4 601.5,277.3 601.9,277.2 602.2,277.2 602.6,277.1 602.9,277.0 603.3,276.9 603.6,276.8 604.0,276.8 604.3,276.7 604.7,276.6 605.0,276.5 605.4,276.4 605.7,276.4 606.1,276.3 606.4,276.2 606.8,276.1 607.1,276.0 607.5,275.9 607.8,275.7 608.2,275.6 608.5,275.4 608.9,275.3 609.2,275.1 609.6,275.0 609.9,274.9 610.3,274.7 610.6,274.5 611.0,274.3 611.3,274.2 611.7,274.0 612.0,273.8 612.4,273.6 612.7,273.5 613.1,273.3 613.4,273.1 613.8,272.9 614.1,272.7 614.5,272.6 614.8,272.4 615.2,272.2 615.5,272.0 615.9,271.9 616.2,271.7 616.6,271.5 616.9,271.3 617.3,271.2 617.6,271.0 618.0,270.8 618.3,270.6 618.7,270.4 619.1,270.3 619.4,270.2 619.8,270.1 620.1,270.0 620.5,269.9 620.8,269.8 621.2,269.7 621.5,269.6 621.9,269.5 622.2,269.4 622.6,269.3 622.9,269.2 623.3,269.1 623.6,269.0 624.0,268.9 624.3,268.8 624.7,268.7 625.0,268.6 625.4,268.5 625.7,268.4 626.1,268.3 626.4,268.2 626.8,268.1 627.1,268.0 627.5,267.9 627.8,267.8 628.2,267.7 628.5,267.6 628.9,267.5 629.2,267.4 629.6,267.2 629.9,267.0 630.3,266.9 630.6,266.7 631.0,266.6 631.3,266.4 631.7,266.3 632.0,266.2 632.4,266.0 632.7,265.9 633.1,265.8 633.4,265.6 633.8,265.5 634.1,265.4 634.5,265.2 634.8,265.1 635.2,264.9 635.5,264.8 635.9,264.7 636.2,264.5 636.6,264.4 636.9,264.3 637.3,264.1 637.6,264.0 638.0,263.8 638.3,263.7 638.7,263.6 639.0,263.4 639.4,263.3 639.7,263.2 640.1,263.0 640.4,262.9 640.8,262.8 641.1,262.7 641.5,262.6 641.8,262.5 642.2,262.4 642.5,262.3 642.9,262.2 643.2,262.1 643.6,262.0 643.9,261.9 644.3,261.8 644.6,261.7 645.0,261.6 645.4,261.5 645.7,261.5 646.1,261.7 646.4,261.9 646.8,262.0 647.1,262.2 647.5,262.3 647.8,262.5 648.2,262.7 648.5,262.8 648.9,263.0 649.2,263.2 649.6,263.2 649.9,263.2 650.3,263.2 650.6,263.2 651.0,263.2 651.3,263.2 651.7,263.3 652.0,263.3 652.4,263.3 652.7,263.3 653.1,263.3 653.4,263.3 653.8,263.3 654.1,263.3 654.5,263.3 654.8,263.3 655.2,263.4 655.5,263.4 655.9,263.4 656.2,263.4 656.6,263.4 656.9,263.4 657.3,263.4 657.6,263.4 658.0,263.4 658.3,263.3 658.7,263.2 659.0,263.1 659.4,263.0 659.7,262.9 660.1,262.8 660.4,262.7 660.8,262.6 661.1,262.5 661.5,262.4 661.8,262.3 662.2,262.2 662.5,262.1 662.9,262.0 663.2,261.9 663.6,261.8 663.9,261.7 664.3,261.6 664.6,261.6 665.0,261.5 665.3,261.4 665.7,261.3 666.0,261.2 666.4,261.1 666.7,261.0 667.1,260.9 667.4,260.8 667.8,260.8 668.1,260.7 668.5,260.6 668.8,260.5 669.2,260.4 669.5,260.3 669.9,260.2 670.2,260.1 670.6,260.1 670.9,260.0 671.3,259.9 671.7,259.8 672.0,259.7 672.4,259.6 672.7,260.9 673.1,264.4 673.4,264.4 673.8,264.4 674.1,264.5 674.5,264.5 674.8,264.5 675.2,264.6 675.5,264.6 675.9,264.6 676.2,264.7" fill="none" stroke="#ff0000" stroke-width="1.50" stroke-linejoin="round" stroke-linecap="butt" clip-path="url(#c6)"/>
<rect x="554.90" y="198.40" width="125.00" height="21.60" rx="1.6" fill="#fff" fill-opacity="0.8" stroke="#d8d8d8" stroke-width="0.8"/>
<line x1="557.70" y1="204.10" x2="577.40" y2="204.10" stroke="#0000ff" stroke-width="1.50"/>
<line x1="557.70" y1="214.20" x2="577.40" y2="214.20" stroke="#ff0000" stroke-width="1.50"/>
<text transform="translate(583.87 206.60) scale(1.4826 1)" font-size="7.00" font-weight="normal" fill="#222" stroke="#222" stroke-width="0.20">Measurement signal</text>
<text transform="translate(583.86 216.60) scale(1.4993 1)" font-size="7.00" font-weight="normal" fill="#222" stroke="#222" stroke-width="0.20">Predicted voluntary</text>
<rect x="492.50" y="195.40" width="192.00" height="154.20" fill="none" stroke="#666" stroke-width="1.40"/>
<line x1="501.23" y1="349.60" x2="501.23" y2="352.00" stroke="#444" stroke-width="0.90"/>
<text transform="translate(498.27 359.70) scale(1.3000 1)" font-size="8.20" font-weight="normal" fill="#222" stroke="#222" stroke-width="0.20">0</text>
<line x1="555.77" y1="349.60" x2="555.77" y2="352.00" stroke="#444" stroke-width="0.90"/>
<text transform="translate(546.87 359.70) scale(1.3000 1)" font-size="8.20" font-weight="normal" fill="#222" stroke="#222" stroke-width="0.20">500</text>
<line x1="610.32" y1="349.60" x2="610.32" y2="352.00" stroke="#444" stroke-width="0.90"/>
<text transform="translate(598.25 359.70) scale(1.3000 1)" font-size="8.20" font-weight="normal" fill="#222" stroke="#222" stroke-width="0.20">1000</text>
<line x1="664.86" y1="349.60" x2="664.86" y2="352.00" stroke="#444" stroke-width="0.90"/>
<text transform="translate(652.79 359.70) scale(1.3000 1)" font-size="8.20" font-weight="normal" fill="#222" stroke="#222" stroke-width="0.20">1500</text>
<line x1="489.20" y1="349.60" x2="492.50" y2="349.60" stroke="#444" stroke-width="0.80"/>
<text transform="translate(468.62 352.25) scale(1.3000 1)" font-size="8.20" font-weight="normal" fill="#222" stroke="#222" stroke-width="0.20">100</text>
<rect x="462.62" y="349.18" width="5.90" height="1.00" fill="#555"/>
<line x1="489.20" y1="318.76" x2="492.50" y2="318.76" stroke="#444" stroke-width="0.80"/>
<text transform="translate(474.54 321.41) scale(1.3000 1)" font-size="8.20" font-weight="normal" fill="#222" stroke="#222" stroke-width="0.20">50</text>
<rect x="468.17" y="318.34" width="5.90" height="1.00" fill="#555"/>
<line x1="489.20" y1="287.92" x2="492.50" y2="287.92" stroke="#444" stroke-width="0.80"/>
<text transform="translate(480.46 290.57) scale(1.3000 1)" font-size="8.20" font-weight="normal" fill="#222" stroke="#222" stroke-width="0.20">0</text>
<line x1="489.20" y1="257.08" x2="492.50" y2="257.08" stroke="#444" stroke-width="0.80"/>
<text transform="translate(474.54 259.73) scale(1.3000 1)" font-size="8.20" font-weight="normal" fill="#222" stroke="#222" stroke-width="0.20">50</text>
<line x1="489.20" y1="226.24" x2="492.50" y2="226.24" stroke="#444" stroke-width="0.80"/>
<text transform="translate(468.62 228.89) scale(1.3000 1)" font-size="8.20" font-weight="normal" fill="#222" stroke="#222" stroke-width="0.20">100</text>
<line x1="489.20" y1="195.40" x2="492.50" y2="195.40" stroke="#444" stroke-width="0.80"/>
<text transform="translate(468.62 198.05) scale(1.3000 1)" font-size="8.20" font-weight="normal" fill="#222" stroke="#222" stroke-width="0.20">150</text>
<text transform="translate(522.11 192.10) scale(1.1942 1)" font-size="9.30" font-weight="normal" fill="#222" stroke="#222" stroke-width="0.20">Finger-to-nose Motion Test</text>
<line x1="39.32" y1="413.00" x2="39.32" y2="585.20" stroke="#d3d3d3" stroke-width="1.25"/>
<line x1="93.81" y1="413.00" x2="93.81" y2="585.20" stroke="#d3d3d3" stroke-width="1.25"/>
<line x1="148.30" y1="413.00" x2="148.30" y2="585.20" stroke="#d3d3d3" stroke-width="1.25"/>
<line x1="202.78" y1="413.00" x2="202.78" y2="585.20" stroke="#d3d3d3" stroke-width="1.25"/>
<line x1="30.60" y1="585.20" x2="222.40" y2="585.20" stroke="#d3d3d3" stroke-width="1.25"/>
<line x1="30.60" y1="550.76" x2="222.40" y2="550.76" stroke="#d3d3d3" stroke-width="1.25"/>
<line x1="30.60" y1="516.32" x2="222.40" y2="516.32" stroke="#d3d3d3" stroke-width="1.25"/>
<line x1="30.60" y1="481.88" x2="222.40" y2="481.88" stroke="#d3d3d3" stroke-width="1.25"/>
<line x1="30.60" y1="447.44" x2="222.40" y2="447.44" stroke="#d3d3d3" stroke-width="1.25"/>
<line x1="30.60" y1="413.00" x2="222.40" y2="413.00" stroke="#d3d3d3" stroke-width="1.25"/>
<clipPath id="c7"><rect x="30.60" y="413.00" width="191.80" height="172.20"/></clipPath>
<polyline points="39.3,506.8 39.9,506.7 40.5,506.7 41.1,506.7 41.7,506.5 42.2,506.5 42.8,506.2 43.4,505.8 44.0,506.1 44.6,506.1 45.1,505.7 45.7,505.7 46.3,505.6 46.9,505.7 47.5,505.4 48.1,505.2 48.6,505.5 49.2,505.2 49.8,505.5 50.4,505.3 51.0,505.4 51.6,505.1 52.1,505.3 52.7,504.9 53.3,504.9 53.9,505.0 54.5,505.4 55.1,505.0 55.6,504.9 56.2,504.8 56.8,505.1 57.4,504.9 58.0,505.0 58.6,504.9 59.1,504.5 59.7,504.9 60.3,504.7 60.9,504.5 61.5,504.8 62.1,504.6 62.6,504.6 63.2,504.6 63.8,504.8 64.4,504.5 65.0,504.3 65.6,504.9 66.1,504.4 66.7,504.5 67.3,504.7 67.9,504.2 68.5,504.4 69.1,504.8 69.6,504.6 70.2,504.5 70.8,504.6 71.4,504.5 72.0,504.6 72.6,504.5 73.1,504.3 73.7,504.8 74.3,504.6 74.9,504.7 75.5,504.6 76.1,504.9 76.6,504.8 77.2,504.7 77.8,504.5 78.4,504.4 79.0,505.0 79.6,504.9 80.1,504.6 80.7,505.1 81.3,504.8 81.9,504.7 82.5,504.5 83.1,504.6 83.6,504.8 84.2,504.8 84.8,504.8 85.4,504.4 86.0,504.8 86.6,504.8 87.1,504.7 87.7,504.8 88.3,504.8 88.9,505.0 89.5,504.8 90.1,504.9 90.6,504.6 91.2,504.7 91.8,504.8 92.4,504.7 93.0,504.9 93.6,504.6 94.1,504.8 94.7,504.7 95.3,505.1 95.9,504.8 96.5,505.2 97.1,505.3 97.6,505.0 98.2,505.1 98.8,504.9 99.4,504.5 100.0,505.1 100.5,505.1 101.1,504.9 101.7,504.9 102.3,505.0 102.9,505.1 103.5,504.9 104.0,504.9 104.6,505.3 105.2,505.1 105.8,505.1 106.4,505.3 107.0,505.1 107.5,505.3 108.1,504.9 108.7,505.1 109.3,505.1 109.9,505.3 110.5,505.2 111.0,505.6 111.6,505.5 112.2,505.2 112.8,505.7 113.4,505.1 114.0,505.6 114.5,505.1 115.1,505.5 115.7,505.1 116.3,505.3 116.9,505.6 117.5,505.1 118.0,505.1 118.6,505.4 119.2,505.4 119.8,505.4 120.4,505.6 121.0,505.2 121.5,505.5 122.1,505.5 122.7,505.6 123.3,505.6 123.9,505.7 124.5,505.2 125.0,505.5 125.6,505.3 126.2,505.5 126.8,505.7 127.4,505.6 128.0,505.7 128.5,505.6 129.1,505.7 129.7,505.7 130.3,505.9 130.9,505.8 131.5,505.3 132.0,505.8 132.6,505.9 133.2,505.6 133.8,505.4 134.4,506.0 135.0,505.7 135.5,505.8 136.1,506.1 136.7,505.6 137.3,505.7 137.9,505.7 138.5,505.9 139.0,505.7 139.6,505.9 140.2,505.8 140.8,506.0 141.4,506.1 142.0,505.6 142.5,505.9 143.1,505.8 143.7,505.9 144.3,506.0 144.9,506.0 145.5,505.8 146.0,506.0 146.6,505.9 147.2,505.9 147.8,505.7 148.4,505.8 149.0,505.9 149.5,506.1 150.1,506.2 150.7,505.8 151.3,505.8 151.9,506.0 152.5,505.9 153.0,505.8 153.6,505.8 154.2,505.8 154.8,506.1 155.4,505.7 155.9,506.3 156.5,505.9 157.1,505.9 157.7,505.9 158.3,505.7 158.9,505.8 159.4,506.3 160.0,506.4 160.6,505.9 161.2,506.3 161.8,506.1 162.4,505.9 162.9,506.5 163.5,506.6 164.1,506.1 164.7,506.1 165.3,506.2 165.9,506.2 166.4,506.3 167.0,506.5 167.6,506.2 168.2,506.4 168.8,506.5 169.4,506.1 169.9,506.2 170.5,506.1 171.1,506.4 171.7,506.4 172.3,506.5 172.9,506.4 173.4,506.2 174.0,506.4 174.6,506.2 175.2,506.2 175.8,505.9 176.4,506.6 176.9,506.1 177.5,506.4 178.1,506.4 178.7,506.7 179.3,506.5 179.9,506.2 180.4,506.4 181.0,506.4 181.6,506.5 182.2,506.2 182.8,506.4 183.4,506.9 183.9,506.6 184.5,506.9 185.1,507.1 185.7,506.6 186.3,506.2 186.9,506.5 187.4,506.7 188.0,506.7 188.6,506.3 189.2,506.5 189.8,506.5 190.4,506.6 190.9,506.6 191.5,506.4 192.1,506.5 192.7,506.5 193.3,506.8 193.9,506.5 194.4,506.8 195.0,506.4 195.6,506.9 196.2,506.7 196.8,506.7 197.4,506.9 197.9,506.3 198.5,506.4 199.1,506.8 199.7,506.5 200.3,506.6 200.9,507.3 201.4,506.7 202.0,506.8 202.6,506.7 203.2,507.0 203.8,506.8 204.4,506.8 204.9,506.6 205.5,506.7 206.1,506.8 206.7,506.5 207.3,507.0 207.9,506.9 208.4,507.2 209.0,506.5 209.6,506.7 210.2,506.7 210.8,506.8 211.3,506.9 211.9,506.9 212.5,507.0 213.1,507.0 213.7,506.9" fill="none" stroke="#0000ff" stroke-width="1.50" stroke-linejoin="round" stroke-linecap="butt" clip-path="url(#c7)"/>
<polyline points="39.3,506.0 40.2,506.0 41.1,505.9 41.9,505.8 42.8,505.8 43.7,505.7 44.6,505.6 45.5,505.5 46.3,505.4 47.2,505.3 48.1,505.3 49.0,505.2 49.8,505.1 50.7,505.1 51.6,505.0 52.5,505.0 53.3,505.0 54.2,504.9 55.1,504.9 56.0,504.9 56.8,504.9 57.7,504.8 58.6,504.8 59.5,504.8 60.3,504.7 61.2,504.7 62.1,504.7 63.0,504.7 63.9,504.7 64.7,504.6 65.6,504.6 66.5,504.6 67.4,504.6 68.2,504.6 69.1,504.7 70.0,504.7 70.9,504.7 71.7,504.7 72.6,504.7 73.5,504.7 74.4,504.7 75.2,504.7 76.1,504.7 77.0,504.7 77.9,504.7 78.7,504.7 79.6,504.8 80.5,504.8 81.4,504.8 82.3,504.8 83.1,504.8 84.0,504.8 84.9,504.8 85.8,504.8 86.6,504.8 87.5,504.8 88.4,504.8 89.3,504.8 90.1,504.9 91.0,504.9 91.9,504.9 92.8,504.9 93.6,504.9 94.5,504.9 95.4,504.9 96.3,505.0 97.1,505.0 98.0,505.0 98.9,505.0 99.8,505.0 100.7,505.0 101.5,505.1 102.4,505.1 103.3,505.1 104.2,505.1 105.0,505.1 105.9,505.2 106.8,505.2 107.7,505.2 108.5,505.2 109.4,505.2 110.3,505.3 111.2,505.3 112.0,505.3 112.9,505.3 113.8,505.3 114.7,505.4 115.5,505.4 116.4,505.4 117.3,505.4 118.2,505.4 119.1,505.4 119.9,505.5 120.8,505.5 121.7,505.5 122.6,505.5 123.4,505.5 124.3,505.6 125.2,505.6 126.1,505.6 126.9,505.6 127.8,505.6 128.7,505.6 129.6,505.7 130.4,505.7 131.3,505.7 132.2,505.7 133.1,505.7 133.9,505.7 134.8,505.8 135.7,505.8 136.6,505.8 137.5,505.8 138.3,505.8 139.2,505.8 140.1,505.9 141.0,505.9 141.8,505.9 142.7,505.9 143.6,505.9 144.5,505.9 145.3,506.0 146.2,506.0 147.1,506.0 148.0,506.0 148.8,506.0 149.7,506.0 150.6,506.0 151.5,506.0 152.3,506.1 153.2,506.1 154.1,506.1 155.0,506.1 155.9,506.1 156.7,506.1 157.6,506.1 158.5,506.1 159.4,506.1 160.2,506.2 161.1,506.2 162.0,506.2 162.9,506.2 163.7,506.2 164.6,506.2 165.5,506.2 166.4,506.2 167.2,506.2 168.1,506.3 169.0,506.3 169.9,506.3 170.7,506.3 171.6,506.3 172.5,506.3 173.4,506.3 174.3,506.4 175.1,506.4 176.0,506.4 176.9,506.4 177.8,506.4 178.6,506.4 179.5,506.4 180.4,506.5 181.3,506.5 182.1,506.5 183.0,506.5 183.9,506.5 184.8,506.5 185.6,506.5 186.5,506.6 187.4,506.6 188.3,506.6 189.1,506.6 190.0,506.6 190.9,506.6 191.8,506.6 192.7,506.7 193.5,506.7 194.4,506.7 195.3,506.7 196.2,506.7 197.0,506.7 197.9,506.7 198.8,506.8 199.7,506.8 200.5,506.8 201.4,506.8 202.3,506.8 203.2,506.8 204.0,506.9 204.9,506.9 205.8,506.9 206.7,506.9 207.5,506.9 208.4,506.9 209.3,506.9 210.2,507.0 211.1,507.0 211.9,507.0 212.8,507.0 213.7,507.0" fill="none" stroke="#ff0000" stroke-width="1.50" stroke-linejoin="round" stroke-linecap="butt" clip-path="url(#c7)"/>
<rect x="91.80" y="417.20" width="125.70" height="23.90" rx="1.6" fill="#fff" fill-opacity="0.8" stroke="#d8d8d8" stroke-width="0.8"/>
<line x1="95.10" y1="423.10" x2="114.80" y2="423.10" stroke="#0000ff" stroke-width="1.50"/>
<line x1="95.10" y1="434.10" x2="114.80" y2="434.10" stroke="#ff0000" stroke-width="1.50"/>
<text transform="translate(120.97 425.80) scale(1.3194 1)" font-size="7.90" font-weight="normal" fill="#222" stroke="#222" stroke-width="0.20">Measurement signal</text>
<text transform="translate(120.96 436.70) scale(1.3285 1)" font-size="7.90" font-weight="normal" fill="#222" stroke="#222" stroke-width="0.20">Predicted voluntary</text>
<rect x="30.60" y="413.00" width="191.80" height="172.20" fill="none" stroke="#666" stroke-width="1.40"/>
<line x1="39.32" y1="585.20" x2="39.32" y2="587.90" stroke="#444" stroke-width="0.90"/>
<text transform="translate(36.36 596.60) scale(1.3000 1)" font-size="8.20" font-weight="normal" fill="#222" stroke="#222" stroke-width="0.20">0</text>
<line x1="93.81" y1="585.20" x2="93.81" y2="587.90" stroke="#444" stroke-width="0.90"/>
<text transform="translate(84.91 596.60) scale(1.3000 1)" font-size="8.20" font-weight="normal" fill="#222" stroke="#222" stroke-width="0.20">500</text>
<line x1="148.30" y1="585.20" x2="148.30" y2="587.90" stroke="#444" stroke-width="0.90"/>
<text transform="translate(136.22 596.60) scale(1.3000 1)" font-size="8.20" font-weight="normal" fill="#222" stroke="#222" stroke-width="0.20">1000</text>
<line x1="202.78" y1="585.20" x2="202.78" y2="587.90" stroke="#444" stroke-width="0.90"/>
<text transform="translate(190.71 596.60) scale(1.3000 1)" font-size="8.20" font-weight="normal" fill="#222" stroke="#222" stroke-width="0.20">1500</text>
<line x1="27.30" y1="585.20" x2="30.60" y2="585.20" stroke="#444" stroke-width="0.80"/>
<text transform="translate(6.52 588.00) scale(1.3000 1)" font-size="8.20" font-weight="normal" fill="#222" stroke="#222" stroke-width="0.20">100</text>
<rect x="0.52" y="584.93" width="5.90" height="1.00" fill="#555"/>
<line x1="27.30" y1="550.76" x2="30.60" y2="550.76" stroke="#444" stroke-width="0.80"/>
<text transform="translate(12.44 553.56) scale(1.3000 1)" font-size="8.20" font-weight="normal" fill="#222" stroke="#222" stroke-width="0.20">50</text>
<rect x="6.07" y="550.49" width="5.90" height="1.00" fill="#555"/>
<line x1="27.30" y1="516.32" x2="30.60" y2="516.32" stroke="#444" stroke-width="0.80"/>
<text transform="translate(18.36 519.12) scale(1.3000 1)" font-size="8.20" font-weight="normal" fill="#222" stroke="#222" stroke-width="0.20">0</text>
<line x1="27.30" y1="481.88" x2="30.60" y2="481.88" stroke="#444" stroke-width="0.80"/>
<text transform="translate(12.44 484.68) scale(1.3000 1)" font-size="8.20" font-weight="normal" fill="#222" stroke="#222" stroke-width="0.20">50</text>
<line x1="27.30" y1="447.44" x2="30.60" y2="447.44" stroke="#444" stroke-width="0.80"/>
<text transform="translate(6.52 450.24) scale(1.3000 1)" font-size="8.20" font-weight="normal" fill="#222" stroke="#222" stroke-width="0.20">100</text>
<line x1="27.30" y1="413.00" x2="30.60" y2="413.00" stroke="#444" stroke-width="0.80"/>
<text transform="translate(6.52 415.80) scale(1.3000 1)" font-size="8.20" font-weight="normal" fill="#222" stroke="#222" stroke-width="0.20">150</text>
<text transform="translate(108.80 408.50) scale(1.2774 1)" font-size="9.30" font-weight="normal" fill="#222" stroke="#222" stroke-width="0.20">Rest-1</text>
<line x1="269.22" y1="413.00" x2="269.22" y2="585.20" stroke="#d3d3d3" stroke-width="1.25"/>
<line x1="323.74" y1="413.00" x2="323.74" y2="585.20" stroke="#d3d3d3" stroke-width="1.25"/>
<line x1="378.26" y1="413.00" x2="378.26" y2="585.20" stroke="#d3d3d3" stroke-width="1.25"/>
<line x1="432.77" y1="413.00" x2="432.77" y2="585.20" stroke="#d3d3d3" stroke-width="1.25"/>
<line x1="260.50" y1="585.20" x2="452.40" y2="585.20" stroke="#d3d3d3" stroke-width="1.25"/>
<line x1="260.50" y1="550.76" x2="452.40" y2="550.76" stroke="#d3d3d3" stroke-width="1.25"/>
<line x1="260.50" y1="516.32" x2="452.40" y2="516.32" stroke="#d3d3d3" stroke-width="1.25"/>
<line x1="260.50" y1="481.88" x2="452.40" y2="481.88" stroke="#d3d3d3" stroke-width="1.25"/>
<line x1="260.50" y1="447.44" x2="452.40" y2="447.44" stroke="#d3d3d3" stroke-width="1.25"/>
<line x1="260.50" y1="413.00" x2="452.40" y2="413.00" stroke="#d3d3d3" stroke-width="1.25"/>
<clipPath id="c8"><rect x="260.50" y="413.00" width="191.90" height="172.20"/></clipPath>
<polyline points="269.2,519.7 269.6,519.6 270.0,519.4 270.4,519.4 270.8,519.4 271.2,519.3 271.6,519.2 271.9,519.3 272.3,519.5 272.7,519.7 273.1,519.5 273.5,519.4 273.9,519.4 274.3,519.5 274.7,519.5 275.1,519.4 275.4,519.4 275.8,519.6 276.2,519.9 276.6,519.9 277.0,519.8 277.4,519.7 277.8,519.7 278.2,519.7 278.5,519.8 278.9,519.8 279.3,519.7 279.7,519.6 280.1,519.8 280.5,519.9 280.9,519.8 281.3,519.7 281.7,519.8 282.0,520.0 282.4,520.1 282.8,520.0 283.2,519.8 283.6,519.6 284.0,519.6 284.4,519.6 284.8,519.6 285.2,519.7 285.5,519.8 285.9,519.7 286.3,519.7 286.7,519.6 287.1,519.6 287.5,519.7 287.9,519.7 288.3,519.6 288.6,519.5 289.0,519.4 289.4,519.5 289.8,519.6 290.2,519.6 290.6,519.6 291.0,519.4 291.4,519.3 291.8,519.3 292.1,519.3 292.5,519.6 292.9,519.8 293.3,519.7 293.7,519.5 294.1,519.6 294.5,519.7 294.9,519.6 295.3,519.5 295.6,519.5 296.0,519.6 296.4,519.7 296.8,519.7 297.2,519.6 297.6,519.5 298.0,519.8 298.4,519.9 298.8,519.7 299.1,519.5 299.5,519.5 299.9,519.5 300.3,519.4 300.7,519.3 301.1,519.3 301.5,519.4 301.9,519.4 302.2,519.4 302.6,519.5 303.0,519.4 303.4,519.3 303.8,519.3 304.2,519.3 304.6,519.4 305.0,519.5 305.4,519.5 305.7,519.5 306.1,519.4 306.5,519.4 306.9,519.3 307.3,519.3 307.7,519.3 308.1,519.3 308.5,519.5 308.9,519.5 309.2,519.3 309.6,519.2 310.0,519.3 310.4,519.4 310.8,519.5 311.2,519.6 311.6,519.5 312.0,519.4 312.4,519.5 312.7,519.6 313.1,519.5 313.5,519.6 313.9,519.7 314.3,519.8 314.7,519.7 315.1,519.7 315.5,519.6 315.8,519.6 316.2,519.7 316.6,519.8 317.0,519.9 317.4,519.8 317.8,519.6 318.2,519.4 318.6,519.4 319.0,519.6 319.3,519.6 319.7,519.4 320.1,519.4 320.5,519.5 320.9,519.5 321.3,519.3 321.7,519.2 322.1,519.3 322.5,519.3 322.8,519.1 323.2,518.9 323.6,518.9 324.0,519.1 324.4,519.1 324.8,519.0 325.2,519.1 325.6,519.2 325.9,519.2 326.3,519.1 326.7,519.3 327.1,519.6 327.5,519.7 327.9,519.6 328.3,519.5 328.7,519.4 329.1,519.6 329.4,519.7 329.8,519.6 330.2,519.4 330.6,519.3 331.0,519.3 331.4,519.5 331.8,519.7 332.2,519.9 332.6,519.8 332.9,519.7 333.3,519.4 333.7,519.2 334.1,519.1 334.5,519.1 334.9,519.2 335.3,519.2 335.7,519.1 336.1,519.2 336.4,519.4 336.8,519.4 337.2,519.3 337.6,519.2 338.0,519.2 338.4,519.2 338.8,519.3 339.2,519.3 339.5,519.3 339.9,519.3 340.3,519.3 340.7,519.3 341.1,519.3 341.5,519.3 341.9,519.3 342.3,519.4 342.7,519.5 343.0,519.8 343.4,519.9 343.8,519.8 344.2,519.6 344.6,519.5 345.0,519.3 345.4,519.2 345.8,519.2 346.2,519.2 346.5,519.3 346.9,519.5 347.3,519.5 347.7,519.3 348.1,519.2 348.5,519.2 348.9,519.1 349.3,519.1 349.7,519.1 350.0,519.3 350.4,519.4 350.8,519.5 351.2,519.6 351.6,519.6 352.0,519.6 352.4,519.6 352.8,519.6 353.1,519.6 353.5,519.4 353.9,519.4 354.3,519.5 354.7,519.7 355.1,519.7 355.5,519.5 355.9,519.3 356.3,519.4 356.6,519.6 357.0,519.7 357.4,519.7 357.8,519.7 358.2,519.7 358.6,519.7 359.0,519.6 359.4,519.5 359.8,519.5 360.1,519.6 360.5,519.6 360.9,519.6 361.3,519.5 361.7,519.4 362.1,519.6 362.5,519.7 362.9,519.8 363.2,519.6 363.6,519.3 364.0,519.2 364.4,519.3 364.8,519.5 365.2,519.6 365.6,519.6 366.0,519.6 366.4,519.5 366.7,519.5 367.1,519.5 367.5,519.5 367.9,519.5 368.3,519.4 368.7,519.5 369.1,519.5 369.5,519.4 369.9,519.4 370.2,519.5 370.6,519.5 371.0,519.6 371.4,519.5 371.8,519.4 372.2,519.4 372.6,519.6 373.0,519.7 373.4,519.6 373.7,519.4 374.1,519.5 374.5,519.7 374.9,519.7 375.3,519.6 375.7,519.6 376.1,519.6 376.5,519.5 376.8,519.6 377.2,519.7 377.6,519.7 378.0,519.6 378.4,519.5 378.8,519.4 379.2,519.2 379.6,519.2 380.0,519.3 380.3,519.2 380.7,519.2 381.1,519.3 381.5,519.4 381.9,519.5 382.3,519.5 382.7,519.4 383.1,519.2 383.5,519.0 383.8,519.0 384.2,519.3 384.6,519.5 385.0,519.5 385.4,519.4 385.8,519.4 386.2,519.3 386.6,519.4 387.0,519.5 387.3,519.6 387.7,519.6 388.1,519.6 388.5,519.5 388.9,519.5 389.3,519.4 389.7,519.3 390.1,519.3 390.4,519.3 390.8,519.3 391.2,519.3 391.6,519.3 392.0,519.3 392.4,519.2 392.8,519.1 393.2,519.1 393.6,519.0 393.9,519.0 394.3,519.1 394.7,519.3 395.1,519.4 395.5,519.3 395.9,519.2 396.3,519.1 396.7,519.1 397.1,519.3 397.4,519.3 397.8,519.2 398.2,519.1 398.6,519.1 399.0,519.2 399.4,519.4 399.8,519.4 400.2,519.2 400.5,519.2 400.9,519.2 401.3,519.2 401.7,519.3 402.1,519.4 402.5,519.5 402.9,519.5 403.3,519.5 403.7,519.5 404.0,519.3 404.4,519.2 404.8,519.2 405.2,519.3 405.6,519.4 406.0,519.3 406.4,519.2 406.8,519.2 407.2,519.2 407.5,519.3 407.9,519.3 408.3,519.1 408.7,519.0 409.1,519.2 409.5,519.3 409.9,519.3 410.3,519.3 410.7,519.3 411.0,519.4 411.4,519.4 411.8,519.4 412.2,519.3 412.6,519.2 413.0,519.2 413.4,519.3 413.8,519.4 414.1,519.4 414.5,519.4 414.9,519.5 415.3,519.4 415.7,519.3 416.1,519.1 416.5,519.1 416.9,519.1 417.3,519.2 417.6,519.4 418.0,519.5 418.4,519.4 418.8,519.3 419.2,519.3 419.6,519.3 420.0,519.3 420.4,519.4 420.8,519.4 421.1,519.4 421.5,519.3 421.9,519.3 422.3,519.3 422.7,519.5 423.1,519.6 423.5,519.6 423.9,519.6 424.3,519.6 424.6,519.5 425.0,519.4 425.4,519.4 425.8,519.4 426.2,519.3 426.6,519.2 427.0,519.3 427.4,519.3 427.7,519.2 428.1,519.1 428.5,519.1 428.9,519.2 429.3,519.1 429.7,519.1 430.1,519.2 430.5,519.4 430.9,519.4 431.2,519.3 431.6,519.2 432.0,519.3 432.4,519.4 432.8,519.3 433.2,519.2 433.6,519.2 434.0,519.3 434.4,519.4 434.7,519.3 435.1,519.3 435.5,519.3 435.9,519.1 436.3,519.1 436.7,519.3 437.1,519.4 437.5,519.3 437.8,519.2 438.2,519.1 438.6,519.1 439.0,519.1 439.4,519.3 439.8,519.3 440.2,519.3 440.6,519.3 441.0,519.2 441.3,519.1 441.7,519.1 442.1,519.2 442.5,519.2 442.9,519.3 443.3,519.4 443.7,519.4" fill="none" stroke="#0000ff" stroke-width="1.50" stroke-linejoin="round" stroke-linecap="butt" clip-path="url(#c8)"/>
<polyline points="269.2,519.6 269.6,519.7 270.0,519.7 270.4,519.7 270.8,519.7 271.2,519.7 271.6,519.7 271.9,519.7 272.3,519.7 272.7,519.7 273.1,519.7 273.5,519.7 273.9,519.7 274.3,519.6 274.7,519.6 275.1,519.6 275.4,519.6 275.8,519.6 276.2,519.7 276.6,519.7 277.0,519.8 277.4,519.8 277.8,519.8 278.2,519.7 278.5,519.7 278.9,519.7 279.3,519.6 279.7,519.6 280.1,519.6 280.5,519.7 280.9,519.7 281.3,519.7 281.7,519.7 282.0,519.6 282.4,519.6 282.8,519.5 283.2,519.4 283.6,519.4 284.0,519.4 284.4,519.5 284.8,519.5 285.2,519.5 285.5,519.5 285.9,519.5 286.3,519.5 286.7,519.6 287.1,519.6 287.5,519.6 287.9,519.6 288.3,519.5 288.6,519.5 289.0,519.5 289.4,519.5 289.8,519.5 290.2,519.5 290.6,519.5 291.0,519.5 291.4,519.5 291.8,519.5 292.1,519.5 292.5,519.5 292.9,519.5 293.3,519.5 293.7,519.4 294.1,519.5 294.5,519.5 294.9,519.5 295.3,519.6 295.6,519.6 296.0,519.7 296.4,519.7 296.8,519.7 297.2,519.7 297.6,519.7 298.0,519.7 298.4,519.6 298.8,519.6 299.1,519.6 299.5,519.6 299.9,519.6 300.3,519.6 300.7,519.7 301.1,519.7 301.5,519.6 301.9,519.6 302.2,519.6 302.6,519.6 303.0,519.6 303.4,519.6 303.8,519.6 304.2,519.6 304.6,519.6 305.0,519.6 305.4,519.6 305.7,519.6 306.1,519.6 306.5,519.6 306.9,519.6 307.3,519.5 307.7,519.5 308.1,519.5 308.5,519.5 308.9,519.5 309.2,519.5 309.6,519.5 310.0,519.5 310.4,519.5 310.8,519.5 311.2,519.5 311.6,519.6 312.0,519.6 312.4,519.6 312.7,519.6 313.1,519.6 313.5,519.6 313.9,519.5 314.3,519.5 314.7,519.5 315.1,519.5 315.5,519.5 315.8,519.5 316.2,519.6 316.6,519.6 317.0,519.7 317.4,519.7 317.8,519.7 318.2,519.7 318.6,519.7 319.0,519.7 319.3,519.6 319.7,519.6 320.1,519.5 320.5,519.5 320.9,519.5 321.3,519.5 321.7,519.5 322.1,519.5 322.5,519.5 322.8,519.5 323.2,519.5 323.6,519.5 324.0,519.4 324.4,519.4 324.8,519.4 325.2,519.5 325.6,519.5 325.9,519.5 326.3,519.5 326.7,519.5 327.1,519.4 327.5,519.4 327.9,519.4 328.3,519.5 328.7,519.6 329.1,519.6 329.4,519.7 329.8,519.7 330.2,519.7 330.6,519.6 331.0,519.6 331.4,519.5 331.8,519.5 332.2,519.5 332.6,519.5 332.9,519.5 333.3,519.6 333.7,519.6 334.1,519.5 334.5,519.5 334.9,519.4 335.3,519.3 335.7,519.3 336.1,519.3 336.4,519.3 336.8,519.4 337.2,519.4 337.6,519.5 338.0,519.5 338.4,519.5 338.8,519.4 339.2,519.4 339.5,519.4 339.9,519.5 340.3,519.5 340.7,519.6 341.1,519.6 341.5,519.7 341.9,519.6 342.3,519.6 342.7,519.5 343.0,519.5 343.4,519.5 343.8,519.4 344.2,519.4 344.6,519.4 345.0,519.4 345.4,519.5 345.8,519.6 346.2,519.6 346.5,519.7 346.9,519.7 347.3,519.7 347.7,519.6 348.1,519.5 348.5,519.5 348.9,519.5 349.3,519.5 349.7,519.5 350.0,519.5 350.4,519.5 350.8,519.5 351.2,519.5 351.6,519.5 352.0,519.6 352.4,519.6 352.8,519.6 353.1,519.5 353.5,519.5 353.9,519.4 354.3,519.4 354.7,519.4 355.1,519.3 355.5,519.4 355.9,519.4 356.3,519.4 356.6,519.4 357.0,519.5 357.4,519.5 357.8,519.5 358.2,519.5 358.6,519.5 359.0,519.5 359.4,519.5 359.8,519.5 360.1,519.5 360.5,519.5 360.9,519.5 361.3,519.5 361.7,519.5 362.1,519.5 362.5,519.5 362.9,519.5 363.2,519.5 363.6,519.5 364.0,519.5 364.4,519.5 364.8,519.5 365.2,519.5 365.6,519.5 366.0,519.5 366.4,519.5 366.7,519.5 367.1,519.5 367.5,519.5 367.9,519.4 368.3,519.4 368.7,519.4 369.1,519.4 369.5,519.4 369.9,519.4 370.2,519.4 370.6,519.5 371.0,519.5 371.4,519.4 371.8,519.4 372.2,519.4 372.6,519.3 373.0,519.3 373.4,519.3 373.7,519.3 374.1,519.4 374.5,519.4 374.9,519.4 375.3,519.4 375.7,519.4 376.1,519.4 376.5,519.4 376.8,519.4 377.2,519.4 377.6,519.5 378.0,519.5 378.4,519.5 378.8,519.5 379.2,519.5 379.6,519.5 380.0,519.5 380.3,519.6 380.7,519.6 381.1,519.6 381.5,519.6 381.9,519.6 382.3,519.6 382.7,519.5 383.1,519.5 383.5,519.5 383.8,519.6 384.2,519.6 384.6,519.6 385.0,519.6 385.4,519.5 385.8,519.5 386.2,519.4 386.6,519.4 387.0,519.4 387.3,519.4 387.7,519.4 388.1,519.4 388.5,519.4 388.9,519.4 389.3,519.4 389.7,519.4 390.1,519.4 390.4,519.4 390.8,519.4 391.2,519.3 391.6,519.3 392.0,519.2 392.4,519.2 392.8,519.3 393.2,519.3 393.6,519.4 393.9,519.4 394.3,519.4 394.7,519.3 395.1,519.3 395.5,519.2 395.9,519.2 396.3,519.2 396.7,519.2 397.1,519.2 397.4,519.2 397.8,519.2 398.2,519.3 398.6,519.3 399.0,519.3 399.4,519.3 399.8,519.4 400.2,519.4 400.5,519.4 400.9,519.4 401.3,519.4 401.7,519.3 402.1,519.3 402.5,519.3 402.9,519.3 403.3,519.3 403.7,519.3 404.0,519.3 404.4,519.4 404.8,519.4 405.2,519.4 405.6,519.4 406.0,519.3 406.4,519.3 406.8,519.2 407.2,519.2 407.5,519.2 407.9,519.1 408.3,519.1 408.7,519.1 409.1,519.1 409.5,519.1 409.9,519.1 410.3,519.1 410.7,519.1 411.0,519.2 411.4,519.2 411.8,519.2 412.2,519.2 412.6,519.3 413.0,519.3 413.4,519.3 413.8,519.3 414.1,519.3 414.5,519.3 414.9,519.3 415.3,519.2 415.7,519.2 416.1,519.2 416.5,519.3 416.9,519.3 417.3,519.3 417.6,519.3 418.0,519.3 418.4,519.3 418.8,519.3 419.2,519.3 419.6,519.2 420.0,519.1 420.4,519.1 420.8,519.1 421.1,519.1 421.5,519.2 421.9,519.2 422.3,519.3 422.7,519.3 423.1,519.2 423.5,519.2 423.9,519.2 424.3,519.2 424.6,519.2 425.0,519.2 425.4,519.2 425.8,519.2 426.2,519.2 426.6,519.2 427.0,519.2 427.4,519.2 427.7,519.1 428.1,519.1 428.5,519.1 428.9,519.1 429.3,519.1 429.7,519.1 430.1,519.1 430.5,519.1 430.9,519.1 431.2,519.1 431.6,519.1 432.0,519.2 432.4,519.2 432.8,519.3 433.2,519.2 433.6,519.2 434.0,519.2 434.4,519.1 434.7,519.1 435.1,519.1 435.5,519.1 435.9,519.1 436.3,519.1 436.7,519.1 437.1,519.1 437.5,519.1 437.8,519.2 438.2,519.2 438.6,519.2 439.0,519.2 439.4,519.1 439.8,519.1 440.2,519.1 440.6,519.1 441.0,519.1 441.3,519.1 441.7,519.1 442.1,519.1 442.5,519.2 442.9,519.2 443.3,519.1 443.7,519.1" fill="none" stroke="#ff0000" stroke-width="1.50" stroke-linejoin="round" stroke-linecap="butt" clip-path="url(#c8)"/>
<rect x="321.80" y="417.20" width="125.70" height="23.90" rx="1.6" fill="#fff" fill-opacity="0.8" stroke="#d8d8d8" stroke-width="0.8"/>
<line x1="325.10" y1="423.10" x2="344.80" y2="423.10" stroke="#0000ff" stroke-width="1.50"/>
<line x1="325.10" y1="434.10" x2="344.80" y2="434.10" stroke="#ff0000" stroke-width="1.50"/>
<text transform="translate(350.97 425.80) scale(1.3194 1)" font-size="7.90" font-weight="normal" fill="#222" stroke="#222" stroke-width="0.20">Measurement signal</text>
<text transform="translate(350.96 436.70) scale(1.3285 1)" font-size="7.90" font-weight="normal" fill="#222" stroke="#222" stroke-width="0.20">Predicted voluntary</text>
<rect x="260.50" y="413.00" width="191.90" height="172.20" fill="none" stroke="#666" stroke-width="1.40"/>
<line x1="269.22" y1="585.20" x2="269.22" y2="587.90" stroke="#444" stroke-width="0.90"/>
<text transform="translate(266.26 596.60) scale(1.3000 1)" font-size="8.20" font-weight="normal" fill="#222" stroke="#222" stroke-width="0.20">0</text>
<line x1="323.74" y1="585.20" x2="323.74" y2="587.90" stroke="#444" stroke-width="0.90"/>
<text transform="translate(314.84 596.60) scale(1.3000 1)" font-size="8.20" font-weight="normal" fill="#222" stroke="#222" stroke-width="0.20">500</text>
<line x1="378.26" y1="585.20" x2="378.26" y2="587.90" stroke="#444" stroke-width="0.90"/>
<text transform="translate(366.18 596.60) scale(1.3000 1)" font-size="8.20" font-weight="normal" fill="#222" stroke="#222" stroke-width="0.20">1000</text>
<line x1="432.77" y1="585.20" x2="432.77" y2="587.90" stroke="#444" stroke-width="0.90"/>
<text transform="translate(420.70 596.60) scale(1.3000 1)" font-size="8.20" font-weight="normal" fill="#222" stroke="#222" stroke-width="0.20">1500</text>
<line x1="257.20" y1="585.20" x2="260.50" y2="585.20" stroke="#444" stroke-width="0.80"/>
<text transform="translate(236.42 588.00) scale(1.3000 1)" font-size="8.20" font-weight="normal" fill="#222" stroke="#222" stroke-width="0.20">100</text>
<rect x="230.42" y="584.93" width="5.90" height="1.00" fill="#555"/>
<line x1="257.20" y1="550.76" x2="260.50" y2="550.76" stroke="#444" stroke-width="0.80"/>
<text transform="translate(242.34 553.56) scale(1.3000 1)" font-size="8.20" font-weight="normal" fill="#222" stroke="#222" stroke-width="0.20">50</text>
<rect x="235.97" y="550.49" width="5.90" height="1.00" fill="#555"/>
<line x1="257.20" y1="516.32" x2="260.50" y2="516.32" stroke="#444" stroke-width="0.80"/>
<text transform="translate(248.26 519.12) scale(1.3000 1)" font-size="8.20" font-weight="normal" fill="#222" stroke="#222" stroke-width="0.20">0</text>
<line x1="257.20" y1="481.88" x2="260.50" y2="481.88" stroke="#444" stroke-width="0.80"/>
<text transform="translate(242.34 484.68) scale(1.3000 1)" font-size="8.20" font-weight="normal" fill="#222" stroke="#222" stroke-width="0.20">50</text>
<line x1="257.20" y1="447.44" x2="260.50" y2="447.44" stroke="#444" stroke-width="0.80"/>
<text transform="translate(236.42 450.24) scale(1.3000 1)" font-size="8.20" font-weight="normal" fill="#222" stroke="#222" stroke-width="0.20">100</text>
<line x1="257.20" y1="413.00" x2="260.50" y2="413.00" stroke="#444" stroke-width="0.80"/>
<text transform="translate(236.42 415.80) scale(1.3000 1)" font-size="8.20" font-weight="normal" fill="#222" stroke="#222" stroke-width="0.20">150</text>
<text transform="translate(338.70 408.50) scale(1.2812 1)" font-size="9.30" font-weight="normal" fill="#222" stroke="#222" stroke-width="0.20">Rest-2</text>
<line x1="499.73" y1="413.00" x2="499.73" y2="585.20" stroke="#d3d3d3" stroke-width="1.25"/>
<line x1="554.27" y1="413.00" x2="554.27" y2="585.20" stroke="#d3d3d3" stroke-width="1.25"/>
<line x1="608.82" y1="413.00" x2="608.82" y2="585.20" stroke="#d3d3d3" stroke-width="1.25"/>
<line x1="663.36" y1="413.00" x2="663.36" y2="585.20" stroke="#d3d3d3" stroke-width="1.25"/>
<line x1="491.00" y1="585.20" x2="683.00" y2="585.20" stroke="#d3d3d3" stroke-width="1.25"/>
<line x1="491.00" y1="550.76" x2="683.00" y2="550.76" stroke="#d3d3d3" stroke-width="1.25"/>
<line x1="491.00" y1="516.32" x2="683.00" y2="516.32" stroke="#d3d3d3" stroke-width="1.25"/>
<line x1="491.00" y1="481.88" x2="683.00" y2="481.88" stroke="#d3d3d3" stroke-width="1.25"/>
<line x1="491.00" y1="447.44" x2="683.00" y2="447.44" stroke="#d3d3d3" stroke-width="1.25"/>
<line x1="491.00" y1="413.00" x2="683.00" y2="413.00" stroke="#d3d3d3" stroke-width="1.25"/>
<clipPath id="c9"><rect x="491.00" y="413.00" width="192.00" height="172.20"/></clipPath>
<polyline points="499.7,517.5 500.1,517.6 500.5,517.8 500.9,517.5 501.3,517.0 501.7,516.9 502.1,517.2 502.4,517.5 502.8,517.6 503.2,517.7 503.6,517.5 504.0,517.3 504.4,517.2 504.8,517.3 505.2,517.5 505.6,517.5 505.9,517.4 506.3,517.5 506.7,517.6 507.1,517.7 507.5,517.9 507.9,518.0 508.3,517.7 508.7,517.4 509.1,517.5 509.4,517.6 509.8,517.5 510.2,517.5 510.6,517.7 511.0,518.0 511.4,518.0 511.8,518.2 512.2,518.8 512.6,519.1 512.9,518.9 513.3,518.7 513.7,518.7 514.1,518.8 514.5,518.8 514.9,518.3 515.3,517.6 515.7,517.5 516.1,518.0 516.4,518.4 516.8,518.1 517.2,517.8 517.6,517.9 518.0,518.0 518.4,517.8 518.8,517.6 519.2,517.9 519.6,518.3 519.9,518.2 520.3,517.7 520.7,517.1 521.1,516.8 521.5,516.8 521.9,517.0 522.3,517.0 522.7,516.5 523.1,516.2 523.4,516.5 523.8,517.1 524.2,517.5 524.6,517.6 525.0,517.6 525.4,517.5 525.8,517.4 526.2,517.3 526.6,517.3 526.9,517.3 527.3,517.5 527.7,517.6 528.1,517.6 528.5,517.5 528.9,517.5 529.3,517.4 529.7,517.3 530.0,517.0 530.4,516.8 530.8,516.9 531.2,517.1 531.6,517.1 532.0,517.0 532.4,517.1 532.8,517.3 533.2,517.3 533.5,517.1 533.9,516.8 534.3,516.8 534.7,516.9 535.1,517.1 535.5,517.3 535.9,517.3 536.3,517.2 536.7,517.0 537.0,516.8 537.4,517.0 537.8,517.6 538.2,518.0 538.6,517.8 539.0,517.4 539.4,517.3 539.8,517.6 540.2,517.8 540.5,517.9 540.9,518.1 541.3,518.1 541.7,517.9 542.1,517.8 542.5,517.7 542.9,517.4 543.3,517.1 543.7,517.0 544.0,517.1 544.4,517.0 544.8,516.9 545.2,517.0 545.6,517.0 546.0,516.9 546.4,517.0 546.8,517.0 547.2,516.8 547.5,516.8 547.9,517.0 548.3,517.2 548.7,517.1 549.1,516.7 549.5,516.4 549.9,516.4 550.3,516.6 550.7,517.0 551.0,517.2 551.4,517.1 551.8,516.7 552.2,516.5 552.6,516.5 553.0,516.6 553.4,516.9 553.8,517.3 554.2,517.5 554.5,517.5 554.9,517.3 555.3,517.1 555.7,517.2 556.1,517.5 556.5,517.9 556.9,518.3 557.3,518.6 557.6,518.5 558.0,518.2 558.4,518.0 558.8,518.0 559.2,517.8 559.6,517.8 560.0,518.1 560.4,518.0 560.8,517.7 561.1,517.9 561.5,518.3 561.9,518.5 562.3,518.3 562.7,518.1 563.1,517.9 563.5,518.0 563.9,518.2 564.3,518.3 564.6,518.0 565.0,517.8 565.4,517.8 565.8,518.0 566.2,518.0 566.6,517.9 567.0,517.7 567.4,517.8 567.8,517.9 568.1,517.7 568.5,517.3 568.9,517.2 569.3,517.4 569.7,517.4 570.1,517.2 570.5,517.3 570.9,517.6 571.3,517.5 571.6,517.4 572.0,517.5 572.4,517.8 572.8,518.0 573.2,518.0 573.6,517.8 574.0,517.5 574.4,517.2 574.8,516.9 575.1,516.8 575.5,517.1 575.9,517.5 576.3,517.6 576.7,517.5 577.1,517.3 577.5,517.1 577.9,516.7 578.3,516.5 578.6,516.5 579.0,516.9 579.4,517.5 579.8,517.6 580.2,517.4 580.6,517.3 581.0,517.6 581.4,517.8 581.8,517.4 582.1,516.9 582.5,516.8 582.9,513.7 583.3,519.8 583.7,514.9 584.1,517.9 584.5,517.8 584.9,517.5 585.3,517.2 585.6,517.1 586.0,517.2 586.4,517.4 586.8,517.4 587.2,517.1 587.6,517.0 588.0,516.9 588.4,516.7 588.7,516.4 589.1,516.4 589.5,516.5 589.9,516.7 590.3,516.6 590.7,516.5 591.1,516.5 591.5,516.6 591.9,516.7 592.2,516.7 592.6,516.6 593.0,516.8 593.4,517.2 593.8,517.3 594.2,517.3 594.6,517.5 595.0,518.0 595.4,518.3 595.7,517.8 596.1,517.3 596.5,517.0 596.9,517.2 597.3,517.2 597.7,517.1 598.1,517.1 598.5,517.5 598.9,517.8 599.2,517.9 599.6,518.1 600.0,518.1 600.4,517.9 600.8,517.8 601.2,518.0 601.6,518.4 602.0,518.4 602.4,518.0 602.7,517.8 603.1,517.7 603.5,517.7 603.9,518.0 604.3,518.1 604.7,517.7 605.1,517.3 605.5,517.3 605.9,517.5 606.2,517.4 606.6,517.2 607.0,516.9 607.4,516.9 607.8,517.2 608.2,517.3 608.6,517.3 609.0,517.1 609.4,516.6 609.7,516.4 610.1,516.7 610.5,517.0 610.9,517.1 611.3,517.1 611.7,517.2 612.1,517.4 612.5,517.5 612.9,517.3 613.2,517.1 613.6,517.1 614.0,517.3 614.4,517.4 614.8,517.4 615.2,517.4 615.6,517.5 616.0,517.5 616.4,517.4 616.7,517.2 617.1,517.2 617.5,517.3 617.9,517.3 618.3,517.4 618.7,517.5 619.1,517.6 619.5,517.3 619.8,516.9 620.2,516.9 620.6,517.3 621.0,517.4 621.4,517.1 621.8,516.9 622.2,516.8 622.6,516.7 623.0,516.8 623.3,517.4 623.7,518.0 624.1,518.1 624.5,517.9 624.9,517.7 625.3,517.7 625.7,517.7 626.1,517.6 626.5,517.3 626.8,517.3 627.2,517.5 627.6,517.7 628.0,517.7 628.4,517.9 628.8,517.9 629.2,517.8 629.6,517.9 630.0,517.9 630.3,517.6 630.7,517.1 631.1,517.1 631.5,517.3 631.9,517.5 632.3,517.3 632.7,516.9 633.1,516.6 633.5,516.5 633.8,516.8 634.2,517.1 634.6,517.2 635.0,517.2 635.4,517.5 635.8,517.7 636.2,517.6 636.6,517.7 637.0,517.9 637.3,517.7 637.7,517.3 638.1,517.1 638.5,517.1 638.9,517.1 639.3,517.1 639.7,517.2 640.1,517.2 640.5,517.4 640.8,517.8 641.2,517.7 641.6,517.2 642.0,516.7 642.4,516.6 642.8,516.6 643.2,516.6 643.6,516.6 644.0,516.7 644.3,516.9 644.7,517.0 645.1,516.9 645.5,516.9 645.9,516.7 646.3,516.7 646.7,517.0 647.1,517.6 647.4,518.2 647.8,518.3 648.2,517.9 648.6,517.6 649.0,517.7 649.4,517.6 649.8,517.4 650.2,517.3 650.6,517.3 650.9,517.5 651.3,517.5 651.7,517.3 652.1,517.0 652.5,516.9 652.9,516.7 653.3,516.5 653.7,516.5 654.1,516.6 654.4,516.7 654.8,517.0 655.2,517.0 655.6,516.8 656.0,516.8 656.4,517.0 656.8,517.0 657.2,516.9 657.6,516.8 657.9,516.8 658.3,516.7 658.7,516.7 659.1,517.1 659.5,517.5 659.9,517.7 660.3,517.8 660.7,517.6 661.1,517.5 661.4,517.4 661.8,517.5 662.2,517.6 662.6,517.9 663.0,518.2 663.4,518.0 663.8,517.7 664.2,517.6 664.6,517.4 664.9,517.2 665.3,517.3 665.7,517.4 666.1,517.5 666.5,517.7 666.9,517.6 667.3,517.3 667.7,517.1 668.1,516.8 668.4,516.6 668.8,516.6 669.2,516.8 669.6,516.8 670.0,516.7 670.4,516.4 670.8,515.9 671.2,515.7 671.6,516.1 671.9,516.7 672.3,517.1 672.7,517.1 673.1,517.1 673.5,517.2 673.9,517.2 674.3,516.9" fill="none" stroke="#0000ff" stroke-width="1.50" stroke-linejoin="round" stroke-linecap="butt" clip-path="url(#c9)"/>
<polyline points="499.7,517.0 500.1,517.0 500.5,517.0 500.9,517.0 501.3,517.0 501.7,517.0 502.1,517.0 502.4,517.1 502.8,517.1 503.2,517.2 503.6,517.2 504.0,517.3 504.4,517.3 504.8,517.3 505.2,517.3 505.6,517.2 505.9,517.2 506.3,517.1 506.7,517.1 507.1,517.0 507.5,517.1 507.9,517.1 508.3,517.1 508.7,517.2 509.1,517.2 509.4,517.2 509.8,517.2 510.2,517.2 510.6,517.2 511.0,517.2 511.4,517.2 511.8,517.2 512.2,517.2 512.6,517.2 512.9,517.2 513.3,517.2 513.7,517.2 514.1,517.2 514.5,517.2 514.9,517.2 515.3,517.1 515.7,517.1 516.1,517.1 516.4,517.1 516.8,517.1 517.2,517.1 517.6,517.1 518.0,517.1 518.4,517.1 518.8,517.1 519.2,517.2 519.6,517.2 519.9,517.2 520.3,517.3 520.7,517.3 521.1,517.3 521.5,517.2 521.9,517.2 522.3,517.2 522.7,517.1 523.1,517.1 523.4,517.1 523.8,517.1 524.2,517.0 524.6,517.1 525.0,517.1 525.4,517.1 525.8,517.1 526.2,517.1 526.6,517.0 526.9,517.0 527.3,516.9 527.7,516.9 528.1,516.9 528.5,516.9 528.9,516.9 529.3,517.0 529.7,517.0 530.0,517.0 530.4,517.0 530.8,517.0 531.2,517.0 531.6,517.0 532.0,517.0 532.4,517.0 532.8,517.0 533.2,517.0 533.5,517.0 533.9,517.0 534.3,517.0 534.7,517.0 535.1,517.0 535.5,517.0 535.9,517.1 536.3,517.1 536.7,517.2 537.0,517.2 537.4,517.2 537.8,517.2 538.2,517.2 538.6,517.2 539.0,517.2 539.4,517.2 539.8,517.3 540.2,517.3 540.5,517.2 540.9,517.2 541.3,517.1 541.7,517.1 542.1,517.1 542.5,517.1 542.9,517.0 543.3,517.0 543.7,517.0 544.0,517.0 544.4,517.0 544.8,517.0 545.2,517.1 545.6,517.1 546.0,517.2 546.4,517.2 546.8,517.2 547.2,517.2 547.5,517.2 547.9,517.2 548.3,517.2 548.7,517.1 549.1,517.1 549.5,517.1 549.9,517.1 550.3,517.1 550.7,517.1 551.0,517.1 551.4,517.1 551.8,517.0 552.2,517.0 552.6,517.0 553.0,517.0 553.4,517.1 553.8,517.2 554.2,517.2 554.5,517.2 554.9,517.1 555.3,517.1 555.7,517.0 556.1,517.0 556.5,517.1 556.9,517.1 557.3,517.2 557.6,517.2 558.0,517.2 558.4,517.2 558.8,517.2 559.2,517.2 559.6,517.2 560.0,517.2 560.4,517.2 560.8,517.2 561.1,517.3 561.5,517.4 561.9,517.5 562.3,517.5 562.7,517.5 563.1,517.4 563.5,517.3 563.9,517.2 564.3,517.2 564.6,517.2 565.0,517.2 565.4,517.2 565.8,517.2 566.2,517.2 566.6,517.2 567.0,517.1 567.4,517.1 567.8,517.0 568.1,517.0 568.5,517.1 568.9,517.1 569.3,517.1 569.7,517.2 570.1,517.2 570.5,517.2 570.9,517.2 571.3,517.2 571.6,517.2 572.0,517.2 572.4,517.2 572.8,517.1 573.2,517.1 573.6,517.1 574.0,517.1 574.4,517.1 574.8,517.2 575.1,517.2 575.5,517.2 575.9,517.2 576.3,517.2 576.7,517.2 577.1,517.1 577.5,517.1 577.9,517.1 578.3,517.1 578.6,517.1 579.0,517.1 579.4,517.2 579.8,517.3 580.2,517.4 580.6,517.4 581.0,517.4 581.4,517.4 581.8,517.4 582.1,517.4 582.5,517.3 582.9,517.3 583.3,517.3 583.7,517.3 584.1,517.3 584.5,517.4 584.9,517.3 585.3,517.3 585.6,517.2 586.0,517.2 586.4,517.2 586.8,517.2 587.2,517.2 587.6,517.2 588.0,517.2 588.4,517.2 588.7,517.2 589.1,517.3 589.5,517.4 589.9,517.5 590.3,517.6 590.7,517.6 591.1,517.5 591.5,517.4 591.9,517.3 592.2,517.2 592.6,517.1 593.0,517.0 593.4,517.0 593.8,516.9 594.2,516.9 594.6,516.8 595.0,516.8 595.4,516.9 595.7,516.9 596.1,516.9 596.5,517.0 596.9,517.0 597.3,517.1 597.7,517.1 598.1,517.1 598.5,517.1 598.9,517.2 599.2,517.2 599.6,517.3 600.0,517.3 600.4,517.4 600.8,517.4 601.2,517.3 601.6,517.3 602.0,517.3 602.4,517.3 602.7,517.3 603.1,517.3 603.5,517.3 603.9,517.3 604.3,517.4 604.7,517.4 605.1,517.4 605.5,517.4 605.9,517.4 606.2,517.3 606.6,517.2 607.0,517.1 607.4,517.1 607.8,517.1 608.2,517.1 608.6,517.2 609.0,517.2 609.4,517.2 609.7,517.2 610.1,517.2 610.5,517.2 610.9,517.2 611.3,517.3 611.7,517.3 612.1,517.4 612.5,517.5 612.9,517.5 613.2,517.5 613.6,517.5 614.0,517.4 614.4,517.3 614.8,517.2 615.2,517.1 615.6,517.0 616.0,516.9 616.4,516.8 616.7,516.8 617.1,516.8 617.5,516.8 617.9,516.9 618.3,517.0 618.7,517.1 619.1,517.2 619.5,517.2 619.8,517.2 620.2,517.2 620.6,517.2 621.0,517.2 621.4,517.2 621.8,517.2 622.2,517.2 622.6,517.3 623.0,517.3 623.3,517.4 623.7,517.4 624.1,517.4 624.5,517.3 624.9,517.3 625.3,517.3 625.7,517.2 626.1,517.2 626.5,517.1 626.8,517.1 627.2,517.2 627.6,517.2 628.0,517.2 628.4,517.2 628.8,517.2 629.2,517.3 629.6,517.3 630.0,517.3 630.3,517.4 630.7,517.4 631.1,517.3 631.5,517.3 631.9,517.2 632.3,517.2 632.7,517.2 633.1,517.2 633.5,517.2 633.8,517.2 634.2,517.2 634.6,517.2 635.0,517.2 635.4,517.2 635.8,517.2 636.2,517.3 636.6,517.3 637.0,517.3 637.3,517.3 637.7,517.3 638.1,517.3 638.5,517.2 638.9,517.2 639.3,517.1 639.7,517.1 640.1,517.1 640.5,517.1 640.8,517.1 641.2,517.0 641.6,517.0 642.0,516.9 642.4,516.9 642.8,516.9 643.2,517.0 643.6,517.0 644.0,517.0 644.3,517.1 644.7,517.1 645.1,517.2 645.5,517.3 645.9,517.4 646.3,517.4 646.7,517.4 647.1,517.3 647.4,517.3 647.8,517.2 648.2,517.2 648.6,517.2 649.0,517.2 649.4,517.2 649.8,517.2 650.2,517.2 650.6,517.2 650.9,517.1 651.3,517.1 651.7,517.0 652.1,517.0 652.5,517.1 652.9,517.1 653.3,517.2 653.7,517.2 654.1,517.2 654.4,517.2 654.8,517.2 655.2,517.3 655.6,517.4 656.0,517.4 656.4,517.5 656.8,517.4 657.2,517.4 657.6,517.3 657.9,517.2 658.3,517.1 658.7,517.1 659.1,517.1 659.5,517.2 659.9,517.3 660.3,517.4 660.7,517.4 661.1,517.4 661.4,517.4 661.8,517.4 662.2,517.4 662.6,517.4 663.0,517.5 663.4,517.5 663.8,517.4 664.2,517.4 664.6,517.4 664.9,517.3 665.3,517.3 665.7,517.3 666.1,517.3 666.5,517.3 666.9,517.3 667.3,517.3 667.7,517.3 668.1,517.3 668.4,517.2 668.8,517.1 669.2,517.0 669.6,517.0 670.0,517.0 670.4,517.0 670.8,517.1 671.2,517.1 671.6,517.2 671.9,517.2 672.3,517.3 672.7,517.3 673.1,517.4 673.5,517.4 673.9,517.3 674.3,517.3" fill="none" stroke="#ff0000" stroke-width="1.50" stroke-linejoin="round" stroke-linecap="butt" clip-path="url(#c9)"/>
<rect x="552.40" y="417.20" width="125.70" height="23.90" rx="1.6" fill="#fff" fill-opacity="0.8" stroke="#d8d8d8" stroke-width="0.8"/>
<line x1="555.70" y1="423.10" x2="575.40" y2="423.10" stroke="#0000ff" stroke-width="1.50"/>
<line x1="555.70" y1="434.10" x2="575.40" y2="434.10" stroke="#ff0000" stroke-width="1.50"/>
<text transform="translate(581.57 425.80) scale(1.3194 1)" font-size="7.90" font-weight="normal" fill="#222" stroke="#222" stroke-width="0.20">Measurement signal</text>
<text transform="translate(581.56 436.70) scale(1.3285 1)" font-size="7.90" font-weight="normal" fill="#222" stroke="#222" stroke-width="0.20">Predicted voluntary</text>
<rect x="491.00" y="413.00" width="192.00" height="172.20" fill="none" stroke="#666" stroke-width="1.40"/>
<line x1="499.73" y1="585.20" x2="499.73" y2="587.90" stroke="#444" stroke-width="0.90"/>
<text transform="translate(496.77 596.60) scale(1.3000 1)" font-size="8.20" font-weight="normal" fill="#222" stroke="#222" stroke-width="0.20">0</text>
<line x1="554.27" y1="585.20" x2="554.27" y2="587.90" stroke="#444" stroke-width="0.90"/>
<text transform="translate(545.37 596.60) scale(1.3000 1)" font-size="8.20" font-weight="normal" fill="#222" stroke="#222" stroke-width="0.20">500</text>
<line x1="608.82" y1="585.20" x2="608.82" y2="587.90" stroke="#444" stroke-width="0.90"/>
<text transform="translate(596.75 596.60) scale(1.3000 1)" font-size="8.20" font-weight="normal" fill="#222" stroke="#222" stroke-width="0.20">1000</text>
<line x1="663.36" y1="585.20" x2="663.36" y2="587.90" stroke="#444" stroke-width="0.90"/>
<text transform="translate(651.29 596.60) scale(1.3000 1)" font-size="8.20" font-weight="normal" fill="#222" stroke="#222" stroke-width="0.20">1500</text>
<line x1="487.70" y1="585.20" x2="491.00" y2="585.20" stroke="#444" stroke-width="0.80"/>
<text transform="translate(466.92 588.00) scale(1.3000 1)" font-size="8.20" font-weight="normal" fill="#222" stroke="#222" stroke-width="0.20">100</text>
<rect x="460.92" y="584.93" width="5.90" height="1.00" fill="#555"/>
<line x1="487.70" y1="550.76" x2="491.00" y2="550.76" stroke="#444" stroke-width="0.80"/>
<text transform="translate(472.84 553.56) scale(1.3000 1)" font-size="8.20" font-weight="normal" fill="#222" stroke="#222" stroke-width="0.20">50</text>
<rect x="466.47" y="550.49" width="5.90" height="1.00" fill="#555"/>
<line x1="487.70" y1="516.32" x2="491.00" y2="516.32" stroke="#444" stroke-width="0.80"/>
<text transform="translate(478.76 519.12) scale(1.3000 1)" font-size="8.20" font-weight="normal" fill="#222" stroke="#222" stroke-width="0.20">0</text>
<line x1="487.70" y1="481.88" x2="491.00" y2="481.88" stroke="#444" stroke-width="0.80"/>
<text transform="translate(472.84 484.68) scale(1.3000 1)" font-size="8.20" font-weight="normal" fill="#222" stroke="#222" stroke-width="0.20">50</text>
<line x1="487.70" y1="447.44" x2="491.00" y2="447.44" stroke="#444" stroke-width="0.80"/>
<text transform="translate(466.92 450.24) scale(1.3000 1)" font-size="8.20" font-weight="normal" fill="#222" stroke="#222" stroke-width="0.20">100</text>
<line x1="487.70" y1="413.00" x2="491.00" y2="413.00" stroke="#444" stroke-width="0.80"/>
<text transform="translate(466.92 415.80) scale(1.3000 1)" font-size="8.20" font-weight="normal" fill="#222" stroke="#222" stroke-width="0.20">150</text>
<text transform="translate(560.38 408.50) scale(1.3102 1)" font-size="9.30" font-weight="normal" fill="#222" stroke="#222" stroke-width="0.20">Posture-1</text>
<line x1="39.32" y1="619.90" x2="39.32" y2="792.10" stroke="#d3d3d3" stroke-width="1.25"/>
<line x1="93.81" y1="619.90" x2="93.81" y2="792.10" stroke="#d3d3d3" stroke-width="1.25"/>
<line x1="148.30" y1="619.90" x2="148.30" y2="792.10" stroke="#d3d3d3" stroke-width="1.25"/>
<line x1="202.78" y1="619.90" x2="202.78" y2="792.10" stroke="#d3d3d3" stroke-width="1.25"/>
<line x1="30.60" y1="792.10" x2="222.40" y2="792.10" stroke="#d3d3d3" stroke-width="1.25"/>
<line x1="30.60" y1="757.66" x2="222.40" y2="757.66" stroke="#d3d3d3" stroke-width="1.25"/>
<line x1="30.60" y1="723.22" x2="222.40" y2="723.22" stroke="#d3d3d3" stroke-width="1.25"/>
<line x1="30.60" y1="688.78" x2="222.40" y2="688.78" stroke="#d3d3d3" stroke-width="1.25"/>
<line x1="30.60" y1="654.34" x2="222.40" y2="654.34" stroke="#d3d3d3" stroke-width="1.25"/>
<line x1="30.60" y1="619.90" x2="222.40" y2="619.90" stroke="#d3d3d3" stroke-width="1.25"/>
<clipPath id="c10"><rect x="30.60" y="619.90" width="191.80" height="172.20"/></clipPath>
<polyline points="39.3,725.9 39.7,726.2 40.1,726.5 40.5,726.7 40.9,726.8 41.3,726.7 41.6,726.8 42.0,727.1 42.4,727.2 42.8,726.6 43.2,726.3 43.6,726.9 44.0,727.6 44.4,727.8 44.8,727.8 45.1,727.7 45.5,727.2 45.9,726.6 46.3,726.4 46.7,726.6 47.1,726.7 47.5,726.5 47.9,726.2 48.2,725.9 48.6,725.6 49.0,725.4 49.4,725.6 49.8,725.8 50.2,726.1 50.6,726.1 51.0,726.0 51.4,725.9 51.7,726.1 52.1,726.4 52.5,728.4 52.9,726.3 53.3,726.0 53.7,726.1 54.1,726.3 54.5,726.2 54.9,725.9 55.2,725.7 55.6,726.0 56.0,726.7 56.4,726.8 56.8,726.2 57.2,725.9 57.6,726.2 58.0,726.5 58.3,726.4 58.7,726.3 59.1,726.8 59.5,727.4 59.9,727.6 60.3,727.2 60.7,727.0 61.1,727.0 61.5,727.1 61.8,727.2 62.2,727.2 62.6,726.8 63.0,726.2 63.4,725.9 63.8,726.0 64.2,726.4 64.6,727.0 64.9,727.5 65.3,727.5 65.7,727.0 66.1,726.8 66.5,727.0 66.9,727.1 67.3,727.0 67.7,727.0 68.1,726.9 68.4,726.6 68.8,726.6 69.2,726.6 69.6,726.7 70.0,729.6 70.4,726.6 70.8,726.8 71.2,727.0 71.6,727.2 71.9,727.4 72.3,727.5 72.7,727.1 73.1,727.0 73.5,727.2 73.9,727.0 74.3,726.6 74.7,726.7 75.0,726.9 75.4,726.8 75.8,726.8 76.2,726.9 76.6,726.7 77.0,726.1 77.4,730.6 77.8,725.9 78.2,726.3 78.5,726.6 78.9,726.8 79.3,727.1 79.7,726.8 80.1,726.0 80.5,725.5 80.9,725.8 81.3,726.5 81.6,726.9 82.0,726.5 82.4,726.3 82.8,726.4 83.2,726.4 83.6,726.3 84.0,726.6 84.4,727.0 84.8,727.0 85.1,726.8 85.5,726.6 85.9,726.5 86.3,726.4 86.7,726.2 87.1,726.2 87.5,726.4 87.9,726.8 88.2,726.9 88.6,726.6 89.0,726.3 89.4,726.3 89.8,726.5 90.2,726.3 90.6,726.0 91.0,726.2 91.4,726.5 91.7,726.4 92.1,726.1 92.5,725.8 92.9,725.6 93.3,725.7 93.7,726.2 94.1,726.9 94.5,727.3 94.9,727.1 95.2,726.3 95.6,725.7 96.0,725.8 96.4,726.3 96.8,726.6 97.2,726.5 97.6,726.1 98.0,726.0 98.3,726.2 98.7,726.1 99.1,725.9 99.5,725.9 99.9,726.3 100.3,726.4 100.7,726.3 101.1,726.1 101.5,725.9 101.8,726.0 102.2,726.5 102.6,726.9 103.0,726.7 103.4,726.3 103.8,726.3 104.2,726.4 104.6,727.7 104.9,726.5 105.3,726.6 105.7,726.6 106.1,726.3 106.5,725.9 106.9,725.9 107.3,726.3 107.7,726.6 108.1,726.5 108.4,726.2 108.8,726.2 109.2,726.3 109.6,726.2 110.0,726.0 110.4,726.4 110.8,727.1 111.2,727.0 111.5,726.1 111.9,725.6 112.3,725.7 112.7,726.1 113.1,726.6 113.5,727.3 113.9,727.7 114.3,727.5 114.7,727.1 115.0,727.0 115.4,727.0 115.8,727.0 116.2,726.7 116.6,726.3 117.0,726.1 117.4,725.7 117.8,725.2 118.2,725.2 118.5,725.6 118.9,726.4 119.3,727.1 119.7,727.1 120.1,726.8 120.5,726.7 120.9,726.7 121.3,726.4 121.6,726.0 122.0,725.8 122.4,726.0 122.8,726.2 123.2,725.9 123.6,725.6 124.0,725.6 124.4,726.0 124.8,726.2 125.1,726.2 125.5,726.2 125.9,726.3 126.3,726.1 126.7,726.1 127.1,726.3 127.5,726.3 127.9,725.7 128.2,725.3 128.6,725.7 129.0,726.3 129.4,726.5 129.8,726.1 130.2,725.8 130.6,725.9 131.0,726.0 131.4,725.9 131.7,726.1 132.1,726.3 132.5,725.9 132.9,725.4 133.3,725.6 133.7,725.9 134.1,725.7 134.5,725.2 134.8,724.8 135.2,725.0 135.6,725.7 136.0,726.2 136.4,726.3 136.8,726.3 137.2,726.5 137.6,726.4 138.0,726.1 138.3,726.1 138.7,726.1 139.1,725.8 139.5,725.7 139.9,726.1 140.3,726.5 140.7,726.2 141.1,725.9 141.5,725.9 141.8,726.1 142.2,726.4 142.6,726.7 143.0,726.7 143.4,726.4 143.8,726.2 144.2,726.0 144.6,725.7 144.9,725.6 145.3,725.5 145.7,725.4 146.1,725.6 146.5,725.8 146.9,725.6 147.3,725.5 147.7,725.6 148.1,725.5 148.4,725.3 148.8,725.5 149.2,725.6 149.6,725.5 150.0,725.5 150.4,725.6 150.8,725.5 151.2,725.5 151.5,725.7 151.9,726.1 152.3,726.3 152.7,725.9 153.1,725.4 153.5,725.3 153.9,725.4 154.3,725.4 154.7,725.6 155.0,725.9 155.4,725.9 155.8,725.5 156.2,725.2 156.6,725.3 157.0,725.5 157.4,725.3 157.8,724.9 158.1,725.1 158.5,725.7 158.9,725.8 159.3,725.3 159.7,725.1 160.1,725.4 160.5,725.4 160.9,725.6 161.3,726.2 161.6,726.3 162.0,725.9 162.4,725.7 162.8,725.9 163.2,726.2 163.6,726.3 164.0,726.4 164.4,726.7 164.8,726.9 165.1,726.6 165.5,726.0 165.9,725.6 166.3,725.7 166.7,725.8 167.1,725.9 167.5,725.9 167.9,725.9 168.2,725.9 168.6,725.4 169.0,725.1 169.4,725.6 169.8,726.1 170.2,726.3 170.6,726.0 171.0,725.7 171.4,725.9 171.7,726.0 172.1,725.7 172.5,725.4 172.9,725.4 173.3,725.6 173.7,725.8 174.1,725.7 174.5,725.6 174.8,725.6 175.2,725.3 175.6,725.0 176.0,725.1 176.4,725.6 176.8,726.1 177.2,726.4 177.6,726.5 178.0,726.2 178.3,725.7 178.7,725.5 179.1,725.8 179.5,726.3 179.9,726.6 180.3,726.4 180.7,726.1 181.1,726.0 181.4,725.8 181.8,725.7 182.2,725.7 182.6,725.6 183.0,725.3 183.4,725.3 183.8,725.8 184.2,726.4 184.6,726.6 184.9,726.6 185.3,726.5 185.7,726.3 186.1,725.9 186.5,725.5 186.9,725.4 187.3,725.4 187.7,725.2 188.1,725.2 188.4,725.3 188.8,725.5 189.2,725.8 189.6,726.0 190.0,726.1 190.4,726.1 190.8,726.0 191.2,725.9 191.5,725.8 191.9,725.6 192.3,725.4 192.7,725.3 193.1,725.0 193.5,724.5 193.9,724.7 194.3,725.6 194.7,726.2 195.0,726.0 195.4,725.5 195.8,725.0 196.2,725.0 196.6,725.4 197.0,726.0 197.4,725.9 197.8,725.5 198.1,725.4 198.5,725.6 198.9,725.6 199.3,725.6 199.7,725.9 200.1,725.8 200.5,725.4 200.9,725.2 201.3,725.3 201.6,725.6 202.0,726.0 202.4,726.0 202.8,725.6 203.2,725.4 203.6,725.6 204.0,725.7 204.4,725.6 204.8,725.4 205.1,725.3 205.5,725.3 205.9,725.2 206.3,725.0 206.7,724.9 207.1,725.1 207.5,725.6 207.9,726.0 208.2,725.9 208.6,725.6 209.0,725.6 209.4,726.0 209.8,726.1 210.2,726.0 210.6,725.7 211.0,725.5 211.4,725.5 211.7,725.6 212.1,725.7 212.5,725.8 212.9,726.1 213.3,725.9 213.7,725.7" fill="none" stroke="#0000ff" stroke-width="1.50" stroke-linejoin="round" stroke-linecap="butt" clip-path="url(#c10)"/>
<polyline points="39.3,727.5 39.7,727.5 40.1,727.5 40.5,727.5 40.9,727.5 41.3,727.5 41.6,727.4 42.0,727.3 42.4,727.3 42.8,727.3 43.2,727.4 43.6,727.4 44.0,727.4 44.4,727.4 44.8,727.3 45.1,727.3 45.5,727.2 45.9,727.2 46.3,727.3 46.7,727.3 47.1,727.4 47.5,727.4 47.9,727.4 48.2,727.3 48.6,727.3 49.0,727.3 49.4,727.3 49.8,727.4 50.2,727.4 50.6,727.4 51.0,727.4 51.4,727.4 51.7,727.5 52.1,727.5 52.5,727.5 52.9,727.6 53.3,727.6 53.7,727.6 54.1,727.6 54.5,727.6 54.9,727.6 55.2,727.5 55.6,727.6 56.0,727.6 56.4,727.6 56.8,727.6 57.2,727.6 57.6,727.6 58.0,727.5 58.3,727.4 58.7,727.4 59.1,727.4 59.5,727.4 59.9,727.4 60.3,727.5 60.7,727.5 61.1,727.5 61.5,727.5 61.8,727.5 62.2,727.4 62.6,727.4 63.0,727.4 63.4,727.4 63.8,727.4 64.2,727.4 64.6,727.4 64.9,727.4 65.3,727.4 65.7,727.4 66.1,727.4 66.5,727.4 66.9,727.4 67.3,727.3 67.7,727.3 68.1,727.3 68.4,727.3 68.8,727.3 69.2,727.2 69.6,727.2 70.0,727.1 70.4,727.2 70.8,727.2 71.2,727.3 71.6,727.3 71.9,727.4 72.3,727.4 72.7,727.3 73.1,727.3 73.5,727.3 73.9,727.3 74.3,727.3 74.7,727.2 75.0,727.2 75.4,727.2 75.8,727.2 76.2,727.1 76.6,727.0 77.0,726.9 77.4,726.8 77.8,726.7 78.2,726.6 78.5,726.6 78.9,726.6 79.3,726.5 79.7,726.4 80.1,726.4 80.5,726.5 80.9,726.5 81.3,726.6 81.6,726.7 82.0,726.8 82.4,726.8 82.8,726.8 83.2,726.8 83.6,726.7 84.0,726.6 84.4,726.5 84.8,726.4 85.1,726.4 85.5,726.4 85.9,726.4 86.3,726.4 86.7,726.4 87.1,726.5 87.5,726.5 87.9,726.4 88.2,726.4 88.6,726.4 89.0,726.4 89.4,726.4 89.8,726.4 90.2,726.5 90.6,726.5 91.0,726.5 91.4,726.4 91.7,726.4 92.1,726.3 92.5,726.3 92.9,726.3 93.3,726.3 93.7,726.4 94.1,726.5 94.5,726.5 94.9,726.5 95.2,726.5 95.6,726.5 96.0,726.4 96.4,726.5 96.8,726.5 97.2,726.6 97.6,726.7 98.0,726.7 98.3,726.8 98.7,726.8 99.1,726.7 99.5,726.6 99.9,726.5 100.3,726.4 100.7,726.3 101.1,726.2 101.5,726.2 101.8,726.2 102.2,726.3 102.6,726.4 103.0,726.5 103.4,726.5 103.8,726.5 104.2,726.5 104.6,726.5 104.9,726.4 105.3,726.4 105.7,726.3 106.1,726.2 106.5,726.1 106.9,726.1 107.3,726.0 107.7,726.0 108.1,726.1 108.4,726.1 108.8,726.1 109.2,726.2 109.6,726.2 110.0,726.2 110.4,726.2 110.8,726.2 111.2,726.2 111.5,726.2 111.9,726.2 112.3,726.2 112.7,726.3 113.1,726.3 113.5,726.3 113.9,726.2 114.3,726.2 114.7,726.1 115.0,726.1 115.4,726.1 115.8,726.0 116.2,726.0 116.6,726.0 117.0,726.0 117.4,726.0 117.8,726.0 118.2,726.0 118.5,726.1 118.9,726.1 119.3,726.1 119.7,726.0 120.1,726.0 120.5,726.0 120.9,726.1 121.3,726.1 121.6,726.1 122.0,726.1 122.4,726.1 122.8,726.1 123.2,726.1 123.6,726.1 124.0,726.2 124.4,726.2 124.8,726.2 125.1,726.2 125.5,726.3 125.9,726.3 126.3,726.3 126.7,726.3 127.1,726.3 127.5,726.2 127.9,726.1 128.2,726.0 128.6,725.9 129.0,725.9 129.4,726.0 129.8,726.0 130.2,726.1 130.6,726.1 131.0,726.1 131.4,726.1 131.7,726.1 132.1,726.1 132.5,726.1 132.9,726.1 133.3,726.0 133.7,726.0 134.1,726.0 134.5,726.0 134.8,726.0 135.2,726.1 135.6,726.1 136.0,726.1 136.4,726.1 136.8,726.1 137.2,726.1 137.6,726.2 138.0,726.2 138.3,726.3 138.7,726.3 139.1,726.3 139.5,726.2 139.9,726.2 140.3,726.1 140.7,726.0 141.1,726.0 141.5,726.0 141.8,726.1 142.2,726.1 142.6,726.1 143.0,726.0 143.4,726.0 143.8,725.9 144.2,725.9 144.6,725.9 144.9,725.8 145.3,725.8 145.7,725.8 146.1,725.8 146.5,725.8 146.9,725.8 147.3,725.9 147.7,725.9 148.1,725.8 148.4,725.8 148.8,725.8 149.2,725.8 149.6,725.8 150.0,725.9 150.4,726.0 150.8,726.1 151.2,726.1 151.5,726.0 151.9,725.8 152.3,725.7 152.7,725.6 153.1,725.6 153.5,725.7 153.9,725.8 154.3,725.9 154.7,725.9 155.0,725.9 155.4,725.9 155.8,725.9 156.2,725.8 156.6,725.8 157.0,725.8 157.4,725.9 157.8,725.9 158.1,725.9 158.5,726.0 158.9,726.0 159.3,725.9 159.7,725.9 160.1,725.9 160.5,725.9 160.9,725.9 161.3,725.9 161.6,725.9 162.0,726.0 162.4,726.0 162.8,726.0 163.2,726.0 163.6,726.0 164.0,726.0 164.4,726.0 164.8,726.0 165.1,725.9 165.5,725.9 165.9,725.8 166.3,725.7 166.7,725.7 167.1,725.7 167.5,725.7 167.9,725.7 168.2,725.8 168.6,725.8 169.0,725.8 169.4,725.8 169.8,725.8 170.2,725.8 170.6,725.8 171.0,725.8 171.4,725.8 171.7,725.8 172.1,725.8 172.5,725.8 172.9,725.8 173.3,725.8 173.7,725.9 174.1,725.9 174.5,725.9 174.8,725.8 175.2,725.8 175.6,725.8 176.0,725.8 176.4,725.8 176.8,725.9 177.2,725.9 177.6,725.9 178.0,725.9 178.3,725.9 178.7,725.9 179.1,725.9 179.5,725.9 179.9,725.9 180.3,725.9 180.7,725.9 181.1,725.9 181.4,725.9 181.8,725.8 182.2,725.7 182.6,725.7 183.0,725.7 183.4,725.8 183.8,725.9 184.2,726.0 184.6,726.0 184.9,726.1 185.3,726.1 185.7,726.1 186.1,726.1 186.5,726.0 186.9,726.0 187.3,725.9 187.7,725.8 188.1,725.7 188.4,725.7 188.8,725.6 189.2,725.6 189.6,725.7 190.0,725.8 190.4,725.9 190.8,725.9 191.2,726.0 191.5,726.0 191.9,725.9 192.3,725.8 192.7,725.7 193.1,725.7 193.5,725.7 193.9,725.7 194.3,725.8 194.7,725.8 195.0,725.7 195.4,725.7 195.8,725.6 196.2,725.6 196.6,725.6 197.0,725.6 197.4,725.6 197.8,725.6 198.1,725.6 198.5,725.7 198.9,725.7 199.3,725.8 199.7,725.8 200.1,725.8 200.5,725.7 200.9,725.7 201.3,725.6 201.6,725.6 202.0,725.5 202.4,725.5 202.8,725.5 203.2,725.6 203.6,725.7 204.0,725.7 204.4,725.7 204.8,725.7 205.1,725.7 205.5,725.7 205.9,725.7 206.3,725.7 206.7,725.8 207.1,725.8 207.5,725.8 207.9,725.8 208.2,725.8 208.6,725.8 209.0,725.7 209.4,725.7 209.8,725.6 210.2,725.6 210.6,725.5 211.0,725.5 211.4,725.5 211.7,725.6 212.1,725.6 212.5,725.6 212.9,725.6 213.3,725.6 213.7,725.6" fill="none" stroke="#ff0000" stroke-width="1.50" stroke-linejoin="round" stroke-linecap="butt" clip-path="url(#c10)"/>
<rect x="91.80" y="624.10" width="125.70" height="23.90" rx="1.6" fill="#fff" fill-opacity="0.8" stroke="#d8d8d8" stroke-width="0.8"/>
<line x1="95.10" y1="630.00" x2="114.80" y2="630.00" stroke="#0000ff" stroke-width="1.50"/>
<line x1="95.10" y1="641.00" x2="114.80" y2="641.00" stroke="#ff0000" stroke-width="1.50"/>
<text transform="translate(120.97 632.70) scale(1.3194 1)" font-size="7.90" font-weight="normal" fill="#222" stroke="#222" stroke-width="0.20">Measurement signal</text>
<text transform="translate(120.96 643.60) scale(1.3285 1)" font-size="7.90" font-weight="normal" fill="#222" stroke="#222" stroke-width="0.20">Predicted voluntary</text>
<rect x="30.60" y="619.90" width="191.80" height="172.20" fill="none" stroke="#666" stroke-width="1.40"/>
<line x1="39.32" y1="792.10" x2="39.32" y2="794.80" stroke="#444" stroke-width="0.90"/>
<text transform="translate(36.36 803.50) scale(1.3000 1)" font-size="8.20" font-weight="normal" fill="#222" stroke="#222" stroke-width="0.20">0</text>
<line x1="93.81" y1="792.10" x2="93.81" y2="794.80" stroke="#444" stroke-width="0.90"/>
<text transform="translate(84.91 803.50) scale(1.3000 1)" font-size="8.20" font-weight="normal" fill="#222" stroke="#222" stroke-width="0.20">500</text>
<line x1="148.30" y1="792.10" x2="148.30" y2="794.80" stroke="#444" stroke-width="0.90"/>
<text transform="translate(136.22 803.50) scale(1.3000 1)" font-size="8.20" font-weight="normal" fill="#222" stroke="#222" stroke-width="0.20">1000</text>
<line x1="202.78" y1="792.10" x2="202.78" y2="794.80" stroke="#444" stroke-width="0.90"/>
<text transform="translate(190.71 803.50) scale(1.3000 1)" font-size="8.20" font-weight="normal" fill="#222" stroke="#222" stroke-width="0.20">1500</text>
<line x1="27.30" y1="792.10" x2="30.60" y2="792.10" stroke="#444" stroke-width="0.80"/>
<text transform="translate(6.52 794.90) scale(1.3000 1)" font-size="8.20" font-weight="normal" fill="#222" stroke="#222" stroke-width="0.20">100</text>
<rect x="0.52" y="791.83" width="5.90" height="1.00" fill="#555"/>
<line x1="27.30" y1="757.66" x2="30.60" y2="757.66" stroke="#444" stroke-width="0.80"/>
<text transform="translate(12.44 760.46) scale(1.3000 1)" font-size="8.20" font-weight="normal" fill="#222" stroke="#222" stroke-width="0.20">50</text>
<rect x="6.07" y="757.39" width="5.90" height="1.00" fill="#555"/>
<line x1="27.30" y1="723.22" x2="30.60" y2="723.22" stroke="#444" stroke-width="0.80"/>
<text transform="translate(18.36 726.02) scale(1.3000 1)" font-size="8.20" font-weight="normal" fill="#222" stroke="#222" stroke-width="0.20">0</text>
<line x1="27.30" y1="688.78" x2="30.60" y2="688.78" stroke="#444" stroke-width="0.80"/>
<text transform="translate(12.44 691.58) scale(1.3000 1)" font-size="8.20" font-weight="normal" fill="#222" stroke="#222" stroke-width="0.20">50</text>
<line x1="27.30" y1="654.34" x2="30.60" y2="654.34" stroke="#444" stroke-width="0.80"/>
<text transform="translate(6.52 657.14) scale(1.3000 1)" font-size="8.20" font-weight="normal" fill="#222" stroke="#222" stroke-width="0.20">100</text>
<line x1="27.30" y1="619.90" x2="30.60" y2="619.90" stroke="#444" stroke-width="0.80"/>
<text transform="translate(6.52 622.70) scale(1.3000 1)" font-size="8.20" font-weight="normal" fill="#222" stroke="#222" stroke-width="0.20">150</text>
<text transform="translate(99.88 615.40) scale(1.3102 1)" font-size="9.30" font-weight="normal" fill="#222" stroke="#222" stroke-width="0.20">Posture-2</text>
<line x1="269.22" y1="619.90" x2="269.22" y2="792.10" stroke="#d3d3d3" stroke-width="1.25"/>
<line x1="323.74" y1="619.90" x2="323.74" y2="792.10" stroke="#d3d3d3" stroke-width="1.25"/>
<line x1="378.26" y1="619.90" x2="378.26" y2="792.10" stroke="#d3d3d3" stroke-width="1.25"/>
<line x1="432.77" y1="619.90" x2="432.77" y2="792.10" stroke="#d3d3d3" stroke-width="1.25"/>
<line x1="260.50" y1="792.10" x2="452.40" y2="792.10" stroke="#d3d3d3" stroke-width="1.25"/>
<line x1="260.50" y1="757.66" x2="452.40" y2="757.66" stroke="#d3d3d3" stroke-width="1.25"/>
<line x1="260.50" y1="723.22" x2="452.40" y2="723.22" stroke="#d3d3d3" stroke-width="1.25"/>
<line x1="260.50" y1="688.78" x2="452.40" y2="688.78" stroke="#d3d3d3" stroke-width="1.25"/>
<line x1="260.50" y1="654.34" x2="452.40" y2="654.34" stroke="#d3d3d3" stroke-width="1.25"/>
<line x1="260.50" y1="619.90" x2="452.40" y2="619.90" stroke="#d3d3d3" stroke-width="1.25"/>
<clipPath id="c11"><rect x="260.50" y="619.90" width="191.90" height="172.20"/></clipPath>
<polyline points="269.2,734.6 269.6,734.6 270.0,734.9 270.4,734.8 270.8,734.6 271.2,734.6 271.6,734.7 271.9,734.8 272.3,734.8 272.7,734.7 273.1,734.6 273.5,734.4 273.9,734.3 274.3,734.3 274.7,734.3 275.1,734.4 275.4,734.5 275.8,734.6 276.2,734.6 276.6,734.5 277.0,734.5 277.4,736.6 277.8,734.4 278.2,734.4 278.5,734.5 278.9,734.6 279.3,734.7 279.7,734.8 280.1,736.6 280.5,734.7 280.9,734.5 281.3,734.6 281.7,734.7 282.0,734.8 282.4,734.8 282.8,734.6 283.2,734.6 283.6,736.5 284.0,734.8 284.4,734.9 284.8,734.5 285.2,734.3 285.5,734.5 285.9,734.5 286.3,734.5 286.7,734.5 287.1,734.5 287.5,734.8 287.9,734.7 288.3,734.5 288.6,734.5 289.0,734.6 289.4,734.7 289.8,734.7 290.2,734.7 290.6,734.8 291.0,734.8 291.4,734.7 291.8,734.8 292.1,735.1 292.5,736.4 292.9,734.9 293.3,735.0 293.7,735.2 294.1,735.2 294.5,736.3 294.9,735.0 295.3,734.8 295.6,734.7 296.0,734.7 296.4,734.9 296.8,735.0 297.2,735.1 297.6,735.1 298.0,735.0 298.4,734.8 298.8,734.6 299.1,734.7 299.5,734.7 299.9,734.6 300.3,734.7 300.7,735.0 301.1,734.9 301.5,734.7 301.9,734.5 302.2,734.4 302.6,734.8 303.0,734.8 303.4,734.5 303.8,734.4 304.2,734.5 304.6,734.7 305.0,734.9 305.4,734.8 305.7,734.5 306.1,734.5 306.5,734.6 306.9,734.5 307.3,734.6 307.7,734.7 308.1,734.4 308.5,734.2 308.9,736.6 309.2,734.4 309.6,734.3 310.0,734.4 310.4,734.7 310.8,735.1 311.2,735.0 311.6,734.7 312.0,734.6 312.4,734.7 312.7,734.7 313.1,734.7 313.5,734.8 313.9,735.0 314.3,735.0 314.7,735.0 315.1,734.9 315.5,734.9 315.8,734.8 316.2,734.9 316.6,734.9 317.0,734.8 317.4,734.7 317.8,734.6 318.2,734.6 318.6,734.8 319.0,735.0 319.3,734.8 319.7,734.8 320.1,734.9 320.5,735.1 320.9,735.0 321.3,734.9 321.7,735.0 322.1,735.0 322.5,734.8 322.8,734.8 323.2,734.9 323.6,734.8 324.0,734.6 324.4,734.5 324.8,734.7 325.2,734.8 325.6,734.5 325.9,734.4 326.3,734.4 326.7,734.4 327.1,734.5 327.5,734.6 327.9,734.4 328.3,736.3 328.7,734.6 329.1,734.5 329.4,734.4 329.8,734.4 330.2,734.4 330.6,734.6 331.0,734.7 331.4,734.6 331.8,734.5 332.2,734.6 332.6,734.6 332.9,734.7 333.3,734.6 333.7,734.6 334.1,734.7 334.5,734.7 334.9,734.5 335.3,734.6 335.7,734.8 336.1,734.7 336.4,734.6 336.8,734.7 337.2,734.6 337.6,734.5 338.0,734.6 338.4,734.9 338.8,735.0 339.2,734.8 339.5,734.6 339.9,734.6 340.3,734.7 340.7,734.8 341.1,734.7 341.5,734.7 341.9,734.9 342.3,735.1 342.7,735.1 343.0,735.2 343.4,735.4 343.8,735.2 344.2,735.0 344.6,734.9 345.0,735.0 345.4,734.9 345.8,734.9 346.2,734.9 346.5,734.8 346.9,735.0 347.3,735.1 347.7,734.9 348.1,734.7 348.5,734.9 348.9,735.2 349.3,736.5 349.7,735.1 350.0,735.1 350.4,735.0 350.8,735.0 351.2,735.2 351.6,735.3 352.0,735.3 352.4,735.3 352.8,735.1 353.1,734.9 353.5,734.9 353.9,735.1 354.3,735.3 354.7,735.3 355.1,735.1 355.5,735.0 355.9,735.2 356.3,735.0 356.6,734.8 357.0,734.9 357.4,735.1 357.8,734.9 358.2,734.8 358.6,734.8 359.0,734.7 359.4,734.7 359.8,734.9 360.1,735.0 360.5,735.0 360.9,735.1 361.3,735.0 361.7,734.9 362.1,735.2 362.5,735.3 362.9,735.4 363.2,735.5 363.6,735.5 364.0,735.3 364.4,734.9 364.8,734.9 365.2,736.8 365.6,735.1 366.0,735.2 366.4,734.9 366.7,734.6 367.1,734.6 367.5,734.7 367.9,734.8 368.3,734.9 368.7,734.8 369.1,734.7 369.5,734.8 369.9,734.9 370.2,734.6 370.6,734.3 371.0,734.6 371.4,735.0 371.8,735.1 372.2,734.8 372.6,734.7 373.0,734.8 373.4,734.8 373.7,734.6 374.1,734.4 374.5,734.4 374.9,734.6 375.3,736.5 375.7,734.6 376.1,734.6 376.5,734.7 376.8,734.8 377.2,734.8 377.6,734.7 378.0,734.5 378.4,734.4 378.8,734.7 379.2,736.8 379.6,735.0 380.0,735.1 380.3,735.2 380.7,735.2 381.1,734.9 381.5,734.7 381.9,734.9 382.3,735.1 382.7,735.1 383.1,735.0 383.5,735.0 383.8,735.0 384.2,734.8 384.6,734.7 385.0,734.8 385.4,734.9 385.8,734.9 386.2,734.8 386.6,734.9 387.0,734.9 387.3,734.7 387.7,734.5 388.1,734.5 388.5,734.6 388.9,734.8 389.3,734.9 389.7,734.9 390.1,736.3 390.4,735.1 390.8,735.1 391.2,735.0 391.6,735.1 392.0,735.2 392.4,735.0 392.8,734.8 393.2,734.8 393.6,735.0 393.9,734.9 394.3,734.7 394.7,734.9 395.1,735.0 395.5,735.0 395.9,735.1 396.3,735.3 396.7,735.3 397.1,735.1 397.4,734.9 397.8,735.1 398.2,735.2 398.6,734.8 399.0,734.7 399.4,734.8 399.8,734.9 400.2,735.0 400.5,735.2 400.9,735.3 401.3,735.2 401.7,734.9 402.1,734.9 402.5,735.1 402.9,735.3 403.3,735.2 403.7,734.9 404.0,734.8 404.4,734.9 404.8,734.9 405.2,734.8 405.6,734.7 406.0,734.6 406.4,734.7 406.8,734.9 407.2,734.9 407.5,736.9 407.9,734.8 408.3,734.7 408.7,734.8 409.1,735.0 409.5,734.8 409.9,734.7 410.3,734.9 410.7,735.1 411.0,735.1 411.4,735.0 411.8,734.9 412.2,734.9 412.6,734.9 413.0,734.9 413.4,734.7 413.8,734.6 414.1,735.0 414.5,735.2 414.9,735.0 415.3,734.9 415.7,734.8 416.1,734.8 416.5,734.9 416.9,735.0 417.3,735.1 417.6,735.1 418.0,735.0 418.4,735.0 418.8,735.1 419.2,734.9 419.6,734.8 420.0,734.8 420.4,734.8 420.8,735.0 421.1,735.0 421.5,734.7 421.9,734.5 422.3,734.6 422.7,734.5 423.1,734.5 423.5,734.7 423.9,734.8 424.3,734.7 424.6,734.6 425.0,734.8 425.4,735.1 425.8,735.2 426.2,735.1 426.6,735.0 427.0,735.2 427.4,735.3 427.7,735.3 428.1,735.1 428.5,735.0 428.9,735.2 429.3,735.2 429.7,734.9 430.1,734.9 430.5,735.1 430.9,735.1 431.2,735.2 431.6,735.4 432.0,735.2 432.4,735.2 432.8,735.5 433.2,735.4 433.6,735.2 434.0,735.2 434.4,734.9 434.7,734.8 435.1,735.0 435.5,735.2 435.9,735.3 436.3,735.3 436.7,735.2 437.1,735.2 437.5,735.2 437.8,735.2 438.2,735.2 438.6,735.1 439.0,735.2 439.4,735.1 439.8,735.1 440.2,735.1 440.6,735.2 441.0,735.3 441.3,735.3 441.7,735.2 442.1,736.9 442.5,735.1 442.9,734.9 443.3,734.9 443.7,735.0" fill="none" stroke="#0000ff" stroke-width="1.50" stroke-linejoin="round" stroke-linecap="butt" clip-path="url(#c11)"/>
<polyline points="269.2,735.4 269.6,735.4 270.0,735.4 270.4,735.5 270.8,735.5 271.2,735.5 271.6,735.5 271.9,735.5 272.3,735.5 272.7,735.4 273.1,735.4 273.5,735.4 273.9,735.4 274.3,735.3 274.7,735.3 275.1,735.3 275.4,735.3 275.8,735.3 276.2,735.3 276.6,735.3 277.0,735.3 277.4,735.4 277.8,735.4 278.2,735.4 278.5,735.4 278.9,735.4 279.3,735.5 279.7,735.4 280.1,735.4 280.5,735.3 280.9,735.3 281.3,735.3 281.7,735.3 282.0,735.3 282.4,735.3 282.8,735.3 283.2,735.4 283.6,735.4 284.0,735.4 284.4,735.4 284.8,735.4 285.2,735.4 285.5,735.4 285.9,735.4 286.3,735.4 286.7,735.4 287.1,735.4 287.5,735.4 287.9,735.3 288.3,735.3 288.6,735.3 289.0,735.3 289.4,735.3 289.8,735.3 290.2,735.3 290.6,735.3 291.0,735.3 291.4,735.3 291.8,735.3 292.1,735.4 292.5,735.4 292.9,735.4 293.3,735.4 293.7,735.4 294.1,735.4 294.5,735.4 294.9,735.4 295.3,735.4 295.6,735.4 296.0,735.4 296.4,735.3 296.8,735.3 297.2,735.3 297.6,735.3 298.0,735.3 298.4,735.3 298.8,735.4 299.1,735.4 299.5,735.4 299.9,735.4 300.3,735.4 300.7,735.4 301.1,735.4 301.5,735.4 301.9,735.4 302.2,735.4 302.6,735.4 303.0,735.4 303.4,735.4 303.8,735.4 304.2,735.3 304.6,735.3 305.0,735.3 305.4,735.3 305.7,735.3 306.1,735.3 306.5,735.4 306.9,735.4 307.3,735.4 307.7,735.4 308.1,735.4 308.5,735.4 308.9,735.4 309.2,735.4 309.6,735.4 310.0,735.4 310.4,735.4 310.8,735.4 311.2,735.4 311.6,735.5 312.0,735.5 312.4,735.5 312.7,735.5 313.1,735.4 313.5,735.4 313.9,735.3 314.3,735.3 314.7,735.3 315.1,735.3 315.5,735.4 315.8,735.4 316.2,735.5 316.6,735.5 317.0,735.5 317.4,735.5 317.8,735.5 318.2,735.5 318.6,735.5 319.0,735.5 319.3,735.5 319.7,735.4 320.1,735.4 320.5,735.4 320.9,735.4 321.3,735.3 321.7,735.3 322.1,735.3 322.5,735.3 322.8,735.3 323.2,735.3 323.6,735.3 324.0,735.3 324.4,735.4 324.8,735.4 325.2,735.4 325.6,735.4 325.9,735.5 326.3,735.5 326.7,735.5 327.1,735.5 327.5,735.4 327.9,735.4 328.3,735.4 328.7,735.4 329.1,735.4 329.4,735.4 329.8,735.4 330.2,735.4 330.6,735.5 331.0,735.5 331.4,735.5 331.8,735.5 332.2,735.5 332.6,735.5 332.9,735.5 333.3,735.5 333.7,735.5 334.1,735.5 334.5,735.5 334.9,735.5 335.3,735.5 335.7,735.5 336.1,735.5 336.4,735.5 336.8,735.5 337.2,735.5 337.6,735.5 338.0,735.5 338.4,735.5 338.8,735.5 339.2,735.5 339.5,735.5 339.9,735.4 340.3,735.4 340.7,735.4 341.1,735.4 341.5,735.4 341.9,735.4 342.3,735.4 342.7,735.4 343.0,735.4 343.4,735.5 343.8,735.5 344.2,735.5 344.6,735.5 345.0,735.4 345.4,735.4 345.8,735.4 346.2,735.4 346.5,735.4 346.9,735.5 347.3,735.5 347.7,735.5 348.1,735.6 348.5,735.6 348.9,735.6 349.3,735.6 349.7,735.6 350.0,735.6 350.4,735.5 350.8,735.5 351.2,735.5 351.6,735.4 352.0,735.4 352.4,735.5 352.8,735.5 353.1,735.5 353.5,735.5 353.9,735.5 354.3,735.5 354.7,735.5 355.1,735.5 355.5,735.5 355.9,735.5 356.3,735.5 356.6,735.5 357.0,735.4 357.4,735.4 357.8,735.4 358.2,735.4 358.6,735.4 359.0,735.4 359.4,735.4 359.8,735.4 360.1,735.4 360.5,735.4 360.9,735.4 361.3,735.4 361.7,735.4 362.1,735.4 362.5,735.4 362.9,735.4 363.2,735.5 363.6,735.5 364.0,735.5 364.4,735.5 364.8,735.5 365.2,735.5 365.6,735.5 366.0,735.5 366.4,735.6 366.7,735.6 367.1,735.6 367.5,735.6 367.9,735.6 368.3,735.5 368.7,735.5 369.1,735.5 369.5,735.5 369.9,735.5 370.2,735.5 370.6,735.5 371.0,735.5 371.4,735.5 371.8,735.5 372.2,735.5 372.6,735.5 373.0,735.5 373.4,735.5 373.7,735.5 374.1,735.5 374.5,735.5 374.9,735.6 375.3,735.6 375.7,735.6 376.1,735.6 376.5,735.6 376.8,735.6 377.2,735.6 377.6,735.6 378.0,735.6 378.4,735.5 378.8,735.5 379.2,735.5 379.6,735.5 380.0,735.5 380.3,735.5 380.7,735.6 381.1,735.6 381.5,735.6 381.9,735.6 382.3,735.6 382.7,735.5 383.1,735.5 383.5,735.5 383.8,735.5 384.2,735.5 384.6,735.5 385.0,735.5 385.4,735.5 385.8,735.5 386.2,735.5 386.6,735.5 387.0,735.5 387.3,735.5 387.7,735.5 388.1,735.6 388.5,735.6 388.9,735.6 389.3,735.6 389.7,735.5 390.1,735.5 390.4,735.5 390.8,735.5 391.2,735.5 391.6,735.5 392.0,735.5 392.4,735.5 392.8,735.5 393.2,735.5 393.6,735.5 393.9,735.5 394.3,735.6 394.7,735.6 395.1,735.7 395.5,735.7 395.9,735.7 396.3,735.6 396.7,735.6 397.1,735.6 397.4,735.6 397.8,735.6 398.2,735.6 398.6,735.6 399.0,735.6 399.4,735.5 399.8,735.5 400.2,735.5 400.5,735.5 400.9,735.5 401.3,735.6 401.7,735.6 402.1,735.6 402.5,735.6 402.9,735.6 403.3,735.6 403.7,735.6 404.0,735.6 404.4,735.6 404.8,735.6 405.2,735.6 405.6,735.6 406.0,735.6 406.4,735.6 406.8,735.6 407.2,735.6 407.5,735.6 407.9,735.6 408.3,735.6 408.7,735.5 409.1,735.6 409.5,735.6 409.9,735.6 410.3,735.6 410.7,735.6 411.0,735.6 411.4,735.6 411.8,735.6 412.2,735.6 412.6,735.7 413.0,735.7 413.4,735.7 413.8,735.7 414.1,735.6 414.5,735.6 414.9,735.6 415.3,735.6 415.7,735.6 416.1,735.6 416.5,735.6 416.9,735.6 417.3,735.6 417.6,735.6 418.0,735.6 418.4,735.7 418.8,735.6 419.2,735.6 419.6,735.6 420.0,735.6 420.4,735.6 420.8,735.5 421.1,735.5 421.5,735.5 421.9,735.5 422.3,735.6 422.7,735.6 423.1,735.6 423.5,735.6 423.9,735.7 424.3,735.7 424.6,735.7 425.0,735.7 425.4,735.8 425.8,735.8 426.2,735.8 426.6,735.7 427.0,735.7 427.4,735.7 427.7,735.6 428.1,735.6 428.5,735.6 428.9,735.6 429.3,735.6 429.7,735.7 430.1,735.7 430.5,735.7 430.9,735.7 431.2,735.7 431.6,735.7 432.0,735.7 432.4,735.7 432.8,735.7 433.2,735.7 433.6,735.7 434.0,735.7 434.4,735.7 434.7,735.6 435.1,735.6 435.5,735.6 435.9,735.6 436.3,735.7 436.7,735.7 437.1,735.6 437.5,735.6 437.8,735.6 438.2,735.6 438.6,735.6 439.0,735.7 439.4,735.7 439.8,735.7 440.2,735.7 440.6,735.7 441.0,735.7 441.3,735.7 441.7,735.7 442.1,735.7 442.5,735.7 442.9,735.7 443.3,735.7 443.7,735.7" fill="none" stroke="#ff0000" stroke-width="1.50" stroke-linejoin="round" stroke-linecap="butt" clip-path="url(#c11)"/>
<rect x="321.80" y="624.10" width="125.70" height="23.90" rx="1.6" fill="#fff" fill-opacity="0.8" stroke="#d8d8d8" stroke-width="0.8"/>
<line x1="325.10" y1="630.00" x2="344.80" y2="630.00" stroke="#0000ff" stroke-width="1.50"/>
<line x1="325.10" y1="641.00" x2="344.80" y2="641.00" stroke="#ff0000" stroke-width="1.50"/>
<text transform="translate(350.97 632.70) scale(1.3194 1)" font-size="7.90" font-weight="normal" fill="#222" stroke="#222" stroke-width="0.20">Measurement signal</text>
<text transform="translate(350.96 643.60) scale(1.3285 1)" font-size="7.90" font-weight="normal" fill="#222" stroke="#222" stroke-width="0.20">Predicted voluntary</text>
<rect x="260.50" y="619.90" width="191.90" height="172.20" fill="none" stroke="#666" stroke-width="1.40"/>
<line x1="269.22" y1="792.10" x2="269.22" y2="794.80" stroke="#444" stroke-width="0.90"/>
<text transform="translate(266.26 803.50) scale(1.3000 1)" font-size="8.20" font-weight="normal" fill="#222" stroke="#222" stroke-width="0.20">0</text>
<line x1="323.74" y1="792.10" x2="323.74" y2="794.80" stroke="#444" stroke-width="0.90"/>
<text transform="translate(314.84 803.50) scale(1.3000 1)" font-size="8.20" font-weight="normal" fill="#222" stroke="#222" stroke-width="0.20">500</text>
<line x1="378.26" y1="792.10" x2="378.26" y2="794.80" stroke="#444" stroke-width="0.90"/>
<text transform="translate(366.18 803.50) scale(1.3000 1)" font-size="8.20" font-weight="normal" fill="#222" stroke="#222" stroke-width="0.20">1000</text>
<line x1="432.77" y1="792.10" x2="432.77" y2="794.80" stroke="#444" stroke-width="0.90"/>
<text transform="translate(420.70 803.50) scale(1.3000 1)" font-size="8.20" font-weight="normal" fill="#222" stroke="#222" stroke-width="0.20">1500</text>
<line x1="257.20" y1="792.10" x2="260.50" y2="792.10" stroke="#444" stroke-width="0.80"/>
<text transform="translate(236.42 794.90) scale(1.3000 1)" font-size="8.20" font-weight="normal" fill="#222" stroke="#222" stroke-width="0.20">100</text>
<rect x="230.42" y="791.83" width="5.90" height="1.00" fill="#555"/>
<line x1="257.20" y1="757.66" x2="260.50" y2="757.66" stroke="#444" stroke-width="0.80"/>
<text transform="translate(242.34 760.46) scale(1.3000 1)" font-size="8.20" font-weight="normal" fill="#222" stroke="#222" stroke-width="0.20">50</text>
<rect x="235.97" y="757.39" width="5.90" height="1.00" fill="#555"/>
<line x1="257.20" y1="723.22" x2="260.50" y2="723.22" stroke="#444" stroke-width="0.80"/>
<text transform="translate(248.26 726.02) scale(1.3000 1)" font-size="8.20" font-weight="normal" fill="#222" stroke="#222" stroke-width="0.20">0</text>
<line x1="257.20" y1="688.78" x2="260.50" y2="688.78" stroke="#444" stroke-width="0.80"/>
<text transform="translate(242.34 691.58) scale(1.3000 1)" font-size="8.20" font-weight="normal" fill="#222" stroke="#222" stroke-width="0.20">50</text>
<line x1="257.20" y1="654.34" x2="260.50" y2="654.34" stroke="#444" stroke-width="0.80"/>
<text transform="translate(236.42 657.14) scale(1.3000 1)" font-size="8.20" font-weight="normal" fill="#222" stroke="#222" stroke-width="0.20">100</text>
<line x1="257.20" y1="619.90" x2="260.50" y2="619.90" stroke="#444" stroke-width="0.80"/>
<text transform="translate(236.42 622.70) scale(1.3000 1)" font-size="8.20" font-weight="normal" fill="#222" stroke="#222" stroke-width="0.20">150</text>
<text transform="translate(337.64 615.40) scale(1.2838 1)" font-size="9.30" font-weight="normal" fill="#222" stroke="#222" stroke-width="0.20">Load-1</text>
<line x1="498.80" y1="619.90" x2="498.80" y2="792.40" stroke="#c9c9c9" stroke-width="1.10"/>
<line x1="530.15" y1="619.90" x2="530.15" y2="792.40" stroke="#c9c9c9" stroke-width="1.10"/>
<line x1="561.50" y1="619.90" x2="561.50" y2="792.40" stroke="#c9c9c9" stroke-width="1.10"/>
<line x1="592.85" y1="619.90" x2="592.85" y2="792.40" stroke="#c9c9c9" stroke-width="1.10"/>
<line x1="624.20" y1="619.90" x2="624.20" y2="792.40" stroke="#c9c9c9" stroke-width="1.10"/>
<line x1="655.55" y1="619.90" x2="655.55" y2="792.40" stroke="#c9c9c9" stroke-width="1.10"/>
<line x1="491.50" y1="781.31" x2="683.00" y2="781.31" stroke="#c9c9c9" stroke-width="1.10"/>
<line x1="491.50" y1="755.41" x2="683.00" y2="755.41" stroke="#c9c9c9" stroke-width="1.10"/>
<line x1="491.50" y1="729.51" x2="683.00" y2="729.51" stroke="#c9c9c9" stroke-width="1.10"/>
<line x1="491.50" y1="703.61" x2="683.00" y2="703.61" stroke="#c9c9c9" stroke-width="1.10"/>
<line x1="491.50" y1="677.71" x2="683.00" y2="677.71" stroke="#c9c9c9" stroke-width="1.10"/>
<line x1="491.50" y1="651.81" x2="683.00" y2="651.81" stroke="#c9c9c9" stroke-width="1.10"/>
<line x1="491.50" y1="625.91" x2="683.00" y2="625.91" stroke="#c9c9c9" stroke-width="1.10"/>
<clipPath id="c12"><rect x="491.50" y="619.90" width="191.50" height="172.50"/></clipPath>
<polyline points="498.0,725.6 498.4,725.9 498.8,727.1 499.2,728.0 499.5,728.4 499.9,731.1 500.3,729.4 500.7,722.1 501.0,715.8 501.4,715.8 501.8,717.1 502.1,717.5 502.5,719.6 502.9,718.9 503.3,720.1 503.6,719.0 504.0,720.1 504.4,720.7 504.7,721.5 505.1,720.9 505.5,720.7 505.9,721.2 506.2,721.2 506.6,720.8 507.0,720.9 507.4,720.8 507.7,720.4 508.1,720.5 508.5,719.4 508.8,720.8 509.2,719.0 509.6,719.5 510.0,719.1 510.3,719.2 510.7,718.1 511.1,717.8 511.4,717.2 511.8,717.3 512.2,716.2 512.6,714.2 512.9,714.2 513.3,713.9 513.7,712.0 514.0,711.7 514.4,710.4 514.8,709.4 515.2,709.1 515.5,709.3 515.9,707.9 516.3,707.0 516.7,707.2 517.0,706.3 517.4,705.6 517.8,706.2 518.1,704.7 518.5,704.1 518.9,704.1 519.3,703.6 519.6,703.1 520.0,701.8 520.4,702.6 520.7,702.1 521.1,701.2 521.5,701.6 521.9,701.4 522.2,700.4 522.6,699.1 523.0,698.5 523.4,699.2 523.7,698.9 524.1,697.8 524.5,697.5 524.8,697.2 525.2,696.6 525.6,696.1 526.0,696.5 526.3,696.1 526.7,697.0 527.1,696.8 527.4,695.8 527.8,695.3 528.2,695.1 528.6,695.1 528.9,694.9 529.3,694.7 529.7,696.2 530.1,695.4 530.4,694.6 530.8,694.4 531.2,695.6 531.5,693.8 531.9,694.7 532.3,694.4 532.7,694.3 533.0,694.2 533.4,695.9 533.8,694.7 534.1,695.5 534.5,696.3 534.9,696.3 535.3,697.8 535.6,696.7 536.0,696.1 536.4,696.6 536.8,696.3 537.1,696.1 537.5,695.9 537.9,695.2 538.2,695.8 538.6,695.9 539.0,695.3 539.4,694.7 539.7,696.5 540.1,696.3 540.5,697.9 540.8,696.4 541.2,697.2 541.6,697.1 542.0,698.2 542.3,699.2 542.7,698.3 543.1,698.7 543.5,700.0 543.8,700.7 544.2,699.9 544.6,700.7 544.9,699.4 545.3,701.8 545.7,702.2 546.1,702.3 546.4,703.7 546.8,703.7 547.2,702.5 547.5,704.1 547.9,704.8 548.3,705.6 548.7,704.9 549.0,705.3 549.4,706.0 549.8,706.8 550.2,706.7 550.5,707.1 550.9,708.1 551.3,707.7 551.6,709.7 552.0,709.6 552.4,709.4 552.8,709.6 553.1,710.6 553.5,710.1 553.9,710.0 554.2,710.8 554.6,711.6 555.0,711.9 555.4,712.8 555.7,714.5 556.1,714.6 556.5,714.3 556.9,716.5 557.2,716.5 557.6,717.4 558.0,718.4 558.3,719.2 558.7,719.0 559.1,718.9 559.5,719.0 559.8,720.2 560.2,719.5 560.6,719.2 560.9,718.9 561.3,719.1 561.7,719.1 562.1,719.0 562.4,719.4 562.8,720.7 563.2,720.5 563.6,721.3 563.9,722.6 564.3,722.5 564.7,720.4 565.0,722.8 565.4,723.8 565.8,723.0 566.2,722.0 566.5,723.3 566.9,722.5 567.3,721.9 567.6,720.8 568.0,719.0 568.4,718.3 568.8,717.8 569.1,716.2 569.5,715.1 569.9,715.1 570.2,713.9 570.6,713.1 571.0,712.8 571.4,710.9 571.7,710.9 572.1,710.3 572.5,710.1 572.9,709.0 573.2,706.5 573.6,707.3 574.0,705.6 574.3,705.8 574.7,704.9 575.1,704.5 575.5,705.1 575.8,704.5 576.2,703.9 576.6,703.6 576.9,703.4 577.3,703.3 577.7,702.4 578.1,701.6 578.4,701.7 578.8,702.1 579.2,701.0 579.6,700.9 579.9,700.3 580.3,699.0 580.7,700.0 581.0,699.5 581.4,699.7 581.8,698.9 582.2,698.8 582.5,697.3 582.9,698.0 583.3,698.4 583.6,696.7 584.0,698.5 584.4,697.0 584.8,696.7 585.1,696.9 585.5,696.9 585.9,695.9 586.3,695.1 586.6,693.5 587.0,694.6 587.4,692.5 587.7,691.7 588.1,692.5 588.5,693.5 588.9,692.8 589.2,693.4 589.6,692.8 590.0,692.7 590.3,693.8 590.7,695.3 591.1,694.4 591.5,694.9 591.8,694.0 592.2,693.4 592.6,694.4 593.0,693.4 593.3,693.8 593.7,694.3 594.1,695.4 594.4,694.8 594.8,695.5 595.2,693.7 595.6,693.9 595.9,692.9 596.3,693.3 596.7,694.4 597.0,692.5 597.4,692.0 597.8,691.3 598.2,693.6 598.5,694.5 598.9,694.9 599.3,696.6 599.7,697.7 600.0,698.5 600.4,697.2 600.8,700.2 601.1,701.4 601.5,701.9 601.9,702.4 602.3,702.5 602.6,703.5 603.0,704.5 603.4,705.8 603.7,706.5 604.1,707.8 604.5,708.9 604.9,707.3 605.2,709.5 605.6,709.2 606.0,710.6 606.4,711.1 606.7,711.7 607.1,713.1 607.5,712.9 607.8,713.1 608.2,713.1 608.6,713.6 609.0,713.6 609.3,714.3 609.7,714.8 610.1,716.4 610.4,715.8 610.8,714.8 611.2,716.0 611.6,715.9 611.9,716.8 612.3,717.2 612.7,715.6 613.1,716.7 613.4,716.0 613.8,716.6 614.2,717.2 614.5,718.5 614.9,717.0 615.3,718.1 615.7,718.6 616.0,716.5 616.4,716.8 616.8,716.9 617.1,717.3 617.5,717.4 617.9,717.3 618.3,718.0 618.6,718.6 619.0,718.7 619.4,721.3 619.7,719.7 620.1,721.2 620.5,720.9 620.9,721.2 621.2,723.2 621.6,722.8 622.0,723.5 622.4,725.2 622.7,725.7 623.1,726.0 623.5,727.4 623.8,725.9 624.2,725.1 624.6,725.1 625.0,725.4 625.3,724.3 625.7,722.7 626.1,722.1 626.4,721.6 626.8,720.6 627.2,718.7 627.6,717.3 627.9,716.3 628.3,714.6 628.7,712.6 629.1,711.3 629.4,712.4 629.8,709.3 630.2,708.8 630.5,707.2 630.9,706.9 631.3,705.7 631.7,703.9 632.0,705.8 632.4,702.0 632.8,701.9 633.1,702.2 633.5,702.3 633.9,700.2 634.3,700.7 634.6,699.2 635.0,699.5 635.4,699.4 635.8,698.5 636.1,698.7 636.5,698.1 636.9,697.8 637.2,697.9 637.6,697.3 638.0,697.2 638.4,698.3 638.7,697.5 639.1,697.3 639.5,697.3 639.8,697.9 640.2,697.1 640.6,696.3 641.0,696.3 641.3,695.3 641.7,696.5 642.1,696.2 642.5,696.1 642.8,695.9 643.2,696.3 643.6,697.3 643.9,696.1 644.3,695.9 644.7,696.1 645.1,697.7 645.4,697.3 645.8,696.3 646.2,697.7 646.5,697.6 646.9,698.2 647.3,697.7 647.7,697.9 648.0,697.7 648.4,699.7 648.8,700.6 649.2,702.5 649.5,702.9 649.9,704.0 650.3,704.6 650.6,706.1 651.0,705.4 651.4,707.6 651.8,707.7 652.1,709.5 652.5,708.8 652.9,708.3 653.2,710.1 653.6,709.6 654.0,710.1 654.4,710.2 654.7,710.3 655.1,711.3 655.5,711.2 655.9,711.8 656.2,712.2 656.6,712.7 657.0,711.6 657.3,712.9 657.7,712.4 658.1,712.8 658.5,714.0 658.8,713.1 659.2,714.6 659.6,714.0 659.9,713.8 660.3,715.5 660.7,716.0 661.1,716.3 661.4,714.6 661.8,716.6 662.2,717.5 662.6,716.4 662.9,717.2 663.3,717.3 663.7,718.0 664.0,719.0 664.4,718.2 664.8,718.6 665.2,719.1 665.5,718.9 665.9,719.0 666.3,718.1 666.6,718.3 667.0,718.6 667.4,719.4 667.8,720.0 668.1,719.2 668.5,719.3 668.9,719.0 669.2,719.0 669.6,718.3 670.0,717.3 670.4,717.3 670.7,716.5 671.1,714.9 671.5,715.4 671.9,713.9 672.2,712.7 672.6,712.3 673.0,711.0 673.3,710.8 673.7,709.0 674.1,708.0 674.5,706.2 674.8,705.2 675.2,704.3 675.6,702.3 675.9,703.3 676.3,704.0 676.7,704.4 677.1,704.2 677.4,704.7 677.8,703.5 678.2,704.3 678.6,704.7 678.9,704.3 679.3,703.9 679.7,702.8 680.0,701.2 680.4,700.9 680.8,700.8 681.2,700.1 681.5,700.7 681.9,698.5 682.3,698.6 682.6,697.3 683.0,698.0 683.4,697.9 683.8,697.2" fill="none" stroke="#0000ff" stroke-width="1.60" stroke-linejoin="round" stroke-linecap="butt" clip-path="url(#c12)"/>
<polyline points="498.0,721.5 498.4,721.1 498.8,720.7 499.2,720.3 499.5,719.9 499.9,719.5 500.3,719.1 500.6,718.6 501.0,718.3 501.4,718.3 501.8,718.3 502.1,718.3 502.5,718.3 502.9,718.3 503.2,718.3 503.6,718.3 504.0,718.3 504.4,718.3 504.7,718.2 505.1,717.9 505.5,717.6 505.8,717.3 506.2,717.0 506.6,716.7 506.9,716.4 507.3,716.1 507.7,715.8 508.1,715.5 508.4,715.2 508.8,714.9 509.2,714.6 509.5,714.4 509.9,714.1 510.3,713.8 510.7,713.5 511.0,713.2 511.4,712.9 511.8,712.6 512.1,712.3 512.5,711.9 512.9,711.6 513.3,711.3 513.6,710.9 514.0,710.6 514.4,710.3 514.7,709.9 515.1,709.6 515.5,709.3 515.9,708.9 516.2,708.6 516.6,708.3 517.0,707.9 517.3,707.6 517.7,707.3 518.1,706.9 518.4,706.6 518.8,706.3 519.2,705.9 519.6,705.6 519.9,705.3 520.3,705.0 520.7,704.7 521.0,704.4 521.4,704.1 521.8,703.8 522.2,703.4 522.5,703.1 522.9,702.8 523.3,702.5 523.6,702.2 524.0,702.0 524.4,701.8 524.8,701.6 525.1,701.5 525.5,701.3 525.9,701.1 526.2,700.9 526.6,700.7 527.0,700.5 527.3,700.3 527.7,700.1 528.1,700.0 528.5,700.0 528.8,700.1 529.2,700.2 529.6,700.2 529.9,700.3 530.3,700.3 530.7,700.4 531.1,700.4 531.4,700.5 531.8,700.5 532.2,700.6 532.5,700.6 532.9,700.7 533.3,700.7 533.7,700.8 534.0,700.8 534.4,700.6 534.8,700.5 535.1,700.4 535.5,700.3 535.9,700.1 536.3,700.0 536.6,699.9 537.0,699.7 537.4,699.6 537.7,699.5 538.1,699.3 538.5,698.9 538.8,698.3 539.2,697.8 539.6,697.3 540.0,697.2 540.3,697.4 540.7,697.5 541.1,697.6 541.4,697.7 541.8,697.8 542.2,698.0 542.6,698.1 542.9,698.2 543.3,698.3 543.7,698.5 544.0,698.6 544.4,698.9 544.8,699.2 545.2,699.6 545.5,699.9 545.9,700.2 546.3,700.5 546.6,700.9 547.0,701.2 547.4,701.5 547.8,701.9 548.1,702.2 548.5,702.5 548.9,702.8 549.2,703.2 549.6,703.5 550.0,703.9 550.3,704.3 550.7,704.7 551.1,705.2 551.5,705.6 551.8,706.0 552.2,706.5 552.6,706.9 552.9,707.3 553.3,707.7 553.7,708.2 554.1,708.6 554.4,709.2 554.8,709.8 555.2,710.5 555.5,711.2 555.9,711.9 556.3,712.6 556.7,713.2 557.0,713.9 557.4,714.6 557.8,715.3 558.1,715.9 558.5,716.6 558.9,717.0 559.2,717.3 559.6,717.6 560.0,717.9 560.4,718.2 560.7,718.5 561.1,718.8 561.5,719.1 561.8,719.4 562.2,719.7 562.6,719.5 563.0,719.3 563.3,719.1 563.7,718.8 564.1,718.6 564.4,718.4 564.8,718.2 565.2,717.9 565.6,717.7 565.9,717.5 566.3,717.0 566.7,716.6 567.0,716.2 567.4,715.8 567.8,715.3 568.2,714.9 568.5,714.5 568.9,714.1 569.3,713.6 569.6,713.2 570.0,713.0 570.4,712.7 570.7,712.4 571.1,712.2 571.5,711.9 571.9,711.7 572.2,711.4 572.6,711.2 573.0,710.9 573.3,710.7 573.7,710.4 574.1,710.2 574.5,709.9 574.8,709.7 575.2,709.5 575.6,709.3 575.9,709.1 576.3,708.9 576.7,708.7 577.1,708.5 577.4,708.3 577.8,708.1 578.2,707.9 578.5,707.7 578.9,707.5 579.3,707.3 579.6,707.1 580.0,706.9 580.4,706.7 580.8,706.2 581.1,705.6 581.5,704.9 581.9,704.2 582.2,703.5 582.6,702.9 583.0,702.2 583.4,701.5 583.7,700.8 584.1,700.1 584.5,699.5 584.8,698.8 585.2,698.5 585.6,698.5 586.0,698.4 586.3,698.3 586.7,698.3 587.1,698.2 587.4,698.1 587.8,698.1 588.2,698.0 588.6,697.9 588.9,697.9 589.3,697.8 589.7,697.9 590.0,697.9 590.4,698.0 590.8,698.0 591.1,698.1 591.5,698.1 591.9,698.2 592.3,698.2 592.6,698.3 593.0,698.3 593.4,698.4 593.7,698.4 594.1,698.5 594.5,698.5 594.9,698.6 595.2,698.7 595.6,698.9 596.0,699.2 596.3,699.5 596.7,699.7 597.1,700.0 597.5,700.3 597.8,700.5 598.2,700.8 598.6,701.1 598.9,701.3 599.3,701.6 599.7,701.9 600.1,702.1 600.4,702.4 600.8,702.6 601.2,702.9 601.5,703.2 601.9,703.5 602.3,703.8 602.6,704.0 603.0,704.3 603.4,704.6 603.8,704.9 604.1,705.2 604.5,705.5 604.9,705.7 605.2,706.0 605.6,706.3 606.0,706.6 606.4,706.9 606.7,707.2 607.1,707.5 607.5,708.0 607.8,708.4 608.2,708.8 608.6,709.2 609.0,709.7 609.3,710.1 609.7,710.5 610.1,710.9 610.4,711.4 610.8,711.8 611.2,712.2 611.5,712.6 611.9,713.1 612.3,713.4 612.7,713.8 613.0,714.2 613.4,714.5 613.8,714.9 614.1,715.3 614.5,715.6 614.9,716.0 615.3,716.4 615.6,716.7 616.0,717.1 616.4,717.4 616.7,717.8 617.1,718.1 617.5,718.4 617.9,718.7 618.2,719.0 618.6,719.3 619.0,719.7 619.3,720.0 619.7,720.3 620.1,720.6 620.5,720.9 620.8,721.2 621.2,720.7 621.6,720.2 621.9,719.7 622.3,719.3 622.7,718.8 623.0,718.3 623.4,717.8 623.8,717.3 624.2,716.8 624.5,716.3 624.9,715.8 625.3,715.3 625.6,714.8 626.0,714.3 626.4,713.7 626.8,713.2 627.1,712.7 627.5,712.2 627.9,711.6 628.2,711.1 628.6,710.6 629.0,710.1 629.4,709.5 629.7,709.0 630.1,708.5 630.5,708.0 630.8,707.6 631.2,707.2 631.6,706.8 632.0,706.4 632.3,706.0 632.7,705.6 633.1,705.2 633.4,704.8 633.8,704.4 634.2,703.9 634.5,703.5 634.9,703.1 635.3,702.7 635.7,702.5 636.0,702.3 636.4,702.2 636.8,702.0 637.1,701.9 637.5,701.7 637.9,701.6 638.3,701.4 638.6,701.3 639.0,701.2 639.4,701.0 639.7,700.9 640.1,700.7 640.5,700.6 640.9,700.4 641.2,700.3 641.6,700.1 642.0,700.0 642.3,700.1 642.7,700.2 643.1,700.3 643.4,700.4 643.8,700.5 644.2,700.6 644.6,700.7 644.9,700.7 645.3,700.8 645.7,700.9 646.0,701.0 646.4,701.1 646.8,701.2 647.2,701.3 647.5,701.4 647.9,701.6 648.3,702.0 648.6,702.5 649.0,702.9 649.4,703.3 649.8,703.7 650.1,704.1 650.5,704.6 650.9,705.0 651.2,705.4 651.6,705.8 652.0,706.2 652.4,706.7 652.7,707.1 653.1,707.5 653.5,707.9 653.8,708.3 654.2,708.8 654.6,709.2 654.9,709.6 655.3,710.0 655.7,710.5 656.1,710.9 656.4,711.3 656.8,711.8 657.2,712.2 657.5,712.6 657.9,713.0 658.3,713.3 658.7,713.6 659.0,713.8 659.4,714.0 659.8,714.3 660.1,714.5 660.5,714.7 660.9,715.0 661.3,715.2 661.6,715.4 662.0,715.7 662.4,715.9 662.7,716.1 663.1,716.4 663.5,716.6 663.8,716.8 664.2,716.6 664.6,716.4 665.0,716.2 665.3,716.1 665.7,715.9 666.1,715.7 666.4,715.5 666.8,715.3 667.2,715.1 667.6,714.9 667.9,714.8 668.3,714.6 668.7,714.4 669.0,714.2 669.4,714.0 669.8,713.5 670.2,712.8 670.5,712.1 670.9,711.3 671.3,710.6 671.6,709.8 672.0,709.1 672.4,708.3 672.8,707.6 673.1,706.8 673.5,706.1 673.9,705.4 674.2,705.1 674.6,705.0 675.0,704.9 675.3,704.8 675.7,704.7 676.1,704.6 676.5,704.5 676.8,704.4 677.2,704.3 677.6,704.2 677.9,704.1 678.3,704.0 678.7,704.1 679.1,704.2 679.4,704.2 679.8,704.3 680.2,704.4 680.5,704.4 680.9,704.5 681.3,704.6 681.7,704.6 682.0,704.7 682.4,704.8 682.8,704.8 683.1,704.9" fill="none" stroke="#ff0000" stroke-width="1.60" stroke-linejoin="round" stroke-linecap="butt" clip-path="url(#c12)"/>
<rect x="552.50" y="623.60" width="126.00" height="24.60" rx="1.6" fill="#fff" fill-opacity="0.8" stroke="#d8d8d8" stroke-width="0.8"/>
<line x1="555.60" y1="630.10" x2="575.40" y2="630.10" stroke="#0000ff" stroke-width="1.60"/>
<line x1="555.60" y1="641.40" x2="575.40" y2="641.40" stroke="#ff0000" stroke-width="1.60"/>
<text transform="translate(581.77 632.80) scale(1.3581 1)" font-size="7.60" font-weight="normal" fill="#222" stroke="#222" stroke-width="0.20">Measurement signal</text>
<text transform="translate(581.77 644.10) scale(1.3732 1)" font-size="7.60" font-weight="normal" fill="#222" stroke="#222" stroke-width="0.20">Predicted voluntary</text>
<rect x="491.50" y="619.90" width="191.50" height="172.50" fill="none" stroke="#555" stroke-width="1.05"/>
<line x1="498.80" y1="792.40" x2="498.80" y2="795.10" stroke="#444" stroke-width="0.90"/>
<text transform="translate(495.84 803.90) scale(1.3000 1)" font-size="8.20" font-weight="normal" fill="#222" stroke="#222" stroke-width="0.20">0</text>
<line x1="530.15" y1="792.40" x2="530.15" y2="795.10" stroke="#444" stroke-width="0.90"/>
<text transform="translate(521.19 803.90) scale(1.3000 1)" font-size="8.20" font-weight="normal" fill="#222" stroke="#222" stroke-width="0.20">250</text>
<line x1="561.50" y1="792.40" x2="561.50" y2="795.10" stroke="#444" stroke-width="0.90"/>
<text transform="translate(552.60 803.90) scale(1.3000 1)" font-size="8.20" font-weight="normal" fill="#222" stroke="#222" stroke-width="0.20">500</text>
<line x1="592.85" y1="792.40" x2="592.85" y2="795.10" stroke="#444" stroke-width="0.90"/>
<text transform="translate(583.89 803.90) scale(1.3000 1)" font-size="8.20" font-weight="normal" fill="#222" stroke="#222" stroke-width="0.20">750</text>
<line x1="624.20" y1="792.40" x2="624.20" y2="795.10" stroke="#444" stroke-width="0.90"/>
<text transform="translate(612.13 803.90) scale(1.3000 1)" font-size="8.20" font-weight="normal" fill="#222" stroke="#222" stroke-width="0.20">1000</text>
<line x1="655.55" y1="792.40" x2="655.55" y2="795.10" stroke="#444" stroke-width="0.90"/>
<text transform="translate(643.48 803.90) scale(1.3000 1)" font-size="8.20" font-weight="normal" fill="#222" stroke="#222" stroke-width="0.20">1250</text>
<line x1="488.00" y1="781.31" x2="491.50" y2="781.31" stroke="#444" stroke-width="0.80"/>
<text transform="translate(467.02 783.96) scale(1.3000 1)" font-size="8.20" font-weight="normal" fill="#222" stroke="#222" stroke-width="0.20">100</text>
<rect x="461.02" y="780.89" width="5.90" height="1.00" fill="#555"/>
<line x1="488.00" y1="755.41" x2="491.50" y2="755.41" stroke="#444" stroke-width="0.80"/>
<text transform="translate(472.94 758.06) scale(1.3000 1)" font-size="8.20" font-weight="normal" fill="#222" stroke="#222" stroke-width="0.20">50</text>
<rect x="466.57" y="754.99" width="5.90" height="1.00" fill="#555"/>
<line x1="488.00" y1="729.51" x2="491.50" y2="729.51" stroke="#444" stroke-width="0.80"/>
<text transform="translate(478.86 732.16) scale(1.3000 1)" font-size="8.20" font-weight="normal" fill="#222" stroke="#222" stroke-width="0.20">0</text>
<line x1="488.00" y1="703.61" x2="491.50" y2="703.61" stroke="#444" stroke-width="0.80"/>
<text transform="translate(472.94 706.26) scale(1.3000 1)" font-size="8.20" font-weight="normal" fill="#222" stroke="#222" stroke-width="0.20">50</text>
<line x1="488.00" y1="677.71" x2="491.50" y2="677.71" stroke="#444" stroke-width="0.80"/>
<text transform="translate(467.02 680.36) scale(1.3000 1)" font-size="8.20" font-weight="normal" fill="#222" stroke="#222" stroke-width="0.20">100</text>
<line x1="488.00" y1="651.81" x2="491.50" y2="651.81" stroke="#444" stroke-width="0.80"/>
<text transform="translate(467.02 654.46) scale(1.3000 1)" font-size="8.20" font-weight="normal" fill="#222" stroke="#222" stroke-width="0.20">150</text>
<line x1="488.00" y1="625.91" x2="491.50" y2="625.91" stroke="#444" stroke-width="0.80"/>
<text transform="translate(467.02 628.56) scale(1.3000 1)" font-size="8.20" font-weight="normal" fill="#222" stroke="#222" stroke-width="0.20">200</text>
<text transform="translate(523.26 616.90) scale(1.1942 1)" font-size="9.30" font-weight="normal" fill="#222" stroke="#222" stroke-width="0.20">Finger-to-nose Motion Test</text>
<text transform="translate(334.98 387.50) scale(1.0000 1)" font-size="12.50" font-weight="bold" fill="#111">(a)</text>
<text transform="translate(334.73 832.40) scale(1.0000 1)" font-size="12.50" font-weight="bold" fill="#111">(b)</text>
</svg>
</body></html>
